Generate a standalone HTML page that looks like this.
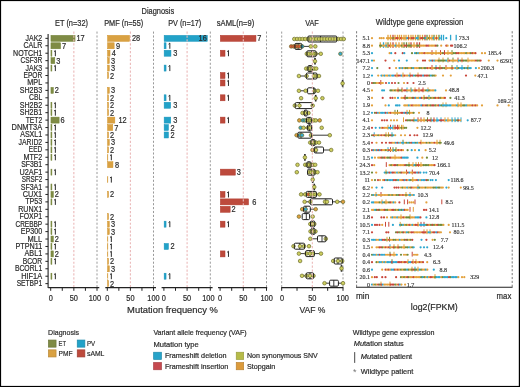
<!DOCTYPE html>
<html><head><meta charset="utf-8"><style>
html,body{margin:0;padding:0;background:#fff;}
svg{display:block;font-family:"Liberation Sans",sans-serif;will-change:transform;filter:blur(0.25px);}

</style></head><body>
<svg width="520" height="387" viewBox="0 0 520 387">
<rect x="0.00" y="0.00" width="520.00" height="387.00" fill="#000" />
<rect x="1.10" y="1.10" width="517.70" height="384.80" fill="#fff" />
<rect x="50.95" y="35.35" width="24.10" height="6.00" fill="#7f8b45" stroke="#718232" stroke-width="0.5"/>
<rect x="50.95" y="42.78" width="9.63" height="6.00" fill="#7f8b45" stroke="#718232" stroke-width="0.5"/>
<rect x="50.95" y="50.22" width="0.95" height="6.00" fill="#7f8b45" stroke="#718232" stroke-width="0.5"/>
<rect x="50.95" y="57.65" width="3.84" height="6.00" fill="#7f8b45" stroke="#718232" stroke-width="0.5"/>
<rect x="50.95" y="65.08" width="0.95" height="6.00" fill="#7f8b45" stroke="#718232" stroke-width="0.5"/>
<rect x="50.95" y="87.38" width="2.39" height="6.00" fill="#7f8b45" stroke="#718232" stroke-width="0.5"/>
<rect x="50.95" y="102.25" width="0.95" height="6.00" fill="#7f8b45" stroke="#718232" stroke-width="0.5"/>
<rect x="50.95" y="109.68" width="0.95" height="6.00" fill="#7f8b45" stroke="#718232" stroke-width="0.5"/>
<rect x="50.95" y="117.11" width="8.18" height="6.00" fill="#7f8b45" stroke="#718232" stroke-width="0.5"/>
<rect x="50.95" y="124.55" width="0.95" height="6.00" fill="#7f8b45" stroke="#718232" stroke-width="0.5"/>
<rect x="50.95" y="131.98" width="0.95" height="6.00" fill="#7f8b45" stroke="#718232" stroke-width="0.5"/>
<rect x="50.95" y="139.41" width="0.95" height="6.00" fill="#7f8b45" stroke="#718232" stroke-width="0.5"/>
<rect x="50.95" y="146.84" width="0.95" height="6.00" fill="#7f8b45" stroke="#718232" stroke-width="0.5"/>
<rect x="50.95" y="154.28" width="0.95" height="6.00" fill="#7f8b45" stroke="#718232" stroke-width="0.5"/>
<rect x="50.95" y="169.14" width="0.95" height="6.00" fill="#7f8b45" stroke="#718232" stroke-width="0.5"/>
<rect x="50.95" y="184.01" width="0.95" height="6.00" fill="#7f8b45" stroke="#718232" stroke-width="0.5"/>
<rect x="50.95" y="191.44" width="2.39" height="6.00" fill="#7f8b45" stroke="#718232" stroke-width="0.5"/>
<rect x="50.95" y="198.88" width="0.95" height="6.00" fill="#7f8b45" stroke="#718232" stroke-width="0.5"/>
<rect x="50.95" y="221.17" width="0.95" height="6.00" fill="#7f8b45" stroke="#718232" stroke-width="0.5"/>
<rect x="50.95" y="228.61" width="0.95" height="6.00" fill="#7f8b45" stroke="#718232" stroke-width="0.5"/>
<rect x="50.95" y="236.04" width="2.39" height="6.00" fill="#7f8b45" stroke="#718232" stroke-width="0.5"/>
<rect x="50.95" y="243.47" width="0.95" height="6.00" fill="#7f8b45" stroke="#718232" stroke-width="0.5"/>
<rect x="50.95" y="250.91" width="2.39" height="6.00" fill="#7f8b45" stroke="#718232" stroke-width="0.5"/>
<rect x="50.95" y="258.34" width="0.95" height="6.00" fill="#7f8b45" stroke="#718232" stroke-width="0.5"/>
<rect x="50.95" y="273.21" width="0.95" height="6.00" fill="#7f8b45" stroke="#718232" stroke-width="0.5"/>
<line x1="73.85" y1="31.55" x2="73.85" y2="287.60" stroke="#ebb9b9" stroke-width="1.1" stroke-dasharray="2.2 1.7" stroke-dashoffset="0"/>
<line x1="97.00" y1="31.55" x2="97.00" y2="287.60" stroke="#9a9a9a" stroke-width="1.0" stroke-dasharray="2.1 1.8" stroke-dashoffset="0"/>
<text x="76.40" y="41.35" font-size="8.6" fill="#2b2b2b" stroke="#2b2b2b" stroke-width="0.2" textLength="8.23" lengthAdjust="spacingAndGlyphs" >17</text>
<text x="61.93" y="48.78" font-size="8.6" fill="#2b2b2b" stroke="#2b2b2b" stroke-width="0.2" textLength="4.11" lengthAdjust="spacingAndGlyphs" >7</text>
<path d="M55.35,56.22 L55.35,50.52 L54.05,51.62" fill="none" stroke="#2b2b2b" stroke-width="1.0" stroke-linejoin="miter"/>
<text x="56.14" y="63.65" font-size="8.6" fill="#2b2b2b" stroke="#2b2b2b" stroke-width="0.2" textLength="4.11" lengthAdjust="spacingAndGlyphs" >3</text>
<path d="M55.35,71.08 L55.35,65.38 L54.05,66.48" fill="none" stroke="#2b2b2b" stroke-width="1.0" stroke-linejoin="miter"/>
<text x="54.69" y="93.38" font-size="8.6" fill="#2b2b2b" stroke="#2b2b2b" stroke-width="0.2" textLength="4.11" lengthAdjust="spacingAndGlyphs" >2</text>
<path d="M55.35,108.25 L55.35,102.55 L54.05,103.65" fill="none" stroke="#2b2b2b" stroke-width="1.0" stroke-linejoin="miter"/>
<path d="M55.35,115.68 L55.35,109.98 L54.05,111.08" fill="none" stroke="#2b2b2b" stroke-width="1.0" stroke-linejoin="miter"/>
<text x="60.48" y="123.11" font-size="8.6" fill="#2b2b2b" stroke="#2b2b2b" stroke-width="0.2" textLength="4.11" lengthAdjust="spacingAndGlyphs" >6</text>
<path d="M55.35,130.55 L55.35,124.85 L54.05,125.95" fill="none" stroke="#2b2b2b" stroke-width="1.0" stroke-linejoin="miter"/>
<path d="M55.35,137.98 L55.35,132.28 L54.05,133.38" fill="none" stroke="#2b2b2b" stroke-width="1.0" stroke-linejoin="miter"/>
<path d="M55.35,145.41 L55.35,139.71 L54.05,140.81" fill="none" stroke="#2b2b2b" stroke-width="1.0" stroke-linejoin="miter"/>
<path d="M55.35,152.84 L55.35,147.15 L54.05,148.25" fill="none" stroke="#2b2b2b" stroke-width="1.0" stroke-linejoin="miter"/>
<path d="M55.35,160.28 L55.35,154.58 L54.05,155.68" fill="none" stroke="#2b2b2b" stroke-width="1.0" stroke-linejoin="miter"/>
<path d="M55.35,175.14 L55.35,169.44 L54.05,170.54" fill="none" stroke="#2b2b2b" stroke-width="1.0" stroke-linejoin="miter"/>
<path d="M55.35,190.01 L55.35,184.31 L54.05,185.41" fill="none" stroke="#2b2b2b" stroke-width="1.0" stroke-linejoin="miter"/>
<text x="54.69" y="197.44" font-size="8.6" fill="#2b2b2b" stroke="#2b2b2b" stroke-width="0.2" textLength="4.11" lengthAdjust="spacingAndGlyphs" >2</text>
<path d="M55.35,204.88 L55.35,199.18 L54.05,200.28" fill="none" stroke="#2b2b2b" stroke-width="1.0" stroke-linejoin="miter"/>
<path d="M55.35,227.17 L55.35,221.47 L54.05,222.57" fill="none" stroke="#2b2b2b" stroke-width="1.0" stroke-linejoin="miter"/>
<path d="M55.35,234.61 L55.35,228.91 L54.05,230.01" fill="none" stroke="#2b2b2b" stroke-width="1.0" stroke-linejoin="miter"/>
<text x="54.69" y="242.04" font-size="8.6" fill="#2b2b2b" stroke="#2b2b2b" stroke-width="0.2" textLength="4.11" lengthAdjust="spacingAndGlyphs" >2</text>
<path d="M55.35,249.47 L55.35,243.77 L54.05,244.87" fill="none" stroke="#2b2b2b" stroke-width="1.0" stroke-linejoin="miter"/>
<text x="54.69" y="256.91" font-size="8.6" fill="#2b2b2b" stroke="#2b2b2b" stroke-width="0.2" textLength="4.11" lengthAdjust="spacingAndGlyphs" >2</text>
<path d="M55.35,264.34 L55.35,258.64 L54.05,259.74" fill="none" stroke="#2b2b2b" stroke-width="1.0" stroke-linejoin="miter"/>
<path d="M55.35,279.21 L55.35,273.51 L54.05,274.61" fill="none" stroke="#2b2b2b" stroke-width="1.0" stroke-linejoin="miter"/>
<line x1="48.20" y1="287.60" x2="99.30" y2="287.60" stroke="#222" stroke-width="1.1"/>
<line x1="50.70" y1="287.60" x2="50.70" y2="290.80" stroke="#222" stroke-width="1.0"/>
<line x1="62.28" y1="287.60" x2="62.28" y2="290.80" stroke="#222" stroke-width="1.0"/>
<line x1="73.85" y1="287.60" x2="73.85" y2="290.80" stroke="#222" stroke-width="1.0"/>
<line x1="85.42" y1="287.60" x2="85.42" y2="290.80" stroke="#222" stroke-width="1.0"/>
<line x1="97.00" y1="287.60" x2="97.00" y2="290.80" stroke="#222" stroke-width="1.0"/>
<text x="48.65" y="300.70" font-size="8.2" fill="#2b2b2b" stroke="#2b2b2b" stroke-width="0.2" textLength="4.10" lengthAdjust="spacingAndGlyphs" >0</text>
<text x="69.75" y="300.70" font-size="8.2" fill="#2b2b2b" stroke="#2b2b2b" stroke-width="0.2" textLength="8.21" lengthAdjust="spacingAndGlyphs" >50</text>
<text x="88.74" y="300.70" font-size="8.2" fill="#2b2b2b" stroke="#2b2b2b" stroke-width="0.2" textLength="12.31" lengthAdjust="spacingAndGlyphs" >100</text>
<rect x="107.55" y="35.35" width="22.10" height="6.00" fill="#d9a142" stroke="#d1942c" stroke-width="0.5"/>
<rect x="107.55" y="42.78" width="6.60" height="6.00" fill="#d9a142" stroke="#d1942c" stroke-width="0.5"/>
<rect x="107.55" y="50.22" width="2.46" height="6.00" fill="#d9a142" stroke="#d1942c" stroke-width="0.5"/>
<rect x="107.55" y="57.65" width="1.72" height="6.00" fill="#d9a142" stroke="#d1942c" stroke-width="0.5"/>
<rect x="107.55" y="65.08" width="1.72" height="6.00" fill="#d9a142" stroke="#d1942c" stroke-width="0.5"/>
<rect x="107.55" y="72.52" width="0.98" height="6.00" fill="#d9a142" stroke="#d1942c" stroke-width="0.5"/>
<rect x="107.55" y="87.38" width="1.72" height="6.00" fill="#d9a142" stroke="#d1942c" stroke-width="0.5"/>
<rect x="107.55" y="94.81" width="0.98" height="6.00" fill="#d9a142" stroke="#d1942c" stroke-width="0.5"/>
<rect x="107.55" y="102.25" width="0.98" height="6.00" fill="#d9a142" stroke="#d1942c" stroke-width="0.5"/>
<rect x="107.55" y="109.68" width="0.98" height="6.00" fill="#d9a142" stroke="#d1942c" stroke-width="0.5"/>
<rect x="107.55" y="117.11" width="7.30" height="6.00" fill="#d9a142" stroke="#d1942c" stroke-width="0.5"/>
<rect x="107.55" y="124.55" width="5.20" height="6.00" fill="#d9a142" stroke="#d1942c" stroke-width="0.5"/>
<rect x="107.55" y="131.98" width="0.98" height="6.00" fill="#d9a142" stroke="#d1942c" stroke-width="0.5"/>
<rect x="107.55" y="139.41" width="1.72" height="6.00" fill="#d9a142" stroke="#d1942c" stroke-width="0.5"/>
<rect x="107.55" y="146.84" width="0.98" height="6.00" fill="#d9a142" stroke="#d1942c" stroke-width="0.5"/>
<rect x="107.55" y="154.28" width="0.30" height="6.00" fill="#d9a142" stroke="#d1942c" stroke-width="0.5"/>
<rect x="107.55" y="161.71" width="5.40" height="6.00" fill="#d9a142" stroke="#d1942c" stroke-width="0.5"/>
<rect x="107.55" y="176.58" width="0.30" height="6.00" fill="#d9a142" stroke="#d1942c" stroke-width="0.5"/>
<rect x="107.55" y="191.44" width="0.98" height="6.00" fill="#d9a142" stroke="#d1942c" stroke-width="0.5"/>
<rect x="107.55" y="213.74" width="0.98" height="6.00" fill="#d9a142" stroke="#d1942c" stroke-width="0.5"/>
<rect x="107.55" y="221.17" width="1.72" height="6.00" fill="#d9a142" stroke="#d1942c" stroke-width="0.5"/>
<rect x="107.55" y="228.61" width="1.72" height="6.00" fill="#d9a142" stroke="#d1942c" stroke-width="0.5"/>
<rect x="107.55" y="236.04" width="0.30" height="6.00" fill="#d9a142" stroke="#d1942c" stroke-width="0.5"/>
<rect x="107.55" y="243.47" width="0.30" height="6.00" fill="#d9a142" stroke="#d1942c" stroke-width="0.5"/>
<rect x="107.55" y="250.91" width="0.30" height="6.00" fill="#d9a142" stroke="#d1942c" stroke-width="0.5"/>
<rect x="107.55" y="258.34" width="0.98" height="6.00" fill="#d9a142" stroke="#d1942c" stroke-width="0.5"/>
<rect x="107.55" y="265.77" width="1.72" height="6.00" fill="#d9a142" stroke="#d1942c" stroke-width="0.5"/>
<rect x="107.55" y="273.21" width="0.30" height="6.00" fill="#d9a142" stroke="#d1942c" stroke-width="0.5"/>
<rect x="107.55" y="280.64" width="0.98" height="6.00" fill="#d9a142" stroke="#d1942c" stroke-width="0.5"/>
<line x1="130.40" y1="31.55" x2="130.40" y2="287.60" stroke="#ebb9b9" stroke-width="1.1" stroke-dasharray="2.2 1.7" stroke-dashoffset="0"/>
<line x1="153.50" y1="31.55" x2="153.50" y2="287.60" stroke="#9a9a9a" stroke-width="1.0" stroke-dasharray="2.1 1.8" stroke-dashoffset="0"/>
<text x="131.92" y="41.35" font-size="8.6" fill="#2b2b2b" stroke="#2b2b2b" stroke-width="0.2" textLength="8.23" lengthAdjust="spacingAndGlyphs" >28</text>
<text x="115.96" y="48.78" font-size="8.6" fill="#2b2b2b" stroke="#2b2b2b" stroke-width="0.2" textLength="4.11" lengthAdjust="spacingAndGlyphs" >9</text>
<text x="111.76" y="56.22" font-size="8.6" fill="#2b2b2b" stroke="#2b2b2b" stroke-width="0.2" textLength="4.11" lengthAdjust="spacingAndGlyphs" >4</text>
<text x="110.92" y="63.65" font-size="8.6" fill="#2b2b2b" stroke="#2b2b2b" stroke-width="0.2" textLength="4.11" lengthAdjust="spacingAndGlyphs" >3</text>
<text x="110.92" y="71.08" font-size="8.6" fill="#2b2b2b" stroke="#2b2b2b" stroke-width="0.2" textLength="4.11" lengthAdjust="spacingAndGlyphs" >3</text>
<text x="110.08" y="78.52" font-size="8.6" fill="#2b2b2b" stroke="#2b2b2b" stroke-width="0.2" textLength="4.11" lengthAdjust="spacingAndGlyphs" >2</text>
<text x="110.92" y="93.38" font-size="8.6" fill="#2b2b2b" stroke="#2b2b2b" stroke-width="0.2" textLength="4.11" lengthAdjust="spacingAndGlyphs" >3</text>
<text x="110.08" y="100.81" font-size="8.6" fill="#2b2b2b" stroke="#2b2b2b" stroke-width="0.2" textLength="4.11" lengthAdjust="spacingAndGlyphs" >2</text>
<text x="110.08" y="108.25" font-size="8.6" fill="#2b2b2b" stroke="#2b2b2b" stroke-width="0.2" textLength="4.11" lengthAdjust="spacingAndGlyphs" >2</text>
<text x="110.08" y="115.68" font-size="8.6" fill="#2b2b2b" stroke="#2b2b2b" stroke-width="0.2" textLength="4.11" lengthAdjust="spacingAndGlyphs" >2</text>
<text x="118.48" y="123.11" font-size="8.6" fill="#2b2b2b" stroke="#2b2b2b" stroke-width="0.2" textLength="8.23" lengthAdjust="spacingAndGlyphs" >12</text>
<text x="114.28" y="130.55" font-size="8.6" fill="#2b2b2b" stroke="#2b2b2b" stroke-width="0.2" textLength="4.11" lengthAdjust="spacingAndGlyphs" >7</text>
<text x="110.08" y="137.98" font-size="8.6" fill="#2b2b2b" stroke="#2b2b2b" stroke-width="0.2" textLength="4.11" lengthAdjust="spacingAndGlyphs" >2</text>
<text x="110.92" y="145.41" font-size="8.6" fill="#2b2b2b" stroke="#2b2b2b" stroke-width="0.2" textLength="4.11" lengthAdjust="spacingAndGlyphs" >3</text>
<text x="110.08" y="152.84" font-size="8.6" fill="#2b2b2b" stroke="#2b2b2b" stroke-width="0.2" textLength="4.11" lengthAdjust="spacingAndGlyphs" >2</text>
<path d="M111.34,160.28 L111.34,154.58 L110.04,155.68" fill="none" stroke="#2b2b2b" stroke-width="1.0" stroke-linejoin="miter"/>
<text x="115.12" y="167.71" font-size="8.6" fill="#2b2b2b" stroke="#2b2b2b" stroke-width="0.2" textLength="4.11" lengthAdjust="spacingAndGlyphs" >8</text>
<path d="M111.34,182.58 L111.34,176.88 L110.04,177.98" fill="none" stroke="#2b2b2b" stroke-width="1.0" stroke-linejoin="miter"/>
<text x="110.08" y="197.44" font-size="8.6" fill="#2b2b2b" stroke="#2b2b2b" stroke-width="0.2" textLength="4.11" lengthAdjust="spacingAndGlyphs" >2</text>
<text x="110.08" y="219.74" font-size="8.6" fill="#2b2b2b" stroke="#2b2b2b" stroke-width="0.2" textLength="4.11" lengthAdjust="spacingAndGlyphs" >2</text>
<text x="110.92" y="227.17" font-size="8.6" fill="#2b2b2b" stroke="#2b2b2b" stroke-width="0.2" textLength="4.11" lengthAdjust="spacingAndGlyphs" >3</text>
<text x="110.92" y="234.61" font-size="8.6" fill="#2b2b2b" stroke="#2b2b2b" stroke-width="0.2" textLength="4.11" lengthAdjust="spacingAndGlyphs" >3</text>
<path d="M111.34,242.04 L111.34,236.34 L110.04,237.44" fill="none" stroke="#2b2b2b" stroke-width="1.0" stroke-linejoin="miter"/>
<path d="M111.34,249.47 L111.34,243.77 L110.04,244.87" fill="none" stroke="#2b2b2b" stroke-width="1.0" stroke-linejoin="miter"/>
<path d="M111.34,256.91 L111.34,251.21 L110.04,252.31" fill="none" stroke="#2b2b2b" stroke-width="1.0" stroke-linejoin="miter"/>
<text x="110.08" y="264.34" font-size="8.6" fill="#2b2b2b" stroke="#2b2b2b" stroke-width="0.2" textLength="4.11" lengthAdjust="spacingAndGlyphs" >2</text>
<text x="110.92" y="271.77" font-size="8.6" fill="#2b2b2b" stroke="#2b2b2b" stroke-width="0.2" textLength="4.11" lengthAdjust="spacingAndGlyphs" >3</text>
<path d="M111.34,279.21 L111.34,273.51 L110.04,274.61" fill="none" stroke="#2b2b2b" stroke-width="1.0" stroke-linejoin="miter"/>
<text x="110.08" y="286.64" font-size="8.6" fill="#2b2b2b" stroke="#2b2b2b" stroke-width="0.2" textLength="4.11" lengthAdjust="spacingAndGlyphs" >2</text>
<line x1="105.30" y1="287.60" x2="156.00" y2="287.60" stroke="#222" stroke-width="1.1"/>
<line x1="107.30" y1="287.60" x2="107.30" y2="290.80" stroke="#222" stroke-width="1.0"/>
<line x1="118.85" y1="287.60" x2="118.85" y2="290.80" stroke="#222" stroke-width="1.0"/>
<line x1="130.40" y1="287.60" x2="130.40" y2="290.80" stroke="#222" stroke-width="1.0"/>
<line x1="141.95" y1="287.60" x2="141.95" y2="290.80" stroke="#222" stroke-width="1.0"/>
<line x1="153.50" y1="287.60" x2="153.50" y2="290.80" stroke="#222" stroke-width="1.0"/>
<text x="105.25" y="300.70" font-size="8.2" fill="#2b2b2b" stroke="#2b2b2b" stroke-width="0.2" textLength="4.10" lengthAdjust="spacingAndGlyphs" >0</text>
<text x="126.30" y="300.70" font-size="8.2" fill="#2b2b2b" stroke="#2b2b2b" stroke-width="0.2" textLength="8.21" lengthAdjust="spacingAndGlyphs" >50</text>
<text x="147.34" y="300.70" font-size="8.2" fill="#2b2b2b" stroke="#2b2b2b" stroke-width="0.2" textLength="12.31" lengthAdjust="spacingAndGlyphs" >100</text>
<rect x="164.15" y="35.35" width="43.17" height="6.00" fill="#22a2c8" stroke="#1894bb" stroke-width="0.5"/>
<rect x="164.15" y="42.78" width="1.90" height="6.00" fill="#22a2c8" stroke="#1894bb" stroke-width="0.5"/>
<rect x="164.15" y="50.22" width="6.80" height="6.00" fill="#22a2c8" stroke="#1894bb" stroke-width="0.5"/>
<rect x="164.15" y="65.08" width="1.90" height="6.00" fill="#22a2c8" stroke="#1894bb" stroke-width="0.5"/>
<rect x="164.15" y="94.81" width="1.90" height="6.00" fill="#22a2c8" stroke="#1894bb" stroke-width="0.5"/>
<rect x="164.15" y="102.25" width="6.50" height="6.00" fill="#22a2c8" stroke="#1894bb" stroke-width="0.5"/>
<rect x="164.15" y="117.11" width="6.60" height="6.00" fill="#22a2c8" stroke="#1894bb" stroke-width="0.5"/>
<rect x="164.15" y="124.55" width="4.30" height="6.00" fill="#22a2c8" stroke="#1894bb" stroke-width="0.5"/>
<rect x="164.15" y="131.98" width="4.30" height="6.00" fill="#22a2c8" stroke="#1894bb" stroke-width="0.5"/>
<rect x="164.15" y="221.17" width="1.90" height="6.00" fill="#22a2c8" stroke="#1894bb" stroke-width="0.5"/>
<rect x="164.15" y="243.47" width="4.30" height="6.00" fill="#22a2c8" stroke="#1894bb" stroke-width="0.5"/>
<rect x="164.15" y="273.21" width="1.90" height="6.00" fill="#22a2c8" stroke="#1894bb" stroke-width="0.5"/>
<line x1="187.10" y1="31.55" x2="187.10" y2="287.60" stroke="#ebb9b9" stroke-width="1.1" stroke-dasharray="2.2 1.7" stroke-dashoffset="0"/>
<line x1="210.30" y1="31.55" x2="210.30" y2="287.60" stroke="#9a9a9a" stroke-width="1.0" stroke-dasharray="2.1 1.8" stroke-dashoffset="0"/>
<text x="198.54" y="41.35" font-size="8.6" fill="#2b2b2b" stroke="#2b2b2b" stroke-width="0.2" textLength="8.23" lengthAdjust="spacingAndGlyphs" >16</text>
<path d="M169.83,48.78 L169.83,43.08 L168.53,44.18" fill="none" stroke="#2b2b2b" stroke-width="1.0" stroke-linejoin="miter"/>
<text x="173.19" y="56.22" font-size="8.6" fill="#2b2b2b" stroke="#2b2b2b" stroke-width="0.2" textLength="4.11" lengthAdjust="spacingAndGlyphs" >3</text>
<path d="M169.83,71.08 L169.83,65.38 L168.53,66.48" fill="none" stroke="#2b2b2b" stroke-width="1.0" stroke-linejoin="miter"/>
<path d="M169.83,100.81 L169.83,95.11 L168.53,96.21" fill="none" stroke="#2b2b2b" stroke-width="1.0" stroke-linejoin="miter"/>
<text x="173.19" y="108.25" font-size="8.6" fill="#2b2b2b" stroke="#2b2b2b" stroke-width="0.2" textLength="4.11" lengthAdjust="spacingAndGlyphs" >3</text>
<text x="173.19" y="123.11" font-size="8.6" fill="#2b2b2b" stroke="#2b2b2b" stroke-width="0.2" textLength="4.11" lengthAdjust="spacingAndGlyphs" >3</text>
<text x="170.46" y="130.55" font-size="8.6" fill="#2b2b2b" stroke="#2b2b2b" stroke-width="0.2" textLength="4.11" lengthAdjust="spacingAndGlyphs" >2</text>
<text x="170.46" y="137.98" font-size="8.6" fill="#2b2b2b" stroke="#2b2b2b" stroke-width="0.2" textLength="4.11" lengthAdjust="spacingAndGlyphs" >2</text>
<path d="M169.83,227.17 L169.83,221.47 L168.53,222.57" fill="none" stroke="#2b2b2b" stroke-width="1.0" stroke-linejoin="miter"/>
<text x="170.46" y="249.47" font-size="8.6" fill="#2b2b2b" stroke="#2b2b2b" stroke-width="0.2" textLength="4.11" lengthAdjust="spacingAndGlyphs" >2</text>
<path d="M169.83,279.21 L169.83,273.51 L168.53,274.61" fill="none" stroke="#2b2b2b" stroke-width="1.0" stroke-linejoin="miter"/>
<line x1="161.60" y1="287.60" x2="212.60" y2="287.60" stroke="#222" stroke-width="1.1"/>
<line x1="163.90" y1="287.60" x2="163.90" y2="290.80" stroke="#222" stroke-width="1.0"/>
<line x1="175.50" y1="287.60" x2="175.50" y2="290.80" stroke="#222" stroke-width="1.0"/>
<line x1="187.10" y1="287.60" x2="187.10" y2="290.80" stroke="#222" stroke-width="1.0"/>
<line x1="198.70" y1="287.60" x2="198.70" y2="290.80" stroke="#222" stroke-width="1.0"/>
<line x1="210.30" y1="287.60" x2="210.30" y2="290.80" stroke="#222" stroke-width="1.0"/>
<text x="161.85" y="300.70" font-size="8.2" fill="#2b2b2b" stroke="#2b2b2b" stroke-width="0.2" textLength="4.10" lengthAdjust="spacingAndGlyphs" >0</text>
<text x="183.00" y="300.70" font-size="8.2" fill="#2b2b2b" stroke="#2b2b2b" stroke-width="0.2" textLength="8.21" lengthAdjust="spacingAndGlyphs" >50</text>
<text x="202.24" y="300.70" font-size="8.2" fill="#2b2b2b" stroke="#2b2b2b" stroke-width="0.2" textLength="12.31" lengthAdjust="spacingAndGlyphs" >100</text>
<rect x="220.35" y="35.35" width="35.59" height="6.00" fill="#bd4a3c" stroke="#b0392d" stroke-width="0.5"/>
<rect x="220.35" y="50.22" width="4.66" height="6.00" fill="#bd4a3c" stroke="#b0392d" stroke-width="0.5"/>
<rect x="220.35" y="72.52" width="4.66" height="6.00" fill="#bd4a3c" stroke="#b0392d" stroke-width="0.5"/>
<rect x="220.35" y="79.95" width="4.66" height="6.00" fill="#bd4a3c" stroke="#b0392d" stroke-width="0.5"/>
<rect x="220.35" y="94.81" width="4.66" height="6.00" fill="#bd4a3c" stroke="#b0392d" stroke-width="0.5"/>
<rect x="220.35" y="117.11" width="4.66" height="6.00" fill="#bd4a3c" stroke="#b0392d" stroke-width="0.5"/>
<rect x="220.35" y="169.14" width="14.97" height="6.00" fill="#bd4a3c" stroke="#b0392d" stroke-width="0.5"/>
<rect x="220.35" y="191.44" width="4.66" height="6.00" fill="#bd4a3c" stroke="#b0392d" stroke-width="0.5"/>
<rect x="220.35" y="198.88" width="28.20" height="6.00" fill="#bd4a3c" stroke="#b0392d" stroke-width="0.5"/>
<rect x="220.35" y="206.31" width="9.81" height="6.00" fill="#bd4a3c" stroke="#b0392d" stroke-width="0.5"/>
<rect x="220.35" y="221.17" width="4.66" height="6.00" fill="#bd4a3c" stroke="#b0392d" stroke-width="0.5"/>
<rect x="220.35" y="250.91" width="4.66" height="6.00" fill="#bd4a3c" stroke="#b0392d" stroke-width="0.5"/>
<line x1="243.30" y1="31.55" x2="243.30" y2="287.60" stroke="#ebb9b9" stroke-width="1.1" stroke-dasharray="2.2 1.7" stroke-dashoffset="0"/>
<line x1="266.50" y1="31.55" x2="266.50" y2="287.60" stroke="#9a9a9a" stroke-width="1.0" stroke-dasharray="2.1 1.8" stroke-dashoffset="0"/>
<text x="257.29" y="41.35" font-size="8.6" fill="#2b2b2b" stroke="#2b2b2b" stroke-width="0.2" textLength="4.11" lengthAdjust="spacingAndGlyphs" >7</text>
<path d="M228.46,56.22 L228.46,50.52 L227.16,51.62" fill="none" stroke="#2b2b2b" stroke-width="1.0" stroke-linejoin="miter"/>
<path d="M228.46,78.52 L228.46,72.81 L227.16,73.91" fill="none" stroke="#2b2b2b" stroke-width="1.0" stroke-linejoin="miter"/>
<path d="M228.46,85.95 L228.46,80.25 L227.16,81.35" fill="none" stroke="#2b2b2b" stroke-width="1.0" stroke-linejoin="miter"/>
<path d="M228.46,100.81 L228.46,95.11 L227.16,96.21" fill="none" stroke="#2b2b2b" stroke-width="1.0" stroke-linejoin="miter"/>
<path d="M228.46,123.11 L228.46,117.41 L227.16,118.51" fill="none" stroke="#2b2b2b" stroke-width="1.0" stroke-linejoin="miter"/>
<text x="236.67" y="175.14" font-size="8.6" fill="#2b2b2b" stroke="#2b2b2b" stroke-width="0.2" textLength="4.11" lengthAdjust="spacingAndGlyphs" >3</text>
<path d="M228.46,197.44 L228.46,191.74 L227.16,192.84" fill="none" stroke="#2b2b2b" stroke-width="1.0" stroke-linejoin="miter"/>
<text x="252.13" y="204.88" font-size="8.6" fill="#2b2b2b" stroke="#2b2b2b" stroke-width="0.2" textLength="4.11" lengthAdjust="spacingAndGlyphs" >6</text>
<text x="231.51" y="212.31" font-size="8.6" fill="#2b2b2b" stroke="#2b2b2b" stroke-width="0.2" textLength="4.11" lengthAdjust="spacingAndGlyphs" >2</text>
<path d="M228.46,227.17 L228.46,221.47 L227.16,222.57" fill="none" stroke="#2b2b2b" stroke-width="1.0" stroke-linejoin="miter"/>
<path d="M228.46,256.91 L228.46,251.21 L227.16,252.31" fill="none" stroke="#2b2b2b" stroke-width="1.0" stroke-linejoin="miter"/>
<line x1="218.00" y1="287.60" x2="267.20" y2="287.60" stroke="#222" stroke-width="1.1"/>
<line x1="220.10" y1="287.60" x2="220.10" y2="290.80" stroke="#222" stroke-width="1.0"/>
<line x1="231.70" y1="287.60" x2="231.70" y2="290.80" stroke="#222" stroke-width="1.0"/>
<line x1="243.30" y1="287.60" x2="243.30" y2="290.80" stroke="#222" stroke-width="1.0"/>
<line x1="254.90" y1="287.60" x2="254.90" y2="290.80" stroke="#222" stroke-width="1.0"/>
<line x1="266.50" y1="287.60" x2="266.50" y2="290.80" stroke="#222" stroke-width="1.0"/>
<text x="218.05" y="300.70" font-size="8.2" fill="#2b2b2b" stroke="#2b2b2b" stroke-width="0.2" textLength="4.10" lengthAdjust="spacingAndGlyphs" >0</text>
<text x="239.20" y="300.70" font-size="8.2" fill="#2b2b2b" stroke="#2b2b2b" stroke-width="0.2" textLength="8.21" lengthAdjust="spacingAndGlyphs" >50</text>
<text x="260.44" y="300.70" font-size="8.2" fill="#2b2b2b" stroke="#2b2b2b" stroke-width="0.2" textLength="12.31" lengthAdjust="spacingAndGlyphs" >100</text>
<line x1="48.10" y1="34.00" x2="48.10" y2="288.10" stroke="#222" stroke-width="1.1"/>
<line x1="45.40" y1="38.35" x2="48.10" y2="38.35" stroke="#222" stroke-width="1.0"/>
<text x="25.50" y="40.85" font-size="8.4" fill="#2b2b2b" stroke="#2b2b2b" stroke-width="0.2" textLength="16.70" lengthAdjust="spacingAndGlyphs" >JAK2</text>
<line x1="45.40" y1="45.78" x2="48.10" y2="45.78" stroke="#222" stroke-width="1.0"/>
<text x="23.50" y="48.28" font-size="8.4" fill="#2b2b2b" stroke="#2b2b2b" stroke-width="0.2" textLength="18.70" lengthAdjust="spacingAndGlyphs" >CALR</text>
<line x1="45.40" y1="53.22" x2="48.10" y2="53.22" stroke="#222" stroke-width="1.0"/>
<text x="13.10" y="55.72" font-size="8.4" fill="#2b2b2b" stroke="#2b2b2b" stroke-width="0.2" textLength="29.10" lengthAdjust="spacingAndGlyphs" >NOTCH1</text>
<line x1="45.40" y1="60.65" x2="48.10" y2="60.65" stroke="#222" stroke-width="1.0"/>
<text x="20.50" y="63.15" font-size="8.4" fill="#2b2b2b" stroke="#2b2b2b" stroke-width="0.2" textLength="21.70" lengthAdjust="spacingAndGlyphs" >CSF3R</text>
<line x1="45.40" y1="68.08" x2="48.10" y2="68.08" stroke="#222" stroke-width="1.0"/>
<text x="25.50" y="70.58" font-size="8.4" fill="#2b2b2b" stroke="#2b2b2b" stroke-width="0.2" textLength="16.70" lengthAdjust="spacingAndGlyphs" >JAK3</text>
<line x1="45.40" y1="75.52" x2="48.10" y2="75.52" stroke="#222" stroke-width="1.0"/>
<text x="23.50" y="78.02" font-size="8.4" fill="#2b2b2b" stroke="#2b2b2b" stroke-width="0.2" textLength="18.70" lengthAdjust="spacingAndGlyphs" >EPOR</text>
<line x1="45.40" y1="82.95" x2="48.10" y2="82.95" stroke="#222" stroke-width="1.0"/>
<text x="27.30" y="85.45" font-size="8.4" fill="#2b2b2b" stroke="#2b2b2b" stroke-width="0.2" textLength="14.90" lengthAdjust="spacingAndGlyphs" >MPL</text>
<line x1="45.40" y1="90.38" x2="48.10" y2="90.38" stroke="#222" stroke-width="1.0"/>
<text x="19.70" y="92.88" font-size="8.4" fill="#2b2b2b" stroke="#2b2b2b" stroke-width="0.2" textLength="22.50" lengthAdjust="spacingAndGlyphs" >SH2B3</text>
<line x1="45.40" y1="97.81" x2="48.10" y2="97.81" stroke="#222" stroke-width="1.0"/>
<text x="29.00" y="100.31" font-size="8.4" fill="#2b2b2b" stroke="#2b2b2b" stroke-width="0.2" textLength="13.20" lengthAdjust="spacingAndGlyphs" >CBL</text>
<line x1="45.40" y1="105.25" x2="48.10" y2="105.25" stroke="#222" stroke-width="1.0"/>
<text x="19.70" y="107.75" font-size="8.4" fill="#2b2b2b" stroke="#2b2b2b" stroke-width="0.2" textLength="22.50" lengthAdjust="spacingAndGlyphs" >SH2B2</text>
<line x1="45.40" y1="112.68" x2="48.10" y2="112.68" stroke="#222" stroke-width="1.0"/>
<text x="19.70" y="115.18" font-size="8.4" fill="#2b2b2b" stroke="#2b2b2b" stroke-width="0.2" textLength="22.50" lengthAdjust="spacingAndGlyphs" >SH2B1</text>
<line x1="45.40" y1="120.11" x2="48.10" y2="120.11" stroke="#222" stroke-width="1.0"/>
<text x="25.70" y="122.61" font-size="8.4" fill="#2b2b2b" stroke="#2b2b2b" stroke-width="0.2" textLength="16.50" lengthAdjust="spacingAndGlyphs" >TET2</text>
<line x1="45.40" y1="127.55" x2="48.10" y2="127.55" stroke="#222" stroke-width="1.0"/>
<text x="11.60" y="130.05" font-size="8.4" fill="#2b2b2b" stroke="#2b2b2b" stroke-width="0.2" textLength="30.60" lengthAdjust="spacingAndGlyphs" >DNMT3A</text>
<line x1="45.40" y1="134.98" x2="48.10" y2="134.98" stroke="#222" stroke-width="1.0"/>
<text x="20.20" y="137.48" font-size="8.4" fill="#2b2b2b" stroke="#2b2b2b" stroke-width="0.2" textLength="22.00" lengthAdjust="spacingAndGlyphs" >ASXL1</text>
<line x1="45.40" y1="142.41" x2="48.10" y2="142.41" stroke="#222" stroke-width="1.0"/>
<text x="18.50" y="144.91" font-size="8.4" fill="#2b2b2b" stroke="#2b2b2b" stroke-width="0.2" textLength="23.70" lengthAdjust="spacingAndGlyphs" >JARID2</text>
<line x1="45.40" y1="149.84" x2="48.10" y2="149.84" stroke="#222" stroke-width="1.0"/>
<text x="28.80" y="152.34" font-size="8.4" fill="#2b2b2b" stroke="#2b2b2b" stroke-width="0.2" textLength="13.40" lengthAdjust="spacingAndGlyphs" >EED</text>
<line x1="45.40" y1="157.28" x2="48.10" y2="157.28" stroke="#222" stroke-width="1.0"/>
<text x="23.50" y="159.78" font-size="8.4" fill="#2b2b2b" stroke="#2b2b2b" stroke-width="0.2" textLength="18.70" lengthAdjust="spacingAndGlyphs" >MTF2</text>
<line x1="45.40" y1="164.71" x2="48.10" y2="164.71" stroke="#222" stroke-width="1.0"/>
<text x="21.20" y="167.21" font-size="8.4" fill="#2b2b2b" stroke="#2b2b2b" stroke-width="0.2" textLength="21.00" lengthAdjust="spacingAndGlyphs" >SF3B1</text>
<line x1="45.40" y1="172.14" x2="48.10" y2="172.14" stroke="#222" stroke-width="1.0"/>
<text x="19.50" y="174.64" font-size="8.4" fill="#2b2b2b" stroke="#2b2b2b" stroke-width="0.2" textLength="22.70" lengthAdjust="spacingAndGlyphs" >U2AF1</text>
<line x1="45.40" y1="179.58" x2="48.10" y2="179.58" stroke="#222" stroke-width="1.0"/>
<text x="21.70" y="182.08" font-size="8.4" fill="#2b2b2b" stroke="#2b2b2b" stroke-width="0.2" textLength="20.50" lengthAdjust="spacingAndGlyphs" >SRSF2</text>
<line x1="45.40" y1="187.01" x2="48.10" y2="187.01" stroke="#222" stroke-width="1.0"/>
<text x="20.70" y="189.51" font-size="8.4" fill="#2b2b2b" stroke="#2b2b2b" stroke-width="0.2" textLength="21.50" lengthAdjust="spacingAndGlyphs" >SF3A1</text>
<line x1="45.40" y1="194.44" x2="48.10" y2="194.44" stroke="#222" stroke-width="1.0"/>
<text x="22.70" y="196.94" font-size="8.4" fill="#2b2b2b" stroke="#2b2b2b" stroke-width="0.2" textLength="19.50" lengthAdjust="spacingAndGlyphs" >CUX1</text>
<line x1="45.40" y1="201.88" x2="48.10" y2="201.88" stroke="#222" stroke-width="1.0"/>
<text x="25.20" y="204.38" font-size="8.4" fill="#2b2b2b" stroke="#2b2b2b" stroke-width="0.2" textLength="17.00" lengthAdjust="spacingAndGlyphs" >TP53</text>
<line x1="45.40" y1="209.31" x2="48.10" y2="209.31" stroke="#222" stroke-width="1.0"/>
<text x="18.20" y="211.81" font-size="8.4" fill="#2b2b2b" stroke="#2b2b2b" stroke-width="0.2" textLength="24.00" lengthAdjust="spacingAndGlyphs" >RUNX1</text>
<line x1="45.40" y1="216.74" x2="48.10" y2="216.74" stroke="#222" stroke-width="1.0"/>
<text x="19.50" y="219.24" font-size="8.4" fill="#2b2b2b" stroke="#2b2b2b" stroke-width="0.2" textLength="22.70" lengthAdjust="spacingAndGlyphs" >FOXP1</text>
<line x1="45.40" y1="224.17" x2="48.10" y2="224.17" stroke="#222" stroke-width="1.0"/>
<text x="15.50" y="226.67" font-size="8.4" fill="#2b2b2b" stroke="#2b2b2b" stroke-width="0.2" textLength="26.70" lengthAdjust="spacingAndGlyphs" >CREBBP</text>
<line x1="45.40" y1="231.61" x2="48.10" y2="231.61" stroke="#222" stroke-width="1.0"/>
<text x="20.70" y="234.11" font-size="8.4" fill="#2b2b2b" stroke="#2b2b2b" stroke-width="0.2" textLength="21.50" lengthAdjust="spacingAndGlyphs" >EP300</text>
<line x1="45.40" y1="239.04" x2="48.10" y2="239.04" stroke="#222" stroke-width="1.0"/>
<text x="27.60" y="241.54" font-size="8.4" fill="#2b2b2b" stroke="#2b2b2b" stroke-width="0.2" textLength="14.60" lengthAdjust="spacingAndGlyphs" >MLL</text>
<line x1="45.40" y1="246.47" x2="48.10" y2="246.47" stroke="#222" stroke-width="1.0"/>
<text x="15.50" y="248.97" font-size="8.4" fill="#2b2b2b" stroke="#2b2b2b" stroke-width="0.2" textLength="26.70" lengthAdjust="spacingAndGlyphs" >PTPN11</text>
<line x1="45.40" y1="253.91" x2="48.10" y2="253.91" stroke="#222" stroke-width="1.0"/>
<text x="24.50" y="256.41" font-size="8.4" fill="#2b2b2b" stroke="#2b2b2b" stroke-width="0.2" textLength="17.70" lengthAdjust="spacingAndGlyphs" >ABL1</text>
<line x1="45.40" y1="261.34" x2="48.10" y2="261.34" stroke="#222" stroke-width="1.0"/>
<text x="22.70" y="263.84" font-size="8.4" fill="#2b2b2b" stroke="#2b2b2b" stroke-width="0.2" textLength="19.50" lengthAdjust="spacingAndGlyphs" >BCOR</text>
<line x1="45.40" y1="268.77" x2="48.10" y2="268.77" stroke="#222" stroke-width="1.0"/>
<text x="14.90" y="271.27" font-size="8.4" fill="#2b2b2b" stroke="#2b2b2b" stroke-width="0.2" textLength="27.30" lengthAdjust="spacingAndGlyphs" >BCORL1</text>
<line x1="45.40" y1="276.21" x2="48.10" y2="276.21" stroke="#222" stroke-width="1.0"/>
<text x="21.20" y="278.71" font-size="8.4" fill="#2b2b2b" stroke="#2b2b2b" stroke-width="0.2" textLength="21.00" lengthAdjust="spacingAndGlyphs" >HIF1A</text>
<line x1="45.40" y1="283.64" x2="48.10" y2="283.64" stroke="#222" stroke-width="1.0"/>
<text x="16.70" y="286.14" font-size="8.4" fill="#2b2b2b" stroke="#2b2b2b" stroke-width="0.2" textLength="25.50" lengthAdjust="spacingAndGlyphs" >SETBP1</text>
<text x="141.60" y="13.60" font-size="8.6" fill="#2b2b2b" stroke="#2b2b2b" stroke-width="0.2" textLength="32.60" lengthAdjust="spacingAndGlyphs" >Diagnosis</text>
<text x="55.00" y="25.80" font-size="8.6" fill="#2b2b2b" stroke="#2b2b2b" stroke-width="0.2" textLength="33.00" lengthAdjust="spacingAndGlyphs" >ET (n=32)</text>
<text x="104.20" y="25.80" font-size="8.6" fill="#2b2b2b" stroke="#2b2b2b" stroke-width="0.2" textLength="39.00" lengthAdjust="spacingAndGlyphs" >PMF (n=55)</text>
<text x="168.20" y="25.80" font-size="8.6" fill="#2b2b2b" stroke="#2b2b2b" stroke-width="0.2" textLength="33.00" lengthAdjust="spacingAndGlyphs" >PV (n=17)</text>
<text x="216.80" y="25.80" font-size="8.6" fill="#2b2b2b" stroke="#2b2b2b" stroke-width="0.2" textLength="37.40" lengthAdjust="spacingAndGlyphs" >sAML(n=9)</text>
<text x="305.20" y="25.80" font-size="8.6" fill="#2b2b2b" stroke="#2b2b2b" stroke-width="0.2" textLength="13.60" lengthAdjust="spacingAndGlyphs" >VAF</text>
<text x="375.70" y="25.30" font-size="8.6" fill="#2b2b2b" stroke="#2b2b2b" stroke-width="0.2" textLength="87.50" lengthAdjust="spacingAndGlyphs" >Wildtype gene expression</text>
<text x="127.10" y="312.70" font-size="9.8" fill="#2b2b2b" stroke="#2b2b2b" stroke-width="0.2" textLength="90.80" lengthAdjust="spacingAndGlyphs" >Mutation frequency %</text>
<line x1="281.70" y1="31.55" x2="281.70" y2="287.60" stroke="#9a9a9a" stroke-width="1.0" stroke-dasharray="2.1 1.8" stroke-dashoffset="0"/>
<line x1="343.00" y1="31.55" x2="343.00" y2="287.60" stroke="#9a9a9a" stroke-width="1.0" stroke-dasharray="2.1 1.8" stroke-dashoffset="0"/>
<line x1="281.20" y1="287.60" x2="343.40" y2="287.60" stroke="#222" stroke-width="1.1"/>
<line x1="281.70" y1="287.60" x2="281.70" y2="290.80" stroke="#222" stroke-width="1.0"/>
<line x1="297.02" y1="287.60" x2="297.02" y2="290.80" stroke="#222" stroke-width="1.0"/>
<line x1="312.35" y1="287.60" x2="312.35" y2="290.80" stroke="#222" stroke-width="1.0"/>
<line x1="327.68" y1="287.60" x2="327.68" y2="290.80" stroke="#222" stroke-width="1.0"/>
<line x1="343.00" y1="287.60" x2="343.00" y2="290.80" stroke="#222" stroke-width="1.0"/>
<text x="280.05" y="300.70" font-size="8.2" fill="#2b2b2b" stroke="#2b2b2b" stroke-width="0.2" textLength="4.10" lengthAdjust="spacingAndGlyphs" >0</text>
<text x="308.20" y="300.70" font-size="8.2" fill="#2b2b2b" stroke="#2b2b2b" stroke-width="0.2" textLength="8.21" lengthAdjust="spacingAndGlyphs" >50</text>
<text x="336.54" y="300.70" font-size="8.2" fill="#2b2b2b" stroke="#2b2b2b" stroke-width="0.2" textLength="12.31" lengthAdjust="spacingAndGlyphs" >100</text>
<text x="299.40" y="312.90" font-size="9.8" fill="#2b2b2b" stroke="#2b2b2b" stroke-width="0.2" textLength="26.00" lengthAdjust="spacingAndGlyphs" >VAF %</text>
<line x1="294.30" y1="39.00" x2="343.80" y2="39.00" stroke="#222" stroke-width="0.9"/>
<rect x="307.90" y="36.00" width="28.90" height="6.00" rx="1.1" fill="#f0f0f0"/>
<line x1="320.50" y1="36.00" x2="320.50" y2="42.00" stroke="#222" stroke-width="0.9"/>
<circle cx="294.30" cy="39.00" r="1.8" fill="#cdcf60" stroke="#6c6c2a" stroke-width="0.7"/>
<circle cx="297.05" cy="39.00" r="1.8" fill="#cdcf60" stroke="#6c6c2a" stroke-width="0.7"/>
<circle cx="299.80" cy="39.00" r="1.8" fill="#cdcf60" stroke="#6c6c2a" stroke-width="0.7"/>
<circle cx="302.55" cy="39.00" r="1.8" fill="#cdcf60" stroke="#6c6c2a" stroke-width="0.7"/>
<circle cx="305.30" cy="39.00" r="1.8" fill="#cdcf60" stroke="#6c6c2a" stroke-width="0.7"/>
<circle cx="308.05" cy="39.00" r="1.8" fill="#cdcf60" stroke="#6c6c2a" stroke-width="0.7"/>
<circle cx="310.80" cy="39.00" r="1.8" fill="#cdcf60" stroke="#6c6c2a" stroke-width="0.7"/>
<circle cx="313.55" cy="39.00" r="1.8" fill="#cdcf60" stroke="#6c6c2a" stroke-width="0.7"/>
<circle cx="316.30" cy="39.00" r="1.8" fill="#cdcf60" stroke="#6c6c2a" stroke-width="0.7"/>
<circle cx="319.05" cy="39.00" r="1.8" fill="#cdcf60" stroke="#6c6c2a" stroke-width="0.7"/>
<circle cx="321.80" cy="39.00" r="1.8" fill="#cdcf60" stroke="#6c6c2a" stroke-width="0.7"/>
<circle cx="324.55" cy="39.00" r="1.8" fill="#cdcf60" stroke="#6c6c2a" stroke-width="0.7"/>
<circle cx="327.30" cy="39.00" r="1.8" fill="#cdcf60" stroke="#6c6c2a" stroke-width="0.7"/>
<circle cx="330.05" cy="39.00" r="1.8" fill="#cdcf60" stroke="#6c6c2a" stroke-width="0.7"/>
<circle cx="332.80" cy="39.00" r="1.8" fill="#cdcf60" stroke="#6c6c2a" stroke-width="0.7"/>
<circle cx="335.55" cy="39.00" r="1.8" fill="#cdcf60" stroke="#6c6c2a" stroke-width="0.7"/>
<circle cx="338.30" cy="39.00" r="1.8" fill="#cdcf60" stroke="#6c6c2a" stroke-width="0.7"/>
<circle cx="341.05" cy="39.00" r="1.8" fill="#cdcf60" stroke="#6c6c2a" stroke-width="0.7"/>
<circle cx="343.80" cy="39.00" r="1.8" fill="#cdcf60" stroke="#6c6c2a" stroke-width="0.7"/>
<rect x="307.90" y="36.00" width="28.90" height="6.00" rx="1.1" fill="none" stroke="#1e1e1e" stroke-width="1.0"/>
<line x1="291.20" y1="46.40" x2="309.40" y2="46.40" stroke="#222" stroke-width="0.9"/>
<rect x="294.90" y="43.40" width="6.90" height="6.00" rx="1.1" fill="#ffffff"/>
<line x1="298.20" y1="43.40" x2="298.20" y2="49.40" stroke="#222" stroke-width="0.9"/>
<circle cx="291.20" cy="46.40" r="1.8" fill="#dd5535" stroke="#6c6c2a" stroke-width="0.7"/>
<circle cx="293.60" cy="46.40" r="1.8" fill="#dd5535" stroke="#6c6c2a" stroke-width="0.7"/>
<circle cx="295.60" cy="46.40" r="1.8" fill="#dd5535" stroke="#6c6c2a" stroke-width="0.7"/>
<circle cx="297.40" cy="46.40" r="1.8" fill="#dd5535" stroke="#6c6c2a" stroke-width="0.7"/>
<circle cx="299.60" cy="46.40" r="1.8" fill="#dd5535" stroke="#6c6c2a" stroke-width="0.7"/>
<circle cx="302.20" cy="46.40" r="1.8" fill="#35a8cc" stroke="#6c6c2a" stroke-width="0.7"/>
<circle cx="310.80" cy="46.40" r="1.8" fill="#cdcf60" stroke="#6c6c2a" stroke-width="0.7"/>
<circle cx="315.30" cy="46.40" r="1.8" fill="#cdcf60" stroke="#6c6c2a" stroke-width="0.7"/>
<rect x="294.90" y="43.40" width="6.90" height="6.00" rx="1.1" fill="none" stroke="#1e1e1e" stroke-width="1.0"/>
<line x1="306.80" y1="53.80" x2="320.80" y2="53.80" stroke="#222" stroke-width="0.9"/>
<rect x="306.90" y="50.80" width="9.20" height="6.00" rx="1.1" fill="#ffffff"/>
<line x1="311.50" y1="50.80" x2="311.50" y2="56.80" stroke="#222" stroke-width="0.9"/>
<circle cx="306.80" cy="53.80" r="1.8" fill="#cdcf60" stroke="#6c6c2a" stroke-width="0.7"/>
<circle cx="309.00" cy="53.80" r="1.8" fill="#cdcf60" stroke="#6c6c2a" stroke-width="0.7"/>
<circle cx="311.60" cy="53.80" r="1.8" fill="#cdcf60" stroke="#6c6c2a" stroke-width="0.7"/>
<circle cx="313.60" cy="53.80" r="1.8" fill="#cdcf60" stroke="#6c6c2a" stroke-width="0.7"/>
<circle cx="315.80" cy="53.80" r="1.8" fill="#cdcf60" stroke="#6c6c2a" stroke-width="0.7"/>
<circle cx="320.80" cy="53.80" r="1.8" fill="#cdcf60" stroke="#6c6c2a" stroke-width="0.7"/>
<circle cx="340.40" cy="53.80" r="1.8" fill="#35a8cc" stroke="#6c6c2a" stroke-width="0.7"/>
<rect x="306.90" y="50.80" width="9.20" height="6.00" rx="1.1" fill="none" stroke="#1e1e1e" stroke-width="1.0"/>
<line x1="315.00" y1="57.90" x2="315.00" y2="64.50" stroke="#222" stroke-width="1.6"/>
<circle cx="315.00" cy="61.20" r="1.8" fill="#cdcf60" stroke="#6c6c2a" stroke-width="0.7"/>
<line x1="306.20" y1="68.60" x2="316.20" y2="68.60" stroke="#222" stroke-width="0.9"/>
<rect x="307.90" y="65.60" width="4.40" height="6.00" rx="1.1" fill="#ffffff"/>
<line x1="310.10" y1="65.60" x2="310.10" y2="71.60" stroke="#222" stroke-width="0.9"/>
<circle cx="306.20" cy="68.60" r="1.8" fill="#cdcf60" stroke="#6c6c2a" stroke-width="0.7"/>
<circle cx="308.40" cy="68.60" r="1.8" fill="#cdcf60" stroke="#6c6c2a" stroke-width="0.7"/>
<circle cx="310.20" cy="68.60" r="1.8" fill="#cdcf60" stroke="#6c6c2a" stroke-width="0.7"/>
<circle cx="312.20" cy="68.60" r="1.8" fill="#cdcf60" stroke="#6c6c2a" stroke-width="0.7"/>
<circle cx="314.20" cy="68.60" r="1.8" fill="#cdcf60" stroke="#6c6c2a" stroke-width="0.7"/>
<circle cx="316.20" cy="68.60" r="1.8" fill="#cdcf60" stroke="#6c6c2a" stroke-width="0.7"/>
<rect x="307.90" y="65.60" width="4.40" height="6.00" rx="1.1" fill="none" stroke="#1e1e1e" stroke-width="1.0"/>
<line x1="298.90" y1="76.00" x2="319.00" y2="76.00" stroke="#222" stroke-width="0.9"/>
<rect x="306.30" y="73.00" width="10.70" height="6.00" rx="1.1" fill="#ffffff"/>
<line x1="313.50" y1="73.00" x2="313.50" y2="79.00" stroke="#222" stroke-width="0.9"/>
<circle cx="298.90" cy="76.00" r="1.8" fill="#cdcf60" stroke="#6c6c2a" stroke-width="0.7"/>
<circle cx="306.60" cy="76.00" r="1.8" fill="#cdcf60" stroke="#6c6c2a" stroke-width="0.7"/>
<circle cx="314.00" cy="76.00" r="1.8" fill="#cdcf60" stroke="#6c6c2a" stroke-width="0.7"/>
<circle cx="316.60" cy="76.00" r="1.8" fill="#cdcf60" stroke="#6c6c2a" stroke-width="0.7"/>
<circle cx="319.00" cy="76.00" r="1.8" fill="#cdcf60" stroke="#6c6c2a" stroke-width="0.7"/>
<rect x="306.30" y="73.00" width="10.70" height="6.00" rx="1.1" fill="none" stroke="#1e1e1e" stroke-width="1.0"/>
<line x1="342.60" y1="80.10" x2="342.60" y2="86.70" stroke="#222" stroke-width="1.6"/>
<circle cx="342.60" cy="83.40" r="1.8" fill="#cdcf60" stroke="#6c6c2a" stroke-width="0.7"/>
<line x1="298.90" y1="90.80" x2="318.00" y2="90.80" stroke="#222" stroke-width="0.9"/>
<rect x="307.60" y="87.80" width="7.40" height="6.00" rx="1.1" fill="#ffffff"/>
<line x1="313.50" y1="87.80" x2="313.50" y2="93.80" stroke="#222" stroke-width="0.9"/>
<circle cx="298.90" cy="90.80" r="1.8" fill="#cdcf60" stroke="#6c6c2a" stroke-width="0.7"/>
<circle cx="305.60" cy="90.80" r="1.8" fill="#cdcf60" stroke="#6c6c2a" stroke-width="0.7"/>
<circle cx="314.80" cy="90.80" r="1.8" fill="#cdcf60" stroke="#6c6c2a" stroke-width="0.7"/>
<circle cx="318.00" cy="90.80" r="1.8" fill="#cdcf60" stroke="#6c6c2a" stroke-width="0.7"/>
<rect x="307.60" y="87.80" width="7.40" height="6.00" rx="1.1" fill="none" stroke="#1e1e1e" stroke-width="1.0"/>
<line x1="315.70" y1="94.90" x2="315.70" y2="101.50" stroke="#222" stroke-width="1.6"/>
<circle cx="301.10" cy="98.20" r="1.8" fill="#cdcf60" stroke="#6c6c2a" stroke-width="0.7"/>
<circle cx="315.70" cy="98.20" r="1.8" fill="#cdcf60" stroke="#6c6c2a" stroke-width="0.7"/>
<circle cx="322.40" cy="98.20" r="1.8" fill="#cdcf60" stroke="#6c6c2a" stroke-width="0.7"/>
<rect x="295.20" y="102.60" width="17.10" height="6.00" rx="1.1" fill="#ffffff"/>
<line x1="299.50" y1="102.60" x2="299.50" y2="108.60" stroke="#222" stroke-width="0.9"/>
<circle cx="294.80" cy="105.60" r="1.8" fill="#cdcf60" stroke="#6c6c2a" stroke-width="0.7"/>
<circle cx="299.50" cy="105.60" r="1.8" fill="#cdcf60" stroke="#6c6c2a" stroke-width="0.7"/>
<circle cx="312.70" cy="105.60" r="1.8" fill="#cdcf60" stroke="#6c6c2a" stroke-width="0.7"/>
<rect x="295.20" y="102.60" width="17.10" height="6.00" rx="1.1" fill="none" stroke="#1e1e1e" stroke-width="1.0"/>
<line x1="302.50" y1="113.00" x2="308.50" y2="113.00" stroke="#222" stroke-width="0.9"/>
<rect x="304.20" y="110.00" width="3.10" height="6.00" rx="1.1" fill="#ffffff"/>
<line x1="305.00" y1="110.00" x2="305.00" y2="116.00" stroke="#222" stroke-width="0.9"/>
<circle cx="302.50" cy="113.00" r="1.8" fill="#cdcf60" stroke="#6c6c2a" stroke-width="0.7"/>
<circle cx="305.00" cy="113.00" r="1.8" fill="#cdcf60" stroke="#6c6c2a" stroke-width="0.7"/>
<circle cx="308.50" cy="113.00" r="1.8" fill="#cdcf60" stroke="#6c6c2a" stroke-width="0.7"/>
<rect x="304.20" y="110.00" width="3.10" height="6.00" rx="1.1" fill="none" stroke="#1e1e1e" stroke-width="1.0"/>
<line x1="299.30" y1="120.40" x2="319.70" y2="120.40" stroke="#222" stroke-width="0.9"/>
<rect x="306.50" y="117.40" width="5.10" height="6.00" rx="1.1" fill="#ffffff"/>
<line x1="309.00" y1="117.40" x2="309.00" y2="123.40" stroke="#222" stroke-width="0.9"/>
<circle cx="299.30" cy="120.40" r="1.8" fill="#e0a040" stroke="#6c6c2a" stroke-width="0.7"/>
<circle cx="302.90" cy="120.40" r="1.8" fill="#35a8cc" stroke="#6c6c2a" stroke-width="0.7"/>
<circle cx="304.90" cy="120.40" r="1.8" fill="#35a8cc" stroke="#6c6c2a" stroke-width="0.7"/>
<circle cx="306.80" cy="120.40" r="1.8" fill="#cdcf60" stroke="#6c6c2a" stroke-width="0.7"/>
<circle cx="308.60" cy="120.40" r="1.8" fill="#cdcf60" stroke="#6c6c2a" stroke-width="0.7"/>
<circle cx="310.20" cy="120.40" r="1.8" fill="#cdcf60" stroke="#6c6c2a" stroke-width="0.7"/>
<circle cx="312.00" cy="120.40" r="1.8" fill="#cdcf60" stroke="#6c6c2a" stroke-width="0.7"/>
<circle cx="313.80" cy="120.40" r="1.8" fill="#cdcf60" stroke="#6c6c2a" stroke-width="0.7"/>
<circle cx="315.80" cy="120.40" r="1.8" fill="#cdcf60" stroke="#6c6c2a" stroke-width="0.7"/>
<circle cx="319.70" cy="120.40" r="1.8" fill="#e0a040" stroke="#6c6c2a" stroke-width="0.7"/>
<rect x="306.50" y="117.40" width="5.10" height="6.00" rx="1.1" fill="none" stroke="#1e1e1e" stroke-width="1.0"/>
<line x1="300.60" y1="127.80" x2="311.60" y2="127.80" stroke="#222" stroke-width="0.9"/>
<rect x="307.60" y="124.80" width="4.00" height="6.00" rx="1.1" fill="#ffffff"/>
<line x1="309.50" y1="124.80" x2="309.50" y2="130.80" stroke="#222" stroke-width="0.9"/>
<circle cx="300.60" cy="127.80" r="1.8" fill="#35a8cc" stroke="#6c6c2a" stroke-width="0.7"/>
<circle cx="303.60" cy="127.80" r="1.8" fill="#cdcf60" stroke="#6c6c2a" stroke-width="0.7"/>
<circle cx="308.00" cy="127.80" r="1.8" fill="#cdcf60" stroke="#6c6c2a" stroke-width="0.7"/>
<circle cx="310.30" cy="127.80" r="1.8" fill="#cdcf60" stroke="#6c6c2a" stroke-width="0.7"/>
<circle cx="321.70" cy="127.80" r="1.8" fill="#cdcf60" stroke="#6c6c2a" stroke-width="0.7"/>
<rect x="307.60" y="124.80" width="4.00" height="6.00" rx="1.1" fill="none" stroke="#1e1e1e" stroke-width="1.0"/>
<line x1="296.60" y1="135.20" x2="329.80" y2="135.20" stroke="#222" stroke-width="0.9"/>
<rect x="297.90" y="132.20" width="13.50" height="6.00" rx="1.1" fill="#ffffff"/>
<line x1="301.00" y1="132.20" x2="301.00" y2="138.20" stroke="#222" stroke-width="0.9"/>
<circle cx="296.60" cy="135.20" r="1.8" fill="#e0a040" stroke="#6c6c2a" stroke-width="0.7"/>
<circle cx="299.90" cy="135.20" r="1.8" fill="#35a8cc" stroke="#6c6c2a" stroke-width="0.7"/>
<circle cx="302.00" cy="135.20" r="1.8" fill="#35a8cc" stroke="#6c6c2a" stroke-width="0.7"/>
<circle cx="311.00" cy="135.20" r="1.8" fill="#cdcf60" stroke="#6c6c2a" stroke-width="0.7"/>
<circle cx="329.80" cy="135.20" r="1.8" fill="#cdcf60" stroke="#6c6c2a" stroke-width="0.7"/>
<rect x="297.90" y="132.20" width="13.50" height="6.00" rx="1.1" fill="none" stroke="#1e1e1e" stroke-width="1.0"/>
<line x1="310.20" y1="142.60" x2="319.00" y2="142.60" stroke="#222" stroke-width="0.9"/>
<rect x="311.00" y="139.60" width="4.00" height="6.00" rx="1.1" fill="#ffffff"/>
<line x1="313.00" y1="139.60" x2="313.00" y2="145.60" stroke="#222" stroke-width="0.9"/>
<circle cx="310.20" cy="142.60" r="1.8" fill="#cdcf60" stroke="#6c6c2a" stroke-width="0.7"/>
<circle cx="312.20" cy="142.60" r="1.8" fill="#cdcf60" stroke="#6c6c2a" stroke-width="0.7"/>
<circle cx="314.20" cy="142.60" r="1.8" fill="#cdcf60" stroke="#6c6c2a" stroke-width="0.7"/>
<circle cx="316.00" cy="142.60" r="1.8" fill="#cdcf60" stroke="#6c6c2a" stroke-width="0.7"/>
<circle cx="319.00" cy="142.60" r="1.8" fill="#cdcf60" stroke="#6c6c2a" stroke-width="0.7"/>
<rect x="311.00" y="139.60" width="4.00" height="6.00" rx="1.1" fill="none" stroke="#1e1e1e" stroke-width="1.0"/>
<line x1="312.50" y1="150.00" x2="331.20" y2="150.00" stroke="#222" stroke-width="0.9"/>
<rect x="314.30" y="147.00" width="9.20" height="6.00" rx="1.1" fill="#ffffff"/>
<line x1="316.00" y1="147.00" x2="316.00" y2="153.00" stroke="#222" stroke-width="0.9"/>
<circle cx="312.50" cy="150.00" r="1.8" fill="#e0a040" stroke="#6c6c2a" stroke-width="0.7"/>
<circle cx="316.00" cy="150.00" r="1.8" fill="#cdcf60" stroke="#6c6c2a" stroke-width="0.7"/>
<circle cx="331.20" cy="150.00" r="1.8" fill="#cdcf60" stroke="#6c6c2a" stroke-width="0.7"/>
<rect x="314.30" y="147.00" width="9.20" height="6.00" rx="1.1" fill="none" stroke="#1e1e1e" stroke-width="1.0"/>
<line x1="304.90" y1="154.10" x2="304.90" y2="160.70" stroke="#222" stroke-width="1.6"/>
<circle cx="304.90" cy="157.40" r="1.8" fill="#cdcf60" stroke="#6c6c2a" stroke-width="0.7"/>
<line x1="305.20" y1="164.80" x2="315.20" y2="164.80" stroke="#222" stroke-width="0.9"/>
<rect x="306.90" y="161.80" width="4.10" height="6.00" rx="1.1" fill="#ffffff"/>
<line x1="309.00" y1="161.80" x2="309.00" y2="167.80" stroke="#222" stroke-width="0.9"/>
<circle cx="297.50" cy="164.80" r="1.8" fill="#cdcf60" stroke="#6c6c2a" stroke-width="0.7"/>
<circle cx="305.20" cy="164.80" r="1.8" fill="#cdcf60" stroke="#6c6c2a" stroke-width="0.7"/>
<circle cx="307.20" cy="164.80" r="1.8" fill="#cdcf60" stroke="#6c6c2a" stroke-width="0.7"/>
<circle cx="309.20" cy="164.80" r="1.8" fill="#cdcf60" stroke="#6c6c2a" stroke-width="0.7"/>
<circle cx="311.20" cy="164.80" r="1.8" fill="#cdcf60" stroke="#6c6c2a" stroke-width="0.7"/>
<circle cx="313.20" cy="164.80" r="1.8" fill="#cdcf60" stroke="#6c6c2a" stroke-width="0.7"/>
<circle cx="315.20" cy="164.80" r="1.8" fill="#cdcf60" stroke="#6c6c2a" stroke-width="0.7"/>
<rect x="306.90" y="161.80" width="4.10" height="6.00" rx="1.1" fill="none" stroke="#1e1e1e" stroke-width="1.0"/>
<line x1="309.20" y1="172.20" x2="317.50" y2="172.20" stroke="#222" stroke-width="0.9"/>
<rect x="307.60" y="169.20" width="7.40" height="6.00" rx="1.1" fill="#ffffff"/>
<line x1="311.50" y1="169.20" x2="311.50" y2="175.20" stroke="#222" stroke-width="0.9"/>
<circle cx="296.80" cy="172.20" r="1.8" fill="#cdcf60" stroke="#6c6c2a" stroke-width="0.7"/>
<circle cx="309.20" cy="172.20" r="1.8" fill="#cdcf60" stroke="#6c6c2a" stroke-width="0.7"/>
<circle cx="311.20" cy="172.20" r="1.8" fill="#cdcf60" stroke="#6c6c2a" stroke-width="0.7"/>
<circle cx="313.20" cy="172.20" r="1.8" fill="#cdcf60" stroke="#6c6c2a" stroke-width="0.7"/>
<circle cx="315.20" cy="172.20" r="1.8" fill="#cdcf60" stroke="#6c6c2a" stroke-width="0.7"/>
<circle cx="317.50" cy="172.20" r="1.8" fill="#cdcf60" stroke="#6c6c2a" stroke-width="0.7"/>
<rect x="307.60" y="169.20" width="7.40" height="6.00" rx="1.1" fill="none" stroke="#1e1e1e" stroke-width="1.0"/>
<line x1="312.70" y1="176.30" x2="312.70" y2="182.90" stroke="#222" stroke-width="1.6"/>
<circle cx="312.70" cy="179.60" r="1.8" fill="#cdcf60" stroke="#6c6c2a" stroke-width="0.7"/>
<line x1="314.30" y1="183.70" x2="314.30" y2="190.30" stroke="#222" stroke-width="1.6"/>
<circle cx="314.30" cy="187.00" r="1.8" fill="#cdcf60" stroke="#6c6c2a" stroke-width="0.7"/>
<line x1="301.10" y1="194.40" x2="319.50" y2="194.40" stroke="#222" stroke-width="0.9"/>
<rect x="306.30" y="191.40" width="10.10" height="6.00" rx="1.1" fill="#ffffff"/>
<line x1="311.00" y1="191.40" x2="311.00" y2="197.40" stroke="#222" stroke-width="0.9"/>
<circle cx="301.10" cy="194.40" r="1.8" fill="#cdcf60" stroke="#6c6c2a" stroke-width="0.7"/>
<circle cx="305.20" cy="194.40" r="1.8" fill="#cdcf60" stroke="#6c6c2a" stroke-width="0.7"/>
<circle cx="308.70" cy="194.40" r="1.8" fill="#dd5535" stroke="#6c6c2a" stroke-width="0.7"/>
<circle cx="311.00" cy="194.40" r="1.8" fill="#cdcf60" stroke="#6c6c2a" stroke-width="0.7"/>
<circle cx="313.00" cy="194.40" r="1.8" fill="#cdcf60" stroke="#6c6c2a" stroke-width="0.7"/>
<circle cx="315.50" cy="194.40" r="1.8" fill="#cdcf60" stroke="#6c6c2a" stroke-width="0.7"/>
<circle cx="319.50" cy="194.40" r="1.8" fill="#cdcf60" stroke="#6c6c2a" stroke-width="0.7"/>
<rect x="306.30" y="191.40" width="10.10" height="6.00" rx="1.1" fill="none" stroke="#1e1e1e" stroke-width="1.0"/>
<line x1="304.60" y1="201.80" x2="343.00" y2="201.80" stroke="#222" stroke-width="0.9"/>
<rect x="310.30" y="198.80" width="22.20" height="6.00" rx="1.1" fill="#ffffff"/>
<line x1="325.80" y1="198.80" x2="325.80" y2="204.80" stroke="#222" stroke-width="0.9"/>
<circle cx="304.60" cy="201.80" r="1.8" fill="#cdcf60" stroke="#6c6c2a" stroke-width="0.7"/>
<circle cx="310.30" cy="201.80" r="1.8" fill="#cdcf60" stroke="#6c6c2a" stroke-width="0.7"/>
<circle cx="325.00" cy="201.80" r="1.8" fill="#cdcf60" stroke="#6c6c2a" stroke-width="0.7"/>
<circle cx="327.00" cy="201.80" r="1.8" fill="#cdcf60" stroke="#6c6c2a" stroke-width="0.7"/>
<circle cx="337.20" cy="201.80" r="1.8" fill="#cdcf60" stroke="#6c6c2a" stroke-width="0.7"/>
<circle cx="343.00" cy="201.80" r="1.8" fill="#e0a040" stroke="#6c6c2a" stroke-width="0.7"/>
<rect x="310.30" y="198.80" width="22.20" height="6.00" rx="1.1" fill="none" stroke="#1e1e1e" stroke-width="1.0"/>
<line x1="302.20" y1="209.20" x2="315.70" y2="209.20" stroke="#222" stroke-width="0.9"/>
<rect x="303.60" y="206.20" width="6.70" height="6.00" rx="1.1" fill="#ffffff"/>
<line x1="306.00" y1="206.20" x2="306.00" y2="212.20" stroke="#222" stroke-width="0.9"/>
<circle cx="302.20" cy="209.20" r="1.8" fill="#e0a040" stroke="#6c6c2a" stroke-width="0.7"/>
<circle cx="305.60" cy="209.20" r="1.8" fill="#35a8cc" stroke="#6c6c2a" stroke-width="0.7"/>
<circle cx="315.70" cy="209.20" r="1.8" fill="#e0a040" stroke="#6c6c2a" stroke-width="0.7"/>
<rect x="303.60" y="206.20" width="6.70" height="6.00" rx="1.1" fill="none" stroke="#1e1e1e" stroke-width="1.0"/>
<rect x="302.20" y="213.60" width="7.40" height="6.00" rx="1.1" fill="#ffffff"/>
<line x1="306.30" y1="213.60" x2="306.30" y2="219.60" stroke="#222" stroke-width="0.9"/>
<circle cx="298.90" cy="216.60" r="1.8" fill="#e0a040" stroke="#6c6c2a" stroke-width="0.7"/>
<circle cx="312.70" cy="216.60" r="1.8" fill="#cdcf60" stroke="#6c6c2a" stroke-width="0.7"/>
<rect x="302.20" y="213.60" width="7.40" height="6.00" rx="1.1" fill="none" stroke="#1e1e1e" stroke-width="1.0"/>
<rect x="310.50" y="221.00" width="4.30" height="6.00" rx="1.1" fill="#ffffff"/>
<line x1="312.30" y1="221.00" x2="312.30" y2="227.00" stroke="#222" stroke-width="0.9"/>
<circle cx="310.30" cy="224.00" r="1.8" fill="#cdcf60" stroke="#6c6c2a" stroke-width="0.7"/>
<circle cx="312.30" cy="224.00" r="1.8" fill="#cdcf60" stroke="#6c6c2a" stroke-width="0.7"/>
<circle cx="314.30" cy="224.00" r="1.8" fill="#cdcf60" stroke="#6c6c2a" stroke-width="0.7"/>
<rect x="310.50" y="221.00" width="4.30" height="6.00" rx="1.1" fill="none" stroke="#1e1e1e" stroke-width="1.0"/>
<rect x="311.00" y="228.40" width="4.00" height="6.00" rx="1.1" fill="#ffffff"/>
<line x1="313.00" y1="228.40" x2="313.00" y2="234.40" stroke="#222" stroke-width="0.9"/>
<circle cx="310.50" cy="231.40" r="1.8" fill="#cdcf60" stroke="#6c6c2a" stroke-width="0.7"/>
<circle cx="313.00" cy="231.40" r="1.8" fill="#cdcf60" stroke="#6c6c2a" stroke-width="0.7"/>
<circle cx="315.50" cy="231.40" r="1.8" fill="#cdcf60" stroke="#6c6c2a" stroke-width="0.7"/>
<rect x="311.00" y="228.40" width="4.00" height="6.00" rx="1.1" fill="none" stroke="#1e1e1e" stroke-width="1.0"/>
<line x1="310.30" y1="238.80" x2="326.00" y2="238.80" stroke="#222" stroke-width="0.9"/>
<rect x="317.50" y="235.80" width="8.50" height="6.00" rx="1.1" fill="#ffffff"/>
<line x1="322.00" y1="235.80" x2="322.00" y2="241.80" stroke="#222" stroke-width="0.9"/>
<circle cx="310.30" cy="238.80" r="1.8" fill="#cdcf60" stroke="#6c6c2a" stroke-width="0.7"/>
<circle cx="325.80" cy="238.80" r="1.8" fill="#cdcf60" stroke="#6c6c2a" stroke-width="0.7"/>
<rect x="317.50" y="235.80" width="8.50" height="6.00" rx="1.1" fill="none" stroke="#1e1e1e" stroke-width="1.0"/>
<rect x="294.30" y="243.20" width="10.30" height="6.00" rx="1.1" fill="#ffffff"/>
<line x1="299.70" y1="243.20" x2="299.70" y2="249.20" stroke="#222" stroke-width="0.9"/>
<circle cx="293.50" cy="246.20" r="1.8" fill="#cdcf60" stroke="#6c6c2a" stroke-width="0.7"/>
<circle cx="300.00" cy="246.20" r="1.8" fill="#cdcf60" stroke="#6c6c2a" stroke-width="0.7"/>
<circle cx="304.00" cy="246.20" r="1.8" fill="#cdcf60" stroke="#6c6c2a" stroke-width="0.7"/>
<circle cx="309.00" cy="246.20" r="1.8" fill="#cdcf60" stroke="#6c6c2a" stroke-width="0.7"/>
<rect x="294.30" y="243.20" width="10.30" height="6.00" rx="1.1" fill="none" stroke="#1e1e1e" stroke-width="1.0"/>
<line x1="298.90" y1="253.60" x2="321.00" y2="253.60" stroke="#222" stroke-width="0.9"/>
<rect x="305.60" y="250.60" width="8.80" height="6.00" rx="1.1" fill="#ffffff"/>
<line x1="310.00" y1="250.60" x2="310.00" y2="256.60" stroke="#222" stroke-width="0.9"/>
<circle cx="298.90" cy="253.60" r="1.8" fill="#cdcf60" stroke="#6c6c2a" stroke-width="0.7"/>
<circle cx="306.50" cy="253.60" r="1.8" fill="#cdcf60" stroke="#6c6c2a" stroke-width="0.7"/>
<circle cx="310.00" cy="253.60" r="1.8" fill="#cdcf60" stroke="#6c6c2a" stroke-width="0.7"/>
<circle cx="313.00" cy="253.60" r="1.8" fill="#cdcf60" stroke="#6c6c2a" stroke-width="0.7"/>
<circle cx="321.00" cy="253.60" r="1.8" fill="#cdcf60" stroke="#6c6c2a" stroke-width="0.7"/>
<rect x="305.60" y="250.60" width="8.80" height="6.00" rx="1.1" fill="none" stroke="#1e1e1e" stroke-width="1.0"/>
<line x1="333.20" y1="261.00" x2="342.30" y2="261.00" stroke="#222" stroke-width="0.9"/>
<rect x="334.20" y="258.00" width="8.10" height="6.00" rx="1.1" fill="#ffffff"/>
<line x1="338.00" y1="258.00" x2="338.00" y2="264.00" stroke="#222" stroke-width="0.9"/>
<circle cx="300.10" cy="261.00" r="1.8" fill="#cdcf60" stroke="#6c6c2a" stroke-width="0.7"/>
<circle cx="333.20" cy="261.00" r="1.8" fill="#cdcf60" stroke="#6c6c2a" stroke-width="0.7"/>
<circle cx="338.00" cy="261.00" r="1.8" fill="#cdcf60" stroke="#6c6c2a" stroke-width="0.7"/>
<circle cx="342.20" cy="261.00" r="1.8" fill="#cdcf60" stroke="#6c6c2a" stroke-width="0.7"/>
<rect x="334.20" y="258.00" width="8.10" height="6.00" rx="1.1" fill="none" stroke="#1e1e1e" stroke-width="1.0"/>
<line x1="341.50" y1="265.10" x2="341.50" y2="271.70" stroke="#222" stroke-width="1.6"/>
<circle cx="341.50" cy="268.40" r="1.8" fill="#cdcf60" stroke="#6c6c2a" stroke-width="0.7"/>
<line x1="302.00" y1="275.80" x2="313.60" y2="275.80" stroke="#222" stroke-width="0.9"/>
<rect x="306.20" y="272.80" width="7.40" height="6.00" rx="1.1" fill="#ffffff"/>
<line x1="310.00" y1="272.80" x2="310.00" y2="278.80" stroke="#222" stroke-width="0.9"/>
<circle cx="302.00" cy="275.80" r="1.8" fill="#cdcf60" stroke="#6c6c2a" stroke-width="0.7"/>
<circle cx="306.50" cy="275.80" r="1.8" fill="#cdcf60" stroke="#6c6c2a" stroke-width="0.7"/>
<circle cx="310.00" cy="275.80" r="1.8" fill="#cdcf60" stroke="#6c6c2a" stroke-width="0.7"/>
<circle cx="313.50" cy="275.80" r="1.8" fill="#cdcf60" stroke="#6c6c2a" stroke-width="0.7"/>
<rect x="306.20" y="272.80" width="7.40" height="6.00" rx="1.1" fill="none" stroke="#1e1e1e" stroke-width="1.0"/>
<line x1="324.50" y1="283.20" x2="343.00" y2="283.20" stroke="#222" stroke-width="0.9"/>
<rect x="329.60" y="280.20" width="8.80" height="6.00" rx="1.1" fill="#ffffff"/>
<line x1="333.80" y1="280.20" x2="333.80" y2="286.20" stroke="#222" stroke-width="0.9"/>
<circle cx="324.50" cy="283.20" r="1.8" fill="#cdcf60" stroke="#6c6c2a" stroke-width="0.7"/>
<circle cx="343.00" cy="283.20" r="1.8" fill="#cdcf60" stroke="#6c6c2a" stroke-width="0.7"/>
<rect x="329.60" y="280.20" width="8.80" height="6.00" rx="1.1" fill="none" stroke="#1e1e1e" stroke-width="1.0"/>
<line x1="312.35" y1="31.55" x2="312.35" y2="287.60" stroke="#ebb9b9" stroke-width="1.1" stroke-dasharray="2.2 1.7" stroke-dashoffset="0"/>
<line x1="356.60" y1="31.20" x2="356.60" y2="287.00" stroke="#7a7a7a" stroke-width="1.0" stroke-dasharray="2.2 1.7" stroke-dashoffset="0"/>
<line x1="512.20" y1="31.20" x2="512.20" y2="287.00" stroke="#7a7a7a" stroke-width="1.0" stroke-dasharray="2.2 1.7" stroke-dashoffset="0"/>
<line x1="356.00" y1="287.20" x2="512.60" y2="287.20" stroke="#222" stroke-width="1.1"/>
<text x="356.00" y="298.60" font-size="9.0" fill="#2b2b2b" stroke="#2b2b2b" stroke-width="0.2" textLength="13.30" lengthAdjust="spacingAndGlyphs" >min</text>
<text x="496.60" y="298.60" font-size="9.0" fill="#2b2b2b" stroke="#2b2b2b" stroke-width="0.2" textLength="14.70" lengthAdjust="spacingAndGlyphs" >max</text>
<text x="410.80" y="310.20" font-size="9.4" fill="#2b2b2b" stroke="#2b2b2b" stroke-width="0.2" textLength="46.90" lengthAdjust="spacingAndGlyphs" >log2(FPKM)</text>
<text x="362.49" y="40.20" font-size="6.0" fill="#333" stroke="#333" stroke-width="0.15" textLength="7.51" lengthAdjust="spacingAndGlyphs" font-family="Liberation Serif">5.1</text>
<rect x="387.35" y="34.80" width="1.3" height="5.6" fill="#e3a13c"/>
<rect x="389.85" y="34.80" width="1.3" height="5.6" fill="#e3a13c"/>
<rect x="392.35" y="34.80" width="1.3" height="5.6" fill="#c8453a"/>
<rect x="394.35" y="34.80" width="1.3" height="5.6" fill="#e3a13c"/>
<rect x="396.85" y="34.80" width="1.3" height="5.6" fill="#e3a13c"/>
<rect x="398.85" y="34.80" width="1.3" height="5.6" fill="#e3a13c"/>
<rect x="400.85" y="34.80" width="1.3" height="5.6" fill="#e3a13c"/>
<rect x="403.35" y="34.80" width="1.3" height="5.6" fill="#e3a13c"/>
<rect x="405.35" y="34.80" width="1.3" height="5.6" fill="#e3a13c"/>
<rect x="407.85" y="34.80" width="1.3" height="5.6" fill="#e3a13c"/>
<rect x="410.35" y="34.80" width="1.3" height="5.6" fill="#e3a13c"/>
<rect x="412.35" y="34.80" width="1.3" height="5.6" fill="#e3a13c"/>
<rect x="414.85" y="34.80" width="1.3" height="5.6" fill="#e3a13c"/>
<rect x="417.35" y="34.80" width="1.3" height="5.6" fill="#6f8a3a"/>
<rect x="419.35" y="34.80" width="1.3" height="5.6" fill="#e3a13c"/>
<rect x="421.85" y="34.80" width="1.3" height="5.6" fill="#e3a13c"/>
<rect x="424.35" y="34.80" width="1.3" height="5.6" fill="#c8453a"/>
<rect x="426.35" y="34.80" width="1.3" height="5.6" fill="#6f8a3a"/>
<rect x="428.85" y="34.80" width="1.3" height="5.6" fill="#e3a13c"/>
<rect x="431.35" y="34.80" width="1.3" height="5.6" fill="#e3a13c"/>
<rect x="433.35" y="34.80" width="1.3" height="5.6" fill="#6f8a3a"/>
<rect x="435.85" y="34.80" width="1.3" height="5.6" fill="#e3a13c"/>
<rect x="438.35" y="34.80" width="1.3" height="5.6" fill="#6f8a3a"/>
<rect x="440.75" y="34.80" width="1.3" height="5.6" fill="#2ea7cf"/>
<rect x="442.85" y="34.80" width="1.3" height="5.6" fill="#2ea7cf"/>
<rect x="449.95" y="34.80" width="1.3" height="5.6" fill="#2ea7cf"/>
<rect x="455.55" y="34.80" width="1.3" height="5.6" fill="#2ea7cf"/>
<circle cx="387.00" cy="38.20" r="1.1" fill="#e3a13c"/>
<circle cx="388.55" cy="38.20" r="1.1" fill="#e3a13c"/>
<circle cx="390.10" cy="38.20" r="1.1" fill="#e3a13c"/>
<circle cx="391.65" cy="38.20" r="1.1" fill="#e3a13c"/>
<circle cx="393.20" cy="38.20" r="1.1" fill="#6f8a3a"/>
<circle cx="394.75" cy="38.20" r="1.1" fill="#e3a13c"/>
<circle cx="396.30" cy="38.20" r="1.1" fill="#c8453a"/>
<circle cx="397.85" cy="38.20" r="1.1" fill="#c8453a"/>
<circle cx="399.40" cy="38.20" r="1.1" fill="#e3a13c"/>
<circle cx="400.95" cy="38.20" r="1.1" fill="#c8453a"/>
<circle cx="402.50" cy="38.20" r="1.1" fill="#e3a13c"/>
<circle cx="404.05" cy="38.20" r="1.1" fill="#e3a13c"/>
<circle cx="405.60" cy="38.20" r="1.1" fill="#e3a13c"/>
<circle cx="407.15" cy="38.20" r="1.1" fill="#2ea7cf"/>
<circle cx="408.70" cy="38.20" r="1.1" fill="#c8453a"/>
<circle cx="410.25" cy="38.20" r="1.1" fill="#e3a13c"/>
<circle cx="411.80" cy="38.20" r="1.1" fill="#c8453a"/>
<circle cx="413.35" cy="38.20" r="1.1" fill="#c8453a"/>
<circle cx="414.90" cy="38.20" r="1.1" fill="#e3a13c"/>
<circle cx="416.45" cy="38.20" r="1.1" fill="#2ea7cf"/>
<circle cx="418.00" cy="38.20" r="1.1" fill="#2ea7cf"/>
<circle cx="419.55" cy="38.20" r="1.1" fill="#e3a13c"/>
<circle cx="421.10" cy="38.20" r="1.1" fill="#c8453a"/>
<circle cx="422.65" cy="38.20" r="1.1" fill="#c8453a"/>
<circle cx="424.20" cy="38.20" r="1.1" fill="#6f8a3a"/>
<circle cx="425.75" cy="38.20" r="1.1" fill="#2ea7cf"/>
<circle cx="427.30" cy="38.20" r="1.1" fill="#e3a13c"/>
<circle cx="428.85" cy="38.20" r="1.1" fill="#6f8a3a"/>
<circle cx="430.40" cy="38.20" r="1.1" fill="#e3a13c"/>
<circle cx="431.95" cy="38.20" r="1.1" fill="#e3a13c"/>
<circle cx="433.50" cy="38.20" r="1.1" fill="#2ea7cf"/>
<circle cx="435.05" cy="38.20" r="1.1" fill="#e3a13c"/>
<circle cx="436.60" cy="38.20" r="1.1" fill="#c8453a"/>
<circle cx="438.15" cy="38.20" r="1.1" fill="#e3a13c"/>
<circle cx="439.70" cy="38.20" r="1.1" fill="#2ea7cf"/>
<circle cx="372.00" cy="38.20" r="1.1" fill="#e3a13c"/>
<circle cx="379.80" cy="38.20" r="1.1" fill="#e3a13c"/>
<circle cx="381.60" cy="38.20" r="1.1" fill="#e3a13c"/>
<circle cx="383.60" cy="38.20" r="1.1" fill="#e3a13c"/>
<circle cx="446.30" cy="38.20" r="1.1" fill="#2ea7cf"/>
<text x="458.70" y="40.20" font-size="6.0" fill="#333" stroke="#333" stroke-width="0.15" textLength="10.51" lengthAdjust="spacingAndGlyphs" font-family="Liberation Serif">73.3</text>
<text x="362.49" y="47.67" font-size="6.0" fill="#333" stroke="#333" stroke-width="0.15" textLength="7.51" lengthAdjust="spacingAndGlyphs" font-family="Liberation Serif">8.8</text>
<rect x="379.65" y="42.27" width="1.3" height="5.6" fill="#e3a13c"/>
<rect x="382.85" y="42.27" width="1.3" height="5.6" fill="#2ea7cf"/>
<rect x="385.35" y="42.27" width="1.3" height="5.6" fill="#e3a13c"/>
<rect x="387.35" y="42.27" width="1.3" height="5.6" fill="#6f8a3a"/>
<rect x="389.85" y="42.27" width="1.3" height="5.6" fill="#e3a13c"/>
<rect x="392.35" y="42.27" width="1.3" height="5.6" fill="#c8453a"/>
<rect x="395.35" y="42.27" width="1.3" height="5.6" fill="#e3a13c"/>
<rect x="398.35" y="42.27" width="1.3" height="5.6" fill="#e3a13c"/>
<rect x="401.35" y="42.27" width="1.3" height="5.6" fill="#e3a13c"/>
<rect x="403.35" y="42.27" width="1.3" height="5.6" fill="#6f8a3a"/>
<rect x="405.85" y="42.27" width="1.3" height="5.6" fill="#6f8a3a"/>
<rect x="408.35" y="42.27" width="1.3" height="5.6" fill="#e3a13c"/>
<rect x="410.35" y="42.27" width="1.3" height="5.6" fill="#c8453a"/>
<rect x="413.35" y="42.27" width="1.3" height="5.6" fill="#e3a13c"/>
<rect x="416.35" y="42.27" width="1.3" height="5.6" fill="#c8453a"/>
<rect x="418.85" y="42.27" width="1.3" height="5.6" fill="#c8453a"/>
<circle cx="380.10" cy="45.67" r="1.1" fill="#6f8a3a"/>
<circle cx="381.65" cy="45.67" r="1.1" fill="#6f8a3a"/>
<circle cx="383.20" cy="45.67" r="1.1" fill="#e3a13c"/>
<circle cx="384.75" cy="45.67" r="1.1" fill="#e3a13c"/>
<circle cx="386.30" cy="45.67" r="1.1" fill="#2ea7cf"/>
<circle cx="387.85" cy="45.67" r="1.1" fill="#e3a13c"/>
<circle cx="389.40" cy="45.67" r="1.1" fill="#c8453a"/>
<circle cx="390.95" cy="45.67" r="1.1" fill="#e3a13c"/>
<circle cx="392.50" cy="45.67" r="1.1" fill="#e3a13c"/>
<circle cx="394.05" cy="45.67" r="1.1" fill="#e3a13c"/>
<circle cx="395.60" cy="45.67" r="1.1" fill="#2ea7cf"/>
<circle cx="397.15" cy="45.67" r="1.1" fill="#e3a13c"/>
<circle cx="398.70" cy="45.67" r="1.1" fill="#e3a13c"/>
<circle cx="400.25" cy="45.67" r="1.1" fill="#e3a13c"/>
<circle cx="401.80" cy="45.67" r="1.1" fill="#6f8a3a"/>
<circle cx="403.35" cy="45.67" r="1.1" fill="#e3a13c"/>
<circle cx="404.90" cy="45.67" r="1.1" fill="#c8453a"/>
<circle cx="406.45" cy="45.67" r="1.1" fill="#c8453a"/>
<circle cx="408.00" cy="45.67" r="1.1" fill="#6f8a3a"/>
<circle cx="409.55" cy="45.67" r="1.1" fill="#6f8a3a"/>
<circle cx="411.10" cy="45.67" r="1.1" fill="#6f8a3a"/>
<circle cx="412.65" cy="45.67" r="1.1" fill="#e3a13c"/>
<circle cx="414.20" cy="45.67" r="1.1" fill="#e3a13c"/>
<circle cx="415.75" cy="45.67" r="1.1" fill="#e3a13c"/>
<circle cx="417.30" cy="45.67" r="1.1" fill="#6f8a3a"/>
<circle cx="418.85" cy="45.67" r="1.1" fill="#6f8a3a"/>
<circle cx="420.40" cy="45.67" r="1.1" fill="#e3a13c"/>
<circle cx="421.95" cy="45.67" r="1.1" fill="#e3a13c"/>
<circle cx="423.50" cy="45.67" r="1.1" fill="#e3a13c"/>
<circle cx="425.05" cy="45.67" r="1.1" fill="#e3a13c"/>
<circle cx="426.60" cy="45.67" r="1.1" fill="#c8453a"/>
<circle cx="428.15" cy="45.67" r="1.1" fill="#c8453a"/>
<circle cx="429.70" cy="45.67" r="1.1" fill="#e3a13c"/>
<circle cx="431.25" cy="45.67" r="1.1" fill="#e3a13c"/>
<circle cx="432.80" cy="45.67" r="1.1" fill="#e3a13c"/>
<circle cx="434.35" cy="45.67" r="1.1" fill="#e3a13c"/>
<circle cx="435.90" cy="45.67" r="1.1" fill="#c8453a"/>
<circle cx="437.45" cy="45.67" r="1.1" fill="#6f8a3a"/>
<circle cx="372.00" cy="45.67" r="1.1" fill="#e3a13c"/>
<circle cx="441.20" cy="45.67" r="1.1" fill="#e3a13c"/>
<circle cx="446.30" cy="45.67" r="1.1" fill="#c8453a"/>
<circle cx="447.60" cy="45.67" r="1.1" fill="#e3a13c"/>
<circle cx="451.00" cy="45.67" r="1.1" fill="#c8453a"/>
<circle cx="452.20" cy="45.67" r="1.1" fill="#c8453a"/>
<text x="453.60" y="47.67" font-size="6.0" fill="#333" stroke="#333" stroke-width="0.15" textLength="13.51" lengthAdjust="spacingAndGlyphs" font-family="Liberation Serif">106.2</text>
<text x="362.49" y="55.13" font-size="6.0" fill="#333" stroke="#333" stroke-width="0.15" textLength="7.51" lengthAdjust="spacingAndGlyphs" font-family="Liberation Serif">5.3</text>
<rect x="431.50" y="50.13" width="1.0" height="4.8" fill="#c8453a"/>
<rect x="435.50" y="50.13" width="1.0" height="4.8" fill="#e3a13c"/>
<rect x="440.00" y="50.13" width="1.0" height="4.8" fill="#c8453a"/>
<rect x="444.00" y="50.13" width="1.0" height="4.8" fill="#c8453a"/>
<rect x="447.50" y="50.13" width="1.0" height="4.8" fill="#e3a13c"/>
<rect x="451.50" y="50.13" width="1.0" height="4.8" fill="#6f8a3a"/>
<circle cx="415.00" cy="53.13" r="1.1" fill="#2ea7cf"/>
<circle cx="416.55" cy="53.13" r="1.1" fill="#6f8a3a"/>
<circle cx="418.10" cy="53.13" r="1.1" fill="#2ea7cf"/>
<circle cx="419.65" cy="53.13" r="1.1" fill="#e3a13c"/>
<circle cx="421.20" cy="53.13" r="1.1" fill="#e3a13c"/>
<circle cx="422.75" cy="53.13" r="1.1" fill="#e3a13c"/>
<circle cx="424.30" cy="53.13" r="1.1" fill="#c8453a"/>
<circle cx="425.85" cy="53.13" r="1.1" fill="#e3a13c"/>
<circle cx="427.40" cy="53.13" r="1.1" fill="#e3a13c"/>
<circle cx="428.95" cy="53.13" r="1.1" fill="#e3a13c"/>
<circle cx="430.50" cy="53.13" r="1.1" fill="#e3a13c"/>
<circle cx="432.05" cy="53.13" r="1.1" fill="#e3a13c"/>
<circle cx="433.60" cy="53.13" r="1.1" fill="#e3a13c"/>
<circle cx="435.15" cy="53.13" r="1.1" fill="#e3a13c"/>
<circle cx="436.70" cy="53.13" r="1.1" fill="#e3a13c"/>
<circle cx="438.25" cy="53.13" r="1.1" fill="#e3a13c"/>
<circle cx="439.80" cy="53.13" r="1.1" fill="#e3a13c"/>
<circle cx="441.35" cy="53.13" r="1.1" fill="#e3a13c"/>
<circle cx="442.90" cy="53.13" r="1.1" fill="#6f8a3a"/>
<circle cx="444.45" cy="53.13" r="1.1" fill="#c8453a"/>
<circle cx="446.00" cy="53.13" r="1.1" fill="#e3a13c"/>
<circle cx="447.55" cy="53.13" r="1.1" fill="#e3a13c"/>
<circle cx="449.10" cy="53.13" r="1.1" fill="#e3a13c"/>
<circle cx="450.65" cy="53.13" r="1.1" fill="#e3a13c"/>
<circle cx="452.20" cy="53.13" r="1.1" fill="#e3a13c"/>
<circle cx="453.75" cy="53.13" r="1.1" fill="#6f8a3a"/>
<circle cx="455.30" cy="53.13" r="1.1" fill="#6f8a3a"/>
<circle cx="456.85" cy="53.13" r="1.1" fill="#c8453a"/>
<circle cx="458.40" cy="53.13" r="1.1" fill="#c8453a"/>
<circle cx="459.95" cy="53.13" r="1.1" fill="#e3a13c"/>
<circle cx="461.50" cy="53.13" r="1.1" fill="#e3a13c"/>
<circle cx="463.05" cy="53.13" r="1.1" fill="#e3a13c"/>
<circle cx="464.60" cy="53.13" r="1.1" fill="#e3a13c"/>
<circle cx="466.15" cy="53.13" r="1.1" fill="#6f8a3a"/>
<circle cx="467.70" cy="53.13" r="1.1" fill="#e3a13c"/>
<circle cx="469.25" cy="53.13" r="1.1" fill="#e3a13c"/>
<circle cx="470.80" cy="53.13" r="1.1" fill="#6f8a3a"/>
<circle cx="472.35" cy="53.13" r="1.1" fill="#c8453a"/>
<circle cx="473.90" cy="53.13" r="1.1" fill="#e3a13c"/>
<circle cx="475.45" cy="53.13" r="1.1" fill="#c8453a"/>
<circle cx="372.00" cy="53.13" r="1.1" fill="#2ea7cf"/>
<circle cx="389.60" cy="53.13" r="1.1" fill="#e3a13c"/>
<circle cx="391.20" cy="53.13" r="1.1" fill="#2ea7cf"/>
<circle cx="395.30" cy="53.13" r="1.1" fill="#c8453a"/>
<circle cx="402.70" cy="53.13" r="1.1" fill="#c8453a"/>
<circle cx="404.30" cy="53.13" r="1.1" fill="#2ea7cf"/>
<circle cx="412.00" cy="53.13" r="1.1" fill="#6f8a3a"/>
<circle cx="482.00" cy="53.13" r="1.1" fill="#e3a13c"/>
<circle cx="485.00" cy="53.13" r="1.1" fill="#e3a13c"/>
<text x="488.00" y="55.13" font-size="6.0" fill="#333" stroke="#333" stroke-width="0.15" textLength="13.51" lengthAdjust="spacingAndGlyphs" font-family="Liberation Serif">185.4</text>
<text x="356.49" y="62.60" font-size="6.0" fill="#333" stroke="#333" stroke-width="0.15" textLength="13.51" lengthAdjust="spacingAndGlyphs" font-family="Liberation Serif">147.1</text>
<rect x="438.50" y="57.60" width="1.0" height="4.8" fill="#e3a13c"/>
<rect x="442.50" y="57.60" width="1.0" height="4.8" fill="#e3a13c"/>
<rect x="447.50" y="57.60" width="1.0" height="4.8" fill="#6f8a3a"/>
<rect x="452.50" y="57.60" width="1.0" height="4.8" fill="#6f8a3a"/>
<rect x="457.50" y="57.60" width="1.0" height="4.8" fill="#c8453a"/>
<rect x="461.50" y="57.60" width="1.0" height="4.8" fill="#e3a13c"/>
<rect x="467.50" y="57.60" width="1.0" height="4.8" fill="#e3a13c"/>
<circle cx="429.50" cy="60.60" r="1.1" fill="#e3a13c"/>
<circle cx="431.05" cy="60.60" r="1.1" fill="#2ea7cf"/>
<circle cx="432.60" cy="60.60" r="1.1" fill="#c8453a"/>
<circle cx="434.15" cy="60.60" r="1.1" fill="#2ea7cf"/>
<circle cx="435.70" cy="60.60" r="1.1" fill="#e3a13c"/>
<circle cx="437.25" cy="60.60" r="1.1" fill="#e3a13c"/>
<circle cx="438.80" cy="60.60" r="1.1" fill="#6f8a3a"/>
<circle cx="440.35" cy="60.60" r="1.1" fill="#6f8a3a"/>
<circle cx="441.90" cy="60.60" r="1.1" fill="#6f8a3a"/>
<circle cx="443.45" cy="60.60" r="1.1" fill="#6f8a3a"/>
<circle cx="445.00" cy="60.60" r="1.1" fill="#6f8a3a"/>
<circle cx="446.55" cy="60.60" r="1.1" fill="#2ea7cf"/>
<circle cx="448.10" cy="60.60" r="1.1" fill="#e3a13c"/>
<circle cx="449.65" cy="60.60" r="1.1" fill="#c8453a"/>
<circle cx="451.20" cy="60.60" r="1.1" fill="#e3a13c"/>
<circle cx="452.75" cy="60.60" r="1.1" fill="#e3a13c"/>
<circle cx="454.30" cy="60.60" r="1.1" fill="#e3a13c"/>
<circle cx="455.85" cy="60.60" r="1.1" fill="#e3a13c"/>
<circle cx="457.40" cy="60.60" r="1.1" fill="#e3a13c"/>
<circle cx="458.95" cy="60.60" r="1.1" fill="#2ea7cf"/>
<circle cx="460.50" cy="60.60" r="1.1" fill="#6f8a3a"/>
<circle cx="462.05" cy="60.60" r="1.1" fill="#c8453a"/>
<circle cx="463.60" cy="60.60" r="1.1" fill="#6f8a3a"/>
<circle cx="465.15" cy="60.60" r="1.1" fill="#6f8a3a"/>
<circle cx="466.70" cy="60.60" r="1.1" fill="#6f8a3a"/>
<circle cx="468.25" cy="60.60" r="1.1" fill="#e3a13c"/>
<circle cx="469.80" cy="60.60" r="1.1" fill="#e3a13c"/>
<circle cx="471.35" cy="60.60" r="1.1" fill="#e3a13c"/>
<circle cx="472.90" cy="60.60" r="1.1" fill="#e3a13c"/>
<circle cx="474.45" cy="60.60" r="1.1" fill="#e3a13c"/>
<circle cx="476.00" cy="60.60" r="1.1" fill="#c8453a"/>
<circle cx="477.55" cy="60.60" r="1.1" fill="#6f8a3a"/>
<circle cx="479.10" cy="60.60" r="1.1" fill="#6f8a3a"/>
<circle cx="480.65" cy="60.60" r="1.1" fill="#c8453a"/>
<circle cx="372.00" cy="60.60" r="1.1" fill="#2ea7cf"/>
<circle cx="374.00" cy="60.60" r="1.1" fill="#e3a13c"/>
<circle cx="385.50" cy="60.60" r="1.1" fill="#c8453a"/>
<circle cx="394.20" cy="60.60" r="1.1" fill="#e3a13c"/>
<circle cx="399.00" cy="60.60" r="1.1" fill="#2ea7cf"/>
<circle cx="406.80" cy="60.60" r="1.1" fill="#2ea7cf"/>
<circle cx="417.40" cy="60.60" r="1.1" fill="#e3a13c"/>
<circle cx="423.00" cy="60.60" r="1.1" fill="#c8453a"/>
<circle cx="425.00" cy="60.60" r="1.1" fill="#c8453a"/>
<circle cx="488.80" cy="60.60" r="1.1" fill="#e3a13c"/>
<circle cx="497.50" cy="60.60" r="1.1" fill="#e3a13c"/>
<text x="500.00" y="62.60" font-size="6.0" fill="#333" stroke="#333" stroke-width="0.15" textLength="12.01" lengthAdjust="spacingAndGlyphs" font-family="Liberation Serif">6291</text>
<text x="362.49" y="70.07" font-size="6.0" fill="#333" stroke="#333" stroke-width="0.15" textLength="7.51" lengthAdjust="spacingAndGlyphs" font-family="Liberation Serif">7.2</text>
<rect x="431.50" y="65.07" width="1.0" height="4.8" fill="#c8453a"/>
<rect x="435.50" y="65.07" width="1.0" height="4.8" fill="#2ea7cf"/>
<rect x="439.50" y="65.07" width="1.0" height="4.8" fill="#e3a13c"/>
<rect x="445.50" y="65.07" width="1.0" height="4.8" fill="#c8453a"/>
<rect x="451.50" y="65.07" width="1.0" height="4.8" fill="#6f8a3a"/>
<rect x="456.50" y="65.07" width="1.0" height="4.8" fill="#2ea7cf"/>
<rect x="461.50" y="65.07" width="1.0" height="4.8" fill="#2ea7cf"/>
<rect x="467.50" y="65.07" width="1.0" height="4.8" fill="#e3a13c"/>
<circle cx="401.00" cy="68.07" r="1.1" fill="#e3a13c"/>
<circle cx="402.55" cy="68.07" r="1.1" fill="#2ea7cf"/>
<circle cx="404.10" cy="68.07" r="1.1" fill="#e3a13c"/>
<circle cx="405.65" cy="68.07" r="1.1" fill="#6f8a3a"/>
<circle cx="407.20" cy="68.07" r="1.1" fill="#6f8a3a"/>
<circle cx="408.75" cy="68.07" r="1.1" fill="#e3a13c"/>
<circle cx="410.30" cy="68.07" r="1.1" fill="#e3a13c"/>
<circle cx="411.85" cy="68.07" r="1.1" fill="#6f8a3a"/>
<circle cx="413.40" cy="68.07" r="1.1" fill="#2ea7cf"/>
<circle cx="414.95" cy="68.07" r="1.1" fill="#e3a13c"/>
<circle cx="416.50" cy="68.07" r="1.1" fill="#e3a13c"/>
<circle cx="418.05" cy="68.07" r="1.1" fill="#e3a13c"/>
<circle cx="419.60" cy="68.07" r="1.1" fill="#6f8a3a"/>
<circle cx="421.15" cy="68.07" r="1.1" fill="#6f8a3a"/>
<circle cx="422.70" cy="68.07" r="1.1" fill="#e3a13c"/>
<circle cx="424.25" cy="68.07" r="1.1" fill="#6f8a3a"/>
<circle cx="425.80" cy="68.07" r="1.1" fill="#6f8a3a"/>
<circle cx="427.35" cy="68.07" r="1.1" fill="#c8453a"/>
<circle cx="428.90" cy="68.07" r="1.1" fill="#e3a13c"/>
<circle cx="430.45" cy="68.07" r="1.1" fill="#c8453a"/>
<circle cx="432.00" cy="68.07" r="1.1" fill="#e3a13c"/>
<circle cx="433.55" cy="68.07" r="1.1" fill="#e3a13c"/>
<circle cx="435.10" cy="68.07" r="1.1" fill="#6f8a3a"/>
<circle cx="436.65" cy="68.07" r="1.1" fill="#c8453a"/>
<circle cx="438.20" cy="68.07" r="1.1" fill="#c8453a"/>
<circle cx="439.75" cy="68.07" r="1.1" fill="#6f8a3a"/>
<circle cx="441.30" cy="68.07" r="1.1" fill="#c8453a"/>
<circle cx="442.85" cy="68.07" r="1.1" fill="#6f8a3a"/>
<circle cx="444.40" cy="68.07" r="1.1" fill="#6f8a3a"/>
<circle cx="445.95" cy="68.07" r="1.1" fill="#e3a13c"/>
<circle cx="447.50" cy="68.07" r="1.1" fill="#e3a13c"/>
<circle cx="449.05" cy="68.07" r="1.1" fill="#e3a13c"/>
<circle cx="450.60" cy="68.07" r="1.1" fill="#e3a13c"/>
<circle cx="452.15" cy="68.07" r="1.1" fill="#c8453a"/>
<circle cx="453.70" cy="68.07" r="1.1" fill="#e3a13c"/>
<circle cx="455.25" cy="68.07" r="1.1" fill="#2ea7cf"/>
<circle cx="456.80" cy="68.07" r="1.1" fill="#e3a13c"/>
<circle cx="458.35" cy="68.07" r="1.1" fill="#6f8a3a"/>
<circle cx="459.90" cy="68.07" r="1.1" fill="#2ea7cf"/>
<circle cx="461.45" cy="68.07" r="1.1" fill="#2ea7cf"/>
<circle cx="463.00" cy="68.07" r="1.1" fill="#2ea7cf"/>
<circle cx="464.55" cy="68.07" r="1.1" fill="#6f8a3a"/>
<circle cx="466.10" cy="68.07" r="1.1" fill="#2ea7cf"/>
<circle cx="467.65" cy="68.07" r="1.1" fill="#6f8a3a"/>
<circle cx="469.20" cy="68.07" r="1.1" fill="#2ea7cf"/>
<circle cx="470.75" cy="68.07" r="1.1" fill="#2ea7cf"/>
<circle cx="372.00" cy="68.07" r="1.1" fill="#2ea7cf"/>
<circle cx="377.30" cy="68.07" r="1.1" fill="#6f8a3a"/>
<circle cx="389.60" cy="68.07" r="1.1" fill="#c8453a"/>
<circle cx="396.10" cy="68.07" r="1.1" fill="#e3a13c"/>
<circle cx="399.50" cy="68.07" r="1.1" fill="#2ea7cf"/>
<circle cx="475.90" cy="68.07" r="1.1" fill="#2ea7cf"/>
<circle cx="479.00" cy="68.07" r="1.1" fill="#e3a13c"/>
<text x="480.70" y="70.07" font-size="6.0" fill="#333" stroke="#333" stroke-width="0.15" textLength="13.51" lengthAdjust="spacingAndGlyphs" font-family="Liberation Serif">200.3</text>
<text x="362.49" y="77.53" font-size="6.0" fill="#333" stroke="#333" stroke-width="0.15" textLength="7.51" lengthAdjust="spacingAndGlyphs" font-family="Liberation Serif">1.2</text>
<rect x="396.50" y="72.53" width="1.0" height="4.8" fill="#e3a13c"/>
<rect x="402.50" y="72.53" width="1.0" height="4.8" fill="#e3a13c"/>
<rect x="409.50" y="72.53" width="1.0" height="4.8" fill="#e3a13c"/>
<rect x="417.50" y="72.53" width="1.0" height="4.8" fill="#e3a13c"/>
<circle cx="381.40" cy="75.53" r="1.1" fill="#2ea7cf"/>
<circle cx="382.95" cy="75.53" r="1.1" fill="#e3a13c"/>
<circle cx="384.50" cy="75.53" r="1.1" fill="#2ea7cf"/>
<circle cx="386.05" cy="75.53" r="1.1" fill="#e3a13c"/>
<circle cx="387.60" cy="75.53" r="1.1" fill="#e3a13c"/>
<circle cx="389.15" cy="75.53" r="1.1" fill="#2ea7cf"/>
<circle cx="390.70" cy="75.53" r="1.1" fill="#e3a13c"/>
<circle cx="392.25" cy="75.53" r="1.1" fill="#2ea7cf"/>
<circle cx="393.80" cy="75.53" r="1.1" fill="#2ea7cf"/>
<circle cx="395.35" cy="75.53" r="1.1" fill="#c8453a"/>
<circle cx="396.90" cy="75.53" r="1.1" fill="#e3a13c"/>
<circle cx="398.45" cy="75.53" r="1.1" fill="#c8453a"/>
<circle cx="400.00" cy="75.53" r="1.1" fill="#c8453a"/>
<circle cx="401.55" cy="75.53" r="1.1" fill="#2ea7cf"/>
<circle cx="403.10" cy="75.53" r="1.1" fill="#e3a13c"/>
<circle cx="404.65" cy="75.53" r="1.1" fill="#c8453a"/>
<circle cx="406.20" cy="75.53" r="1.1" fill="#e3a13c"/>
<circle cx="407.75" cy="75.53" r="1.1" fill="#e3a13c"/>
<circle cx="409.30" cy="75.53" r="1.1" fill="#2ea7cf"/>
<circle cx="410.85" cy="75.53" r="1.1" fill="#c8453a"/>
<circle cx="412.40" cy="75.53" r="1.1" fill="#c8453a"/>
<circle cx="413.95" cy="75.53" r="1.1" fill="#2ea7cf"/>
<circle cx="415.50" cy="75.53" r="1.1" fill="#6f8a3a"/>
<circle cx="417.05" cy="75.53" r="1.1" fill="#c8453a"/>
<circle cx="418.60" cy="75.53" r="1.1" fill="#c8453a"/>
<circle cx="420.15" cy="75.53" r="1.1" fill="#c8453a"/>
<circle cx="421.70" cy="75.53" r="1.1" fill="#c8453a"/>
<circle cx="423.25" cy="75.53" r="1.1" fill="#2ea7cf"/>
<circle cx="424.80" cy="75.53" r="1.1" fill="#c8453a"/>
<circle cx="426.35" cy="75.53" r="1.1" fill="#c8453a"/>
<circle cx="427.90" cy="75.53" r="1.1" fill="#c8453a"/>
<circle cx="429.45" cy="75.53" r="1.1" fill="#6f8a3a"/>
<circle cx="431.00" cy="75.53" r="1.1" fill="#2ea7cf"/>
<circle cx="432.55" cy="75.53" r="1.1" fill="#6f8a3a"/>
<circle cx="434.10" cy="75.53" r="1.1" fill="#6f8a3a"/>
<circle cx="435.65" cy="75.53" r="1.1" fill="#e3a13c"/>
<circle cx="372.00" cy="75.53" r="1.1" fill="#2ea7cf"/>
<circle cx="378.20" cy="75.53" r="1.1" fill="#e3a13c"/>
<circle cx="443.00" cy="75.53" r="1.1" fill="#e3a13c"/>
<circle cx="450.80" cy="75.53" r="1.1" fill="#e3a13c"/>
<circle cx="466.00" cy="75.53" r="1.1" fill="#c8453a"/>
<circle cx="475.30" cy="75.53" r="1.1" fill="#e3a13c"/>
<text x="477.60" y="77.53" font-size="6.0" fill="#333" stroke="#333" stroke-width="0.15" textLength="10.51" lengthAdjust="spacingAndGlyphs" font-family="Liberation Serif">47.1</text>
<text x="367.00" y="85.00" font-size="6.0" fill="#333" stroke="#333" stroke-width="0.15" textLength="3.00" lengthAdjust="spacingAndGlyphs" font-family="Liberation Serif">0</text>
<rect x="380.30" y="80.00" width="1.0" height="4.8" fill="#c8453a"/>
<circle cx="372.00" cy="83.00" r="1.1" fill="#c8453a"/>
<circle cx="373.55" cy="83.00" r="1.1" fill="#6f8a3a"/>
<circle cx="375.10" cy="83.00" r="1.1" fill="#6f8a3a"/>
<circle cx="376.65" cy="83.00" r="1.1" fill="#e3a13c"/>
<circle cx="378.20" cy="83.00" r="1.1" fill="#e3a13c"/>
<circle cx="379.75" cy="83.00" r="1.1" fill="#c8453a"/>
<circle cx="381.30" cy="83.00" r="1.1" fill="#e3a13c"/>
<circle cx="382.85" cy="83.00" r="1.1" fill="#e3a13c"/>
<circle cx="386.00" cy="83.00" r="1.1" fill="#c8453a"/>
<circle cx="389.00" cy="83.00" r="1.1" fill="#2ea7cf"/>
<circle cx="392.00" cy="83.00" r="1.1" fill="#c8453a"/>
<circle cx="395.00" cy="83.00" r="1.1" fill="#c8453a"/>
<circle cx="398.50" cy="83.00" r="1.1" fill="#6f8a3a"/>
<circle cx="404.00" cy="83.00" r="1.1" fill="#e3a13c"/>
<circle cx="407.50" cy="83.00" r="1.1" fill="#c8453a"/>
<circle cx="413.50" cy="83.00" r="1.1" fill="#c8453a"/>
<text x="418.20" y="85.00" font-size="6.0" fill="#333" stroke="#333" stroke-width="0.15" textLength="7.51" lengthAdjust="spacingAndGlyphs" font-family="Liberation Serif">2.5</text>
<text x="362.49" y="92.47" font-size="6.0" fill="#333" stroke="#333" stroke-width="0.15" textLength="7.51" lengthAdjust="spacingAndGlyphs" font-family="Liberation Serif">4.5</text>
<rect x="397.50" y="87.47" width="1.0" height="4.8" fill="#e3a13c"/>
<rect x="401.50" y="87.47" width="1.0" height="4.8" fill="#c8453a"/>
<rect x="406.50" y="87.47" width="1.0" height="4.8" fill="#2ea7cf"/>
<rect x="410.50" y="87.47" width="1.0" height="4.8" fill="#6f8a3a"/>
<rect x="414.50" y="87.47" width="1.0" height="4.8" fill="#e3a13c"/>
<rect x="418.50" y="87.47" width="1.0" height="4.8" fill="#c8453a"/>
<rect x="422.50" y="87.47" width="1.0" height="4.8" fill="#c8453a"/>
<rect x="427.50" y="87.47" width="1.0" height="4.8" fill="#e3a13c"/>
<circle cx="390.40" cy="90.47" r="1.1" fill="#6f8a3a"/>
<circle cx="391.95" cy="90.47" r="1.1" fill="#6f8a3a"/>
<circle cx="393.50" cy="90.47" r="1.1" fill="#e3a13c"/>
<circle cx="395.05" cy="90.47" r="1.1" fill="#6f8a3a"/>
<circle cx="396.60" cy="90.47" r="1.1" fill="#e3a13c"/>
<circle cx="398.15" cy="90.47" r="1.1" fill="#c8453a"/>
<circle cx="399.70" cy="90.47" r="1.1" fill="#6f8a3a"/>
<circle cx="401.25" cy="90.47" r="1.1" fill="#6f8a3a"/>
<circle cx="402.80" cy="90.47" r="1.1" fill="#e3a13c"/>
<circle cx="404.35" cy="90.47" r="1.1" fill="#c8453a"/>
<circle cx="405.90" cy="90.47" r="1.1" fill="#c8453a"/>
<circle cx="407.45" cy="90.47" r="1.1" fill="#e3a13c"/>
<circle cx="409.00" cy="90.47" r="1.1" fill="#e3a13c"/>
<circle cx="410.55" cy="90.47" r="1.1" fill="#e3a13c"/>
<circle cx="412.10" cy="90.47" r="1.1" fill="#2ea7cf"/>
<circle cx="413.65" cy="90.47" r="1.1" fill="#e3a13c"/>
<circle cx="415.20" cy="90.47" r="1.1" fill="#c8453a"/>
<circle cx="416.75" cy="90.47" r="1.1" fill="#c8453a"/>
<circle cx="418.30" cy="90.47" r="1.1" fill="#e3a13c"/>
<circle cx="419.85" cy="90.47" r="1.1" fill="#e3a13c"/>
<circle cx="421.40" cy="90.47" r="1.1" fill="#c8453a"/>
<circle cx="422.95" cy="90.47" r="1.1" fill="#c8453a"/>
<circle cx="424.50" cy="90.47" r="1.1" fill="#e3a13c"/>
<circle cx="426.05" cy="90.47" r="1.1" fill="#6f8a3a"/>
<circle cx="427.60" cy="90.47" r="1.1" fill="#2ea7cf"/>
<circle cx="429.15" cy="90.47" r="1.1" fill="#6f8a3a"/>
<circle cx="430.70" cy="90.47" r="1.1" fill="#e3a13c"/>
<circle cx="432.25" cy="90.47" r="1.1" fill="#e3a13c"/>
<circle cx="433.80" cy="90.47" r="1.1" fill="#e3a13c"/>
<circle cx="435.35" cy="90.47" r="1.1" fill="#2ea7cf"/>
<circle cx="372.00" cy="90.47" r="1.1" fill="#e3a13c"/>
<circle cx="382.20" cy="90.47" r="1.1" fill="#2ea7cf"/>
<circle cx="384.00" cy="90.47" r="1.1" fill="#2ea7cf"/>
<circle cx="446.00" cy="90.47" r="1.1" fill="#e3a13c"/>
<text x="448.70" y="92.47" font-size="6.0" fill="#333" stroke="#333" stroke-width="0.15" textLength="10.51" lengthAdjust="spacingAndGlyphs" font-family="Liberation Serif">48.8</text>
<text x="367.00" y="99.94" font-size="6.0" fill="#333" stroke="#333" stroke-width="0.15" textLength="3.00" lengthAdjust="spacingAndGlyphs" font-family="Liberation Serif">3</text>
<rect x="404.60" y="94.94" width="1.0" height="4.8" fill="#c8453a"/>
<rect x="423.50" y="94.94" width="1.0" height="4.8" fill="#e3a13c"/>
<rect x="428.50" y="94.94" width="1.0" height="4.8" fill="#2ea7cf"/>
<circle cx="401.50" cy="97.94" r="1.1" fill="#e3a13c"/>
<circle cx="403.05" cy="97.94" r="1.1" fill="#e3a13c"/>
<circle cx="404.60" cy="97.94" r="1.1" fill="#c8453a"/>
<circle cx="406.15" cy="97.94" r="1.1" fill="#6f8a3a"/>
<circle cx="407.70" cy="97.94" r="1.1" fill="#6f8a3a"/>
<circle cx="409.25" cy="97.94" r="1.1" fill="#e3a13c"/>
<circle cx="410.80" cy="97.94" r="1.1" fill="#e3a13c"/>
<circle cx="412.35" cy="97.94" r="1.1" fill="#6f8a3a"/>
<circle cx="413.90" cy="97.94" r="1.1" fill="#c8453a"/>
<circle cx="415.45" cy="97.94" r="1.1" fill="#2ea7cf"/>
<circle cx="417.00" cy="97.94" r="1.1" fill="#e3a13c"/>
<circle cx="418.55" cy="97.94" r="1.1" fill="#e3a13c"/>
<circle cx="420.10" cy="97.94" r="1.1" fill="#2ea7cf"/>
<circle cx="421.65" cy="97.94" r="1.1" fill="#c8453a"/>
<circle cx="423.20" cy="97.94" r="1.1" fill="#e3a13c"/>
<circle cx="424.75" cy="97.94" r="1.1" fill="#6f8a3a"/>
<circle cx="426.30" cy="97.94" r="1.1" fill="#c8453a"/>
<circle cx="427.85" cy="97.94" r="1.1" fill="#6f8a3a"/>
<circle cx="429.40" cy="97.94" r="1.1" fill="#e3a13c"/>
<circle cx="430.95" cy="97.94" r="1.1" fill="#6f8a3a"/>
<circle cx="432.50" cy="97.94" r="1.1" fill="#e3a13c"/>
<circle cx="434.05" cy="97.94" r="1.1" fill="#6f8a3a"/>
<circle cx="435.60" cy="97.94" r="1.1" fill="#c8453a"/>
<circle cx="437.15" cy="97.94" r="1.1" fill="#e3a13c"/>
<circle cx="438.70" cy="97.94" r="1.1" fill="#c8453a"/>
<circle cx="440.25" cy="97.94" r="1.1" fill="#6f8a3a"/>
<circle cx="441.80" cy="97.94" r="1.1" fill="#e3a13c"/>
<circle cx="443.35" cy="97.94" r="1.1" fill="#e3a13c"/>
<circle cx="444.90" cy="97.94" r="1.1" fill="#c8453a"/>
<circle cx="372.00" cy="97.94" r="1.1" fill="#e3a13c"/>
<circle cx="382.70" cy="97.94" r="1.1" fill="#c8453a"/>
<circle cx="390.40" cy="97.94" r="1.1" fill="#c8453a"/>
<circle cx="392.50" cy="97.94" r="1.1" fill="#c8453a"/>
<circle cx="395.00" cy="97.94" r="1.1" fill="#e3a13c"/>
<circle cx="398.00" cy="97.94" r="1.1" fill="#2ea7cf"/>
<circle cx="450.40" cy="97.94" r="1.1" fill="#6f8a3a"/>
<text x="454.20" y="99.94" font-size="6.0" fill="#333" stroke="#333" stroke-width="0.15" textLength="10.51" lengthAdjust="spacingAndGlyphs" font-family="Liberation Serif">41.3</text>
<text x="362.49" y="107.40" font-size="6.0" fill="#333" stroke="#333" stroke-width="0.15" textLength="7.51" lengthAdjust="spacingAndGlyphs" font-family="Liberation Serif">1.9</text>
<rect x="442.50" y="102.40" width="1.0" height="4.8" fill="#e3a13c"/>
<rect x="445.50" y="102.40" width="1.0" height="4.8" fill="#e3a13c"/>
<rect x="457.50" y="102.40" width="1.0" height="4.8" fill="#e3a13c"/>
<rect x="460.50" y="102.40" width="1.0" height="4.8" fill="#e3a13c"/>
<circle cx="404.30" cy="105.40" r="1.1" fill="#e3a13c"/>
<circle cx="405.85" cy="105.40" r="1.1" fill="#e3a13c"/>
<circle cx="407.40" cy="105.40" r="1.1" fill="#e3a13c"/>
<circle cx="408.95" cy="105.40" r="1.1" fill="#2ea7cf"/>
<circle cx="410.50" cy="105.40" r="1.1" fill="#e3a13c"/>
<circle cx="412.05" cy="105.40" r="1.1" fill="#c8453a"/>
<circle cx="413.60" cy="105.40" r="1.1" fill="#e3a13c"/>
<circle cx="415.15" cy="105.40" r="1.1" fill="#e3a13c"/>
<circle cx="416.70" cy="105.40" r="1.1" fill="#e3a13c"/>
<circle cx="418.25" cy="105.40" r="1.1" fill="#e3a13c"/>
<circle cx="419.80" cy="105.40" r="1.1" fill="#e3a13c"/>
<circle cx="421.35" cy="105.40" r="1.1" fill="#2ea7cf"/>
<circle cx="422.90" cy="105.40" r="1.1" fill="#c8453a"/>
<circle cx="424.45" cy="105.40" r="1.1" fill="#e3a13c"/>
<circle cx="426.00" cy="105.40" r="1.1" fill="#c8453a"/>
<circle cx="427.55" cy="105.40" r="1.1" fill="#6f8a3a"/>
<circle cx="429.10" cy="105.40" r="1.1" fill="#e3a13c"/>
<circle cx="430.65" cy="105.40" r="1.1" fill="#6f8a3a"/>
<circle cx="432.20" cy="105.40" r="1.1" fill="#c8453a"/>
<circle cx="433.75" cy="105.40" r="1.1" fill="#c8453a"/>
<circle cx="435.30" cy="105.40" r="1.1" fill="#6f8a3a"/>
<circle cx="436.85" cy="105.40" r="1.1" fill="#e3a13c"/>
<circle cx="438.40" cy="105.40" r="1.1" fill="#c8453a"/>
<circle cx="439.95" cy="105.40" r="1.1" fill="#2ea7cf"/>
<circle cx="441.50" cy="105.40" r="1.1" fill="#6f8a3a"/>
<circle cx="443.05" cy="105.40" r="1.1" fill="#2ea7cf"/>
<circle cx="444.60" cy="105.40" r="1.1" fill="#2ea7cf"/>
<circle cx="446.15" cy="105.40" r="1.1" fill="#2ea7cf"/>
<circle cx="447.70" cy="105.40" r="1.1" fill="#2ea7cf"/>
<circle cx="449.25" cy="105.40" r="1.1" fill="#2ea7cf"/>
<circle cx="450.80" cy="105.40" r="1.1" fill="#2ea7cf"/>
<circle cx="452.35" cy="105.40" r="1.1" fill="#e3a13c"/>
<circle cx="453.90" cy="105.40" r="1.1" fill="#e3a13c"/>
<circle cx="455.45" cy="105.40" r="1.1" fill="#e3a13c"/>
<circle cx="457.00" cy="105.40" r="1.1" fill="#2ea7cf"/>
<circle cx="458.55" cy="105.40" r="1.1" fill="#e3a13c"/>
<circle cx="460.10" cy="105.40" r="1.1" fill="#e3a13c"/>
<circle cx="461.65" cy="105.40" r="1.1" fill="#e3a13c"/>
<circle cx="463.20" cy="105.40" r="1.1" fill="#6f8a3a"/>
<circle cx="464.75" cy="105.40" r="1.1" fill="#6f8a3a"/>
<circle cx="466.30" cy="105.40" r="1.1" fill="#2ea7cf"/>
<circle cx="467.85" cy="105.40" r="1.1" fill="#e3a13c"/>
<circle cx="469.40" cy="105.40" r="1.1" fill="#e3a13c"/>
<circle cx="470.95" cy="105.40" r="1.1" fill="#e3a13c"/>
<circle cx="472.50" cy="105.40" r="1.1" fill="#c8453a"/>
<circle cx="474.05" cy="105.40" r="1.1" fill="#e3a13c"/>
<circle cx="475.60" cy="105.40" r="1.1" fill="#c8453a"/>
<circle cx="477.15" cy="105.40" r="1.1" fill="#e3a13c"/>
<circle cx="372.00" cy="105.40" r="1.1" fill="#e3a13c"/>
<circle cx="385.50" cy="105.40" r="1.1" fill="#e3a13c"/>
<circle cx="388.80" cy="105.40" r="1.1" fill="#2ea7cf"/>
<circle cx="396.00" cy="105.40" r="1.1" fill="#2ea7cf"/>
<circle cx="397.60" cy="105.40" r="1.1" fill="#2ea7cf"/>
<circle cx="399.40" cy="105.40" r="1.1" fill="#2ea7cf"/>
<circle cx="482.00" cy="105.40" r="1.1" fill="#e3a13c"/>
<circle cx="497.50" cy="105.40" r="1.1" fill="#e3a13c"/>
<circle cx="508.70" cy="105.40" r="1.1" fill="#e3a13c"/>
<text x="497.60" y="103.20" font-size="6.0" fill="#333" stroke="#333" stroke-width="0.15" textLength="13.51" lengthAdjust="spacingAndGlyphs" font-family="Liberation Serif">169.2</text>
<text x="362.49" y="114.87" font-size="6.0" fill="#333" stroke="#333" stroke-width="0.15" textLength="7.51" lengthAdjust="spacingAndGlyphs" font-family="Liberation Serif">1.2</text>
<rect x="394.50" y="109.87" width="1.0" height="4.8" fill="#6f8a3a"/>
<rect x="397.00" y="109.87" width="1.0" height="4.8" fill="#6f8a3a"/>
<rect x="406.50" y="109.87" width="1.0" height="4.8" fill="#e3a13c"/>
<rect x="409.00" y="109.87" width="1.0" height="4.8" fill="#e3a13c"/>
<circle cx="374.90" cy="112.87" r="1.1" fill="#6f8a3a"/>
<circle cx="376.45" cy="112.87" r="1.1" fill="#c8453a"/>
<circle cx="378.00" cy="112.87" r="1.1" fill="#2ea7cf"/>
<circle cx="379.55" cy="112.87" r="1.1" fill="#e3a13c"/>
<circle cx="381.10" cy="112.87" r="1.1" fill="#2ea7cf"/>
<circle cx="382.65" cy="112.87" r="1.1" fill="#2ea7cf"/>
<circle cx="384.20" cy="112.87" r="1.1" fill="#2ea7cf"/>
<circle cx="385.75" cy="112.87" r="1.1" fill="#c8453a"/>
<circle cx="387.30" cy="112.87" r="1.1" fill="#2ea7cf"/>
<circle cx="388.85" cy="112.87" r="1.1" fill="#e3a13c"/>
<circle cx="390.40" cy="112.87" r="1.1" fill="#c8453a"/>
<circle cx="391.95" cy="112.87" r="1.1" fill="#e3a13c"/>
<circle cx="393.50" cy="112.87" r="1.1" fill="#e3a13c"/>
<circle cx="395.05" cy="112.87" r="1.1" fill="#e3a13c"/>
<circle cx="396.60" cy="112.87" r="1.1" fill="#e3a13c"/>
<circle cx="398.15" cy="112.87" r="1.1" fill="#e3a13c"/>
<circle cx="399.70" cy="112.87" r="1.1" fill="#e3a13c"/>
<circle cx="401.25" cy="112.87" r="1.1" fill="#c8453a"/>
<circle cx="402.80" cy="112.87" r="1.1" fill="#c8453a"/>
<circle cx="404.35" cy="112.87" r="1.1" fill="#2ea7cf"/>
<circle cx="405.90" cy="112.87" r="1.1" fill="#c8453a"/>
<circle cx="407.45" cy="112.87" r="1.1" fill="#2ea7cf"/>
<circle cx="409.00" cy="112.87" r="1.1" fill="#6f8a3a"/>
<circle cx="410.55" cy="112.87" r="1.1" fill="#e3a13c"/>
<circle cx="412.10" cy="112.87" r="1.1" fill="#e3a13c"/>
<circle cx="413.65" cy="112.87" r="1.1" fill="#6f8a3a"/>
<circle cx="372.00" cy="112.87" r="1.1" fill="#2ea7cf"/>
<circle cx="419.00" cy="112.87" r="1.1" fill="#e3a13c"/>
<text x="426.40" y="114.87" font-size="6.0" fill="#333" stroke="#333" stroke-width="0.15" textLength="3.00" lengthAdjust="spacingAndGlyphs" font-family="Liberation Serif">8</text>
<text x="362.49" y="122.34" font-size="6.0" fill="#333" stroke="#333" stroke-width="0.15" textLength="7.51" lengthAdjust="spacingAndGlyphs" font-family="Liberation Serif">4.1</text>
<rect x="403.00" y="117.34" width="1.0" height="4.8" fill="#e3a13c"/>
<rect x="413.50" y="117.34" width="1.0" height="4.8" fill="#e3a13c"/>
<rect x="417.50" y="117.34" width="1.0" height="4.8" fill="#c8453a"/>
<rect x="420.50" y="117.34" width="1.0" height="4.8" fill="#c8453a"/>
<rect x="423.50" y="117.34" width="1.0" height="4.8" fill="#e3a13c"/>
<rect x="427.00" y="117.34" width="1.0" height="4.8" fill="#6f8a3a"/>
<rect x="430.50" y="117.34" width="1.0" height="4.8" fill="#6f8a3a"/>
<rect x="433.50" y="117.34" width="1.0" height="4.8" fill="#c8453a"/>
<rect x="436.50" y="117.34" width="1.0" height="4.8" fill="#2ea7cf"/>
<rect x="440.50" y="117.34" width="1.0" height="4.8" fill="#2ea7cf"/>
<rect x="444.50" y="117.34" width="1.0" height="4.8" fill="#e3a13c"/>
<rect x="447.50" y="117.34" width="1.0" height="4.8" fill="#e3a13c"/>
<rect x="451.50" y="117.34" width="1.0" height="4.8" fill="#2ea7cf"/>
<rect x="454.50" y="117.34" width="1.0" height="4.8" fill="#2ea7cf"/>
<rect x="457.50" y="117.34" width="1.0" height="4.8" fill="#2ea7cf"/>
<rect x="460.50" y="117.34" width="1.0" height="4.8" fill="#2ea7cf"/>
<circle cx="406.00" cy="120.34" r="1.1" fill="#c8453a"/>
<circle cx="407.55" cy="120.34" r="1.1" fill="#6f8a3a"/>
<circle cx="409.10" cy="120.34" r="1.1" fill="#6f8a3a"/>
<circle cx="410.65" cy="120.34" r="1.1" fill="#6f8a3a"/>
<circle cx="412.20" cy="120.34" r="1.1" fill="#c8453a"/>
<circle cx="413.75" cy="120.34" r="1.1" fill="#6f8a3a"/>
<circle cx="415.30" cy="120.34" r="1.1" fill="#2ea7cf"/>
<circle cx="416.85" cy="120.34" r="1.1" fill="#2ea7cf"/>
<circle cx="418.40" cy="120.34" r="1.1" fill="#e3a13c"/>
<circle cx="419.95" cy="120.34" r="1.1" fill="#e3a13c"/>
<circle cx="421.50" cy="120.34" r="1.1" fill="#e3a13c"/>
<circle cx="423.05" cy="120.34" r="1.1" fill="#e3a13c"/>
<circle cx="424.60" cy="120.34" r="1.1" fill="#e3a13c"/>
<circle cx="426.15" cy="120.34" r="1.1" fill="#6f8a3a"/>
<circle cx="427.70" cy="120.34" r="1.1" fill="#c8453a"/>
<circle cx="429.25" cy="120.34" r="1.1" fill="#c8453a"/>
<circle cx="430.80" cy="120.34" r="1.1" fill="#c8453a"/>
<circle cx="432.35" cy="120.34" r="1.1" fill="#2ea7cf"/>
<circle cx="433.90" cy="120.34" r="1.1" fill="#c8453a"/>
<circle cx="435.45" cy="120.34" r="1.1" fill="#e3a13c"/>
<circle cx="437.00" cy="120.34" r="1.1" fill="#2ea7cf"/>
<circle cx="438.55" cy="120.34" r="1.1" fill="#2ea7cf"/>
<circle cx="440.10" cy="120.34" r="1.1" fill="#c8453a"/>
<circle cx="441.65" cy="120.34" r="1.1" fill="#c8453a"/>
<circle cx="443.20" cy="120.34" r="1.1" fill="#c8453a"/>
<circle cx="444.75" cy="120.34" r="1.1" fill="#e3a13c"/>
<circle cx="446.30" cy="120.34" r="1.1" fill="#2ea7cf"/>
<circle cx="447.85" cy="120.34" r="1.1" fill="#e3a13c"/>
<circle cx="449.40" cy="120.34" r="1.1" fill="#e3a13c"/>
<circle cx="450.95" cy="120.34" r="1.1" fill="#e3a13c"/>
<circle cx="452.50" cy="120.34" r="1.1" fill="#2ea7cf"/>
<circle cx="454.05" cy="120.34" r="1.1" fill="#e3a13c"/>
<circle cx="455.60" cy="120.34" r="1.1" fill="#2ea7cf"/>
<circle cx="457.15" cy="120.34" r="1.1" fill="#6f8a3a"/>
<circle cx="458.70" cy="120.34" r="1.1" fill="#c8453a"/>
<circle cx="460.25" cy="120.34" r="1.1" fill="#e3a13c"/>
<circle cx="372.00" cy="120.34" r="1.1" fill="#e3a13c"/>
<circle cx="382.00" cy="120.34" r="1.1" fill="#c8453a"/>
<circle cx="384.50" cy="120.34" r="1.1" fill="#c8453a"/>
<circle cx="387.00" cy="120.34" r="1.1" fill="#c8453a"/>
<circle cx="391.00" cy="120.34" r="1.1" fill="#e3a13c"/>
<circle cx="394.00" cy="120.34" r="1.1" fill="#e3a13c"/>
<circle cx="397.00" cy="120.34" r="1.1" fill="#e3a13c"/>
<circle cx="467.70" cy="120.34" r="1.1" fill="#2ea7cf"/>
<text x="470.70" y="122.34" font-size="6.0" fill="#333" stroke="#333" stroke-width="0.15" textLength="10.51" lengthAdjust="spacingAndGlyphs" font-family="Liberation Serif">87.7</text>
<text x="362.49" y="129.80" font-size="6.0" fill="#333" stroke="#333" stroke-width="0.15" textLength="7.51" lengthAdjust="spacingAndGlyphs" font-family="Liberation Serif">2.4</text>
<rect x="387.50" y="124.80" width="1.0" height="4.8" fill="#e3a13c"/>
<rect x="390.00" y="124.80" width="1.0" height="4.8" fill="#c8453a"/>
<rect x="392.50" y="124.80" width="1.0" height="4.8" fill="#2ea7cf"/>
<rect x="394.50" y="124.80" width="1.0" height="4.8" fill="#c8453a"/>
<rect x="397.00" y="124.80" width="1.0" height="4.8" fill="#c8453a"/>
<rect x="398.50" y="124.80" width="1.0" height="4.8" fill="#e3a13c"/>
<rect x="401.00" y="124.80" width="1.0" height="4.8" fill="#e3a13c"/>
<rect x="402.50" y="124.80" width="1.0" height="4.8" fill="#e3a13c"/>
<circle cx="379.80" cy="127.80" r="1.1" fill="#2ea7cf"/>
<circle cx="381.35" cy="127.80" r="1.1" fill="#e3a13c"/>
<circle cx="382.90" cy="127.80" r="1.1" fill="#c8453a"/>
<circle cx="384.45" cy="127.80" r="1.1" fill="#e3a13c"/>
<circle cx="386.00" cy="127.80" r="1.1" fill="#e3a13c"/>
<circle cx="387.55" cy="127.80" r="1.1" fill="#e3a13c"/>
<circle cx="389.10" cy="127.80" r="1.1" fill="#2ea7cf"/>
<circle cx="390.65" cy="127.80" r="1.1" fill="#2ea7cf"/>
<circle cx="392.20" cy="127.80" r="1.1" fill="#2ea7cf"/>
<circle cx="393.75" cy="127.80" r="1.1" fill="#e3a13c"/>
<circle cx="395.30" cy="127.80" r="1.1" fill="#c8453a"/>
<circle cx="396.85" cy="127.80" r="1.1" fill="#c8453a"/>
<circle cx="398.40" cy="127.80" r="1.1" fill="#c8453a"/>
<circle cx="399.95" cy="127.80" r="1.1" fill="#e3a13c"/>
<circle cx="401.50" cy="127.80" r="1.1" fill="#6f8a3a"/>
<circle cx="403.05" cy="127.80" r="1.1" fill="#e3a13c"/>
<circle cx="404.60" cy="127.80" r="1.1" fill="#6f8a3a"/>
<circle cx="406.15" cy="127.80" r="1.1" fill="#6f8a3a"/>
<circle cx="372.00" cy="127.80" r="1.1" fill="#c8453a"/>
<circle cx="375.70" cy="127.80" r="1.1" fill="#2ea7cf"/>
<circle cx="417.40" cy="127.80" r="1.1" fill="#e3a13c"/>
<text x="420.60" y="129.80" font-size="6.0" fill="#333" stroke="#333" stroke-width="0.15" textLength="10.51" lengthAdjust="spacingAndGlyphs" font-family="Liberation Serif">12.2</text>
<text x="362.49" y="137.27" font-size="6.0" fill="#333" stroke="#333" stroke-width="0.15" textLength="7.51" lengthAdjust="spacingAndGlyphs" font-family="Liberation Serif">2.3</text>
<rect x="373.70" y="132.27" width="1.0" height="4.8" fill="#2ea7cf"/>
<rect x="385.50" y="132.27" width="1.0" height="4.8" fill="#e3a13c"/>
<rect x="388.00" y="132.27" width="1.0" height="4.8" fill="#e3a13c"/>
<rect x="391.50" y="132.27" width="1.0" height="4.8" fill="#2ea7cf"/>
<circle cx="372.00" cy="135.27" r="1.1" fill="#6f8a3a"/>
<circle cx="373.55" cy="135.27" r="1.1" fill="#c8453a"/>
<circle cx="375.10" cy="135.27" r="1.1" fill="#e3a13c"/>
<circle cx="376.65" cy="135.27" r="1.1" fill="#e3a13c"/>
<circle cx="378.20" cy="135.27" r="1.1" fill="#6f8a3a"/>
<circle cx="379.75" cy="135.27" r="1.1" fill="#e3a13c"/>
<circle cx="381.30" cy="135.27" r="1.1" fill="#c8453a"/>
<circle cx="382.85" cy="135.27" r="1.1" fill="#e3a13c"/>
<circle cx="384.40" cy="135.27" r="1.1" fill="#c8453a"/>
<circle cx="385.95" cy="135.27" r="1.1" fill="#6f8a3a"/>
<circle cx="387.50" cy="135.27" r="1.1" fill="#e3a13c"/>
<circle cx="389.05" cy="135.27" r="1.1" fill="#6f8a3a"/>
<circle cx="390.60" cy="135.27" r="1.1" fill="#c8453a"/>
<circle cx="392.15" cy="135.27" r="1.1" fill="#6f8a3a"/>
<circle cx="393.70" cy="135.27" r="1.1" fill="#2ea7cf"/>
<circle cx="395.25" cy="135.27" r="1.1" fill="#e3a13c"/>
<circle cx="401.00" cy="135.27" r="1.1" fill="#e3a13c"/>
<circle cx="405.00" cy="135.27" r="1.1" fill="#e3a13c"/>
<circle cx="410.00" cy="135.27" r="1.1" fill="#c8453a"/>
<circle cx="414.50" cy="135.27" r="1.1" fill="#c8453a"/>
<circle cx="417.20" cy="135.27" r="1.1" fill="#c8453a"/>
<text x="422.60" y="137.27" font-size="6.0" fill="#333" stroke="#333" stroke-width="0.15" textLength="10.51" lengthAdjust="spacingAndGlyphs" font-family="Liberation Serif">12.9</text>
<text x="362.49" y="144.74" font-size="6.0" fill="#333" stroke="#333" stroke-width="0.15" textLength="7.51" lengthAdjust="spacingAndGlyphs" font-family="Liberation Serif">5.4</text>
<rect x="402.50" y="139.74" width="1.0" height="4.8" fill="#6f8a3a"/>
<rect x="420.50" y="139.74" width="1.0" height="4.8" fill="#e3a13c"/>
<rect x="436.50" y="139.74" width="1.0" height="4.8" fill="#e3a13c"/>
<rect x="439.50" y="139.74" width="1.0" height="4.8" fill="#e3a13c"/>
<circle cx="389.60" cy="142.74" r="1.1" fill="#c8453a"/>
<circle cx="391.15" cy="142.74" r="1.1" fill="#c8453a"/>
<circle cx="392.70" cy="142.74" r="1.1" fill="#e3a13c"/>
<circle cx="394.25" cy="142.74" r="1.1" fill="#e3a13c"/>
<circle cx="395.80" cy="142.74" r="1.1" fill="#2ea7cf"/>
<circle cx="397.35" cy="142.74" r="1.1" fill="#c8453a"/>
<circle cx="398.90" cy="142.74" r="1.1" fill="#2ea7cf"/>
<circle cx="400.45" cy="142.74" r="1.1" fill="#e3a13c"/>
<circle cx="402.00" cy="142.74" r="1.1" fill="#2ea7cf"/>
<circle cx="403.55" cy="142.74" r="1.1" fill="#2ea7cf"/>
<circle cx="405.10" cy="142.74" r="1.1" fill="#e3a13c"/>
<circle cx="406.65" cy="142.74" r="1.1" fill="#6f8a3a"/>
<circle cx="408.20" cy="142.74" r="1.1" fill="#2ea7cf"/>
<circle cx="409.75" cy="142.74" r="1.1" fill="#6f8a3a"/>
<circle cx="411.30" cy="142.74" r="1.1" fill="#c8453a"/>
<circle cx="412.85" cy="142.74" r="1.1" fill="#2ea7cf"/>
<circle cx="414.40" cy="142.74" r="1.1" fill="#2ea7cf"/>
<circle cx="415.95" cy="142.74" r="1.1" fill="#6f8a3a"/>
<circle cx="417.50" cy="142.74" r="1.1" fill="#2ea7cf"/>
<circle cx="419.05" cy="142.74" r="1.1" fill="#e3a13c"/>
<circle cx="420.60" cy="142.74" r="1.1" fill="#c8453a"/>
<circle cx="422.15" cy="142.74" r="1.1" fill="#e3a13c"/>
<circle cx="423.70" cy="142.74" r="1.1" fill="#e3a13c"/>
<circle cx="425.25" cy="142.74" r="1.1" fill="#e3a13c"/>
<circle cx="426.80" cy="142.74" r="1.1" fill="#6f8a3a"/>
<circle cx="428.35" cy="142.74" r="1.1" fill="#e3a13c"/>
<circle cx="429.90" cy="142.74" r="1.1" fill="#6f8a3a"/>
<circle cx="431.45" cy="142.74" r="1.1" fill="#e3a13c"/>
<circle cx="433.00" cy="142.74" r="1.1" fill="#e3a13c"/>
<circle cx="434.55" cy="142.74" r="1.1" fill="#c8453a"/>
<circle cx="436.10" cy="142.74" r="1.1" fill="#e3a13c"/>
<circle cx="437.65" cy="142.74" r="1.1" fill="#e3a13c"/>
<circle cx="439.20" cy="142.74" r="1.1" fill="#6f8a3a"/>
<circle cx="440.75" cy="142.74" r="1.1" fill="#6f8a3a"/>
<circle cx="372.00" cy="142.74" r="1.1" fill="#c8453a"/>
<circle cx="376.50" cy="142.74" r="1.1" fill="#e3a13c"/>
<circle cx="382.00" cy="142.74" r="1.1" fill="#c8453a"/>
<circle cx="386.00" cy="142.74" r="1.1" fill="#c8453a"/>
<text x="443.80" y="144.74" font-size="6.0" fill="#333" stroke="#333" stroke-width="0.15" textLength="10.51" lengthAdjust="spacingAndGlyphs" font-family="Liberation Serif">49.6</text>
<text x="362.49" y="152.20" font-size="6.0" fill="#333" stroke="#333" stroke-width="0.15" textLength="7.51" lengthAdjust="spacingAndGlyphs" font-family="Liberation Serif">0.3</text>
<rect x="387.50" y="147.20" width="1.0" height="4.8" fill="#2ea7cf"/>
<rect x="390.00" y="147.20" width="1.0" height="4.8" fill="#c8453a"/>
<rect x="392.50" y="147.20" width="1.0" height="4.8" fill="#6f8a3a"/>
<rect x="395.50" y="147.20" width="1.0" height="4.8" fill="#6f8a3a"/>
<circle cx="372.00" cy="150.20" r="1.1" fill="#c8453a"/>
<circle cx="373.55" cy="150.20" r="1.1" fill="#2ea7cf"/>
<circle cx="375.10" cy="150.20" r="1.1" fill="#e3a13c"/>
<circle cx="376.65" cy="150.20" r="1.1" fill="#2ea7cf"/>
<circle cx="378.20" cy="150.20" r="1.1" fill="#c8453a"/>
<circle cx="379.75" cy="150.20" r="1.1" fill="#2ea7cf"/>
<circle cx="381.30" cy="150.20" r="1.1" fill="#c8453a"/>
<circle cx="382.85" cy="150.20" r="1.1" fill="#e3a13c"/>
<circle cx="384.40" cy="150.20" r="1.1" fill="#e3a13c"/>
<circle cx="385.95" cy="150.20" r="1.1" fill="#6f8a3a"/>
<circle cx="387.50" cy="150.20" r="1.1" fill="#e3a13c"/>
<circle cx="389.05" cy="150.20" r="1.1" fill="#c8453a"/>
<circle cx="390.60" cy="150.20" r="1.1" fill="#e3a13c"/>
<circle cx="392.15" cy="150.20" r="1.1" fill="#e3a13c"/>
<circle cx="393.70" cy="150.20" r="1.1" fill="#2ea7cf"/>
<circle cx="395.25" cy="150.20" r="1.1" fill="#6f8a3a"/>
<circle cx="396.80" cy="150.20" r="1.1" fill="#e3a13c"/>
<circle cx="398.35" cy="150.20" r="1.1" fill="#c8453a"/>
<circle cx="399.90" cy="150.20" r="1.1" fill="#e3a13c"/>
<circle cx="401.45" cy="150.20" r="1.1" fill="#c8453a"/>
<circle cx="403.00" cy="150.20" r="1.1" fill="#e3a13c"/>
<circle cx="407.60" cy="150.20" r="1.1" fill="#6f8a3a"/>
<circle cx="411.70" cy="150.20" r="1.1" fill="#2ea7cf"/>
<circle cx="415.00" cy="150.20" r="1.1" fill="#e3a13c"/>
<circle cx="419.00" cy="150.20" r="1.1" fill="#2ea7cf"/>
<circle cx="425.60" cy="150.20" r="1.1" fill="#e3a13c"/>
<text x="428.80" y="152.20" font-size="6.0" fill="#333" stroke="#333" stroke-width="0.15" textLength="7.51" lengthAdjust="spacingAndGlyphs" font-family="Liberation Serif">5.2</text>
<text x="362.49" y="159.67" font-size="6.0" fill="#333" stroke="#333" stroke-width="0.15" textLength="7.51" lengthAdjust="spacingAndGlyphs" font-family="Liberation Serif">1.5</text>
<rect x="394.50" y="154.67" width="1.0" height="4.8" fill="#e3a13c"/>
<circle cx="378.20" cy="157.67" r="1.1" fill="#e3a13c"/>
<circle cx="379.75" cy="157.67" r="1.1" fill="#e3a13c"/>
<circle cx="381.30" cy="157.67" r="1.1" fill="#c8453a"/>
<circle cx="382.85" cy="157.67" r="1.1" fill="#6f8a3a"/>
<circle cx="384.40" cy="157.67" r="1.1" fill="#c8453a"/>
<circle cx="385.95" cy="157.67" r="1.1" fill="#e3a13c"/>
<circle cx="387.50" cy="157.67" r="1.1" fill="#6f8a3a"/>
<circle cx="389.05" cy="157.67" r="1.1" fill="#6f8a3a"/>
<circle cx="390.60" cy="157.67" r="1.1" fill="#c8453a"/>
<circle cx="392.15" cy="157.67" r="1.1" fill="#e3a13c"/>
<circle cx="393.70" cy="157.67" r="1.1" fill="#e3a13c"/>
<circle cx="395.25" cy="157.67" r="1.1" fill="#e3a13c"/>
<circle cx="396.80" cy="157.67" r="1.1" fill="#e3a13c"/>
<circle cx="398.35" cy="157.67" r="1.1" fill="#e3a13c"/>
<circle cx="399.90" cy="157.67" r="1.1" fill="#e3a13c"/>
<circle cx="401.45" cy="157.67" r="1.1" fill="#c8453a"/>
<circle cx="403.00" cy="157.67" r="1.1" fill="#2ea7cf"/>
<circle cx="404.55" cy="157.67" r="1.1" fill="#2ea7cf"/>
<circle cx="406.10" cy="157.67" r="1.1" fill="#2ea7cf"/>
<circle cx="407.65" cy="157.67" r="1.1" fill="#2ea7cf"/>
<circle cx="372.00" cy="157.67" r="1.1" fill="#2ea7cf"/>
<circle cx="374.90" cy="157.67" r="1.1" fill="#e3a13c"/>
<circle cx="417.40" cy="157.67" r="1.1" fill="#2ea7cf"/>
<circle cx="422.30" cy="157.67" r="1.1" fill="#e3a13c"/>
<circle cx="426.90" cy="157.67" r="1.1" fill="#6f8a3a"/>
<text x="432.00" y="159.67" font-size="6.0" fill="#333" stroke="#333" stroke-width="0.15" textLength="6.01" lengthAdjust="spacingAndGlyphs" font-family="Liberation Serif">12</text>
<text x="359.49" y="167.14" font-size="6.0" fill="#333" stroke="#333" stroke-width="0.15" textLength="10.51" lengthAdjust="spacingAndGlyphs" font-family="Liberation Serif">24.3</text>
<rect x="385.80" y="162.14" width="1.0" height="4.8" fill="#c8453a"/>
<rect x="408.50" y="162.14" width="1.0" height="4.8" fill="#e3a13c"/>
<rect x="412.50" y="162.14" width="1.0" height="4.8" fill="#e3a13c"/>
<rect x="415.50" y="162.14" width="1.0" height="4.8" fill="#e3a13c"/>
<rect x="418.00" y="162.14" width="1.0" height="4.8" fill="#e3a13c"/>
<rect x="420.50" y="162.14" width="1.0" height="4.8" fill="#e3a13c"/>
<circle cx="389.60" cy="165.14" r="1.1" fill="#e3a13c"/>
<circle cx="391.15" cy="165.14" r="1.1" fill="#6f8a3a"/>
<circle cx="392.70" cy="165.14" r="1.1" fill="#e3a13c"/>
<circle cx="394.25" cy="165.14" r="1.1" fill="#c8453a"/>
<circle cx="395.80" cy="165.14" r="1.1" fill="#c8453a"/>
<circle cx="397.35" cy="165.14" r="1.1" fill="#6f8a3a"/>
<circle cx="398.90" cy="165.14" r="1.1" fill="#e3a13c"/>
<circle cx="400.45" cy="165.14" r="1.1" fill="#e3a13c"/>
<circle cx="402.00" cy="165.14" r="1.1" fill="#e3a13c"/>
<circle cx="403.55" cy="165.14" r="1.1" fill="#e3a13c"/>
<circle cx="405.10" cy="165.14" r="1.1" fill="#c8453a"/>
<circle cx="406.65" cy="165.14" r="1.1" fill="#6f8a3a"/>
<circle cx="408.20" cy="165.14" r="1.1" fill="#6f8a3a"/>
<circle cx="409.75" cy="165.14" r="1.1" fill="#6f8a3a"/>
<circle cx="411.30" cy="165.14" r="1.1" fill="#e3a13c"/>
<circle cx="412.85" cy="165.14" r="1.1" fill="#e3a13c"/>
<circle cx="414.40" cy="165.14" r="1.1" fill="#2ea7cf"/>
<circle cx="415.95" cy="165.14" r="1.1" fill="#6f8a3a"/>
<circle cx="417.50" cy="165.14" r="1.1" fill="#c8453a"/>
<circle cx="419.05" cy="165.14" r="1.1" fill="#c8453a"/>
<circle cx="420.60" cy="165.14" r="1.1" fill="#e3a13c"/>
<circle cx="422.15" cy="165.14" r="1.1" fill="#e3a13c"/>
<circle cx="423.70" cy="165.14" r="1.1" fill="#6f8a3a"/>
<circle cx="425.25" cy="165.14" r="1.1" fill="#6f8a3a"/>
<circle cx="426.80" cy="165.14" r="1.1" fill="#6f8a3a"/>
<circle cx="428.35" cy="165.14" r="1.1" fill="#6f8a3a"/>
<circle cx="429.90" cy="165.14" r="1.1" fill="#e3a13c"/>
<circle cx="431.45" cy="165.14" r="1.1" fill="#e3a13c"/>
<circle cx="433.00" cy="165.14" r="1.1" fill="#e3a13c"/>
<circle cx="434.55" cy="165.14" r="1.1" fill="#c8453a"/>
<circle cx="372.00" cy="165.14" r="1.1" fill="#c8453a"/>
<circle cx="374.20" cy="165.14" r="1.1" fill="#e3a13c"/>
<text x="437.00" y="167.14" font-size="6.0" fill="#333" stroke="#333" stroke-width="0.15" textLength="13.51" lengthAdjust="spacingAndGlyphs" font-family="Liberation Serif">166.1</text>
<text x="359.49" y="174.61" font-size="6.0" fill="#333" stroke="#333" stroke-width="0.15" textLength="10.51" lengthAdjust="spacingAndGlyphs" font-family="Liberation Serif">13.2</text>
<rect x="385.50" y="169.61" width="1.0" height="4.8" fill="#e3a13c"/>
<rect x="406.00" y="169.61" width="1.0" height="4.8" fill="#c8453a"/>
<rect x="411.80" y="169.61" width="1.0" height="4.8" fill="#c8453a"/>
<circle cx="384.70" cy="172.61" r="1.1" fill="#2ea7cf"/>
<circle cx="386.25" cy="172.61" r="1.1" fill="#6f8a3a"/>
<circle cx="387.80" cy="172.61" r="1.1" fill="#2ea7cf"/>
<circle cx="389.35" cy="172.61" r="1.1" fill="#c8453a"/>
<circle cx="390.90" cy="172.61" r="1.1" fill="#2ea7cf"/>
<circle cx="392.45" cy="172.61" r="1.1" fill="#c8453a"/>
<circle cx="394.00" cy="172.61" r="1.1" fill="#c8453a"/>
<circle cx="395.55" cy="172.61" r="1.1" fill="#e3a13c"/>
<circle cx="397.10" cy="172.61" r="1.1" fill="#2ea7cf"/>
<circle cx="398.65" cy="172.61" r="1.1" fill="#e3a13c"/>
<circle cx="400.20" cy="172.61" r="1.1" fill="#6f8a3a"/>
<circle cx="401.75" cy="172.61" r="1.1" fill="#c8453a"/>
<circle cx="403.30" cy="172.61" r="1.1" fill="#e3a13c"/>
<circle cx="404.85" cy="172.61" r="1.1" fill="#e3a13c"/>
<circle cx="406.40" cy="172.61" r="1.1" fill="#e3a13c"/>
<circle cx="407.95" cy="172.61" r="1.1" fill="#c8453a"/>
<circle cx="409.50" cy="172.61" r="1.1" fill="#2ea7cf"/>
<circle cx="411.05" cy="172.61" r="1.1" fill="#e3a13c"/>
<circle cx="412.60" cy="172.61" r="1.1" fill="#e3a13c"/>
<circle cx="414.15" cy="172.61" r="1.1" fill="#c8453a"/>
<circle cx="415.70" cy="172.61" r="1.1" fill="#c8453a"/>
<circle cx="417.25" cy="172.61" r="1.1" fill="#2ea7cf"/>
<circle cx="418.80" cy="172.61" r="1.1" fill="#c8453a"/>
<circle cx="420.35" cy="172.61" r="1.1" fill="#2ea7cf"/>
<circle cx="372.00" cy="172.61" r="1.1" fill="#6f8a3a"/>
<circle cx="376.20" cy="172.61" r="1.1" fill="#e3a13c"/>
<circle cx="423.80" cy="172.61" r="1.1" fill="#2ea7cf"/>
<circle cx="426.30" cy="172.61" r="1.1" fill="#2ea7cf"/>
<text x="429.10" y="174.61" font-size="6.0" fill="#333" stroke="#333" stroke-width="0.15" textLength="10.51" lengthAdjust="spacingAndGlyphs" font-family="Liberation Serif">70.4</text>
<text x="364.39" y="182.07" font-size="6.0" fill="#333" stroke="#333" stroke-width="0.15" textLength="5.61" lengthAdjust="spacingAndGlyphs" font-family="Liberation Serif">11</text>
<rect x="412.30" y="177.07" width="1.0" height="4.8" fill="#e3a13c"/>
<circle cx="383.00" cy="180.07" r="1.1" fill="#e3a13c"/>
<circle cx="384.55" cy="180.07" r="1.1" fill="#c8453a"/>
<circle cx="386.10" cy="180.07" r="1.1" fill="#2ea7cf"/>
<circle cx="387.65" cy="180.07" r="1.1" fill="#6f8a3a"/>
<circle cx="389.20" cy="180.07" r="1.1" fill="#2ea7cf"/>
<circle cx="390.75" cy="180.07" r="1.1" fill="#2ea7cf"/>
<circle cx="392.30" cy="180.07" r="1.1" fill="#2ea7cf"/>
<circle cx="393.85" cy="180.07" r="1.1" fill="#c8453a"/>
<circle cx="395.40" cy="180.07" r="1.1" fill="#c8453a"/>
<circle cx="396.95" cy="180.07" r="1.1" fill="#6f8a3a"/>
<circle cx="398.50" cy="180.07" r="1.1" fill="#2ea7cf"/>
<circle cx="400.05" cy="180.07" r="1.1" fill="#e3a13c"/>
<circle cx="401.60" cy="180.07" r="1.1" fill="#e3a13c"/>
<circle cx="403.15" cy="180.07" r="1.1" fill="#c8453a"/>
<circle cx="404.70" cy="180.07" r="1.1" fill="#2ea7cf"/>
<circle cx="406.25" cy="180.07" r="1.1" fill="#c8453a"/>
<circle cx="407.80" cy="180.07" r="1.1" fill="#e3a13c"/>
<circle cx="409.35" cy="180.07" r="1.1" fill="#2ea7cf"/>
<circle cx="410.90" cy="180.07" r="1.1" fill="#6f8a3a"/>
<circle cx="412.45" cy="180.07" r="1.1" fill="#e3a13c"/>
<circle cx="414.00" cy="180.07" r="1.1" fill="#e3a13c"/>
<circle cx="415.55" cy="180.07" r="1.1" fill="#e3a13c"/>
<circle cx="417.10" cy="180.07" r="1.1" fill="#c8453a"/>
<circle cx="418.65" cy="180.07" r="1.1" fill="#2ea7cf"/>
<circle cx="420.20" cy="180.07" r="1.1" fill="#e3a13c"/>
<circle cx="421.75" cy="180.07" r="1.1" fill="#2ea7cf"/>
<circle cx="423.30" cy="180.07" r="1.1" fill="#2ea7cf"/>
<circle cx="424.85" cy="180.07" r="1.1" fill="#2ea7cf"/>
<circle cx="426.40" cy="180.07" r="1.1" fill="#c8453a"/>
<circle cx="427.95" cy="180.07" r="1.1" fill="#6f8a3a"/>
<circle cx="372.00" cy="180.07" r="1.1" fill="#e3a13c"/>
<circle cx="375.00" cy="180.07" r="1.1" fill="#6f8a3a"/>
<circle cx="378.00" cy="180.07" r="1.1" fill="#c8453a"/>
<circle cx="380.00" cy="180.07" r="1.1" fill="#e3a13c"/>
<circle cx="430.60" cy="180.07" r="1.1" fill="#2ea7cf"/>
<circle cx="432.50" cy="180.07" r="1.1" fill="#2ea7cf"/>
<circle cx="435.90" cy="180.07" r="1.1" fill="#2ea7cf"/>
<circle cx="448.70" cy="180.07" r="1.1" fill="#2ea7cf"/>
<text x="450.40" y="182.07" font-size="6.0" fill="#333" stroke="#333" stroke-width="0.15" textLength="13.11" lengthAdjust="spacingAndGlyphs" font-family="Liberation Serif">118.6</text>
<text x="362.49" y="189.54" font-size="6.0" fill="#333" stroke="#333" stroke-width="0.15" textLength="7.51" lengthAdjust="spacingAndGlyphs" font-family="Liberation Serif">6.2</text>
<rect x="417.50" y="184.54" width="1.0" height="4.8" fill="#e3a13c"/>
<circle cx="401.00" cy="187.54" r="1.1" fill="#e3a13c"/>
<circle cx="402.55" cy="187.54" r="1.1" fill="#6f8a3a"/>
<circle cx="404.10" cy="187.54" r="1.1" fill="#e3a13c"/>
<circle cx="405.65" cy="187.54" r="1.1" fill="#e3a13c"/>
<circle cx="407.20" cy="187.54" r="1.1" fill="#2ea7cf"/>
<circle cx="408.75" cy="187.54" r="1.1" fill="#e3a13c"/>
<circle cx="410.30" cy="187.54" r="1.1" fill="#6f8a3a"/>
<circle cx="411.85" cy="187.54" r="1.1" fill="#c8453a"/>
<circle cx="413.40" cy="187.54" r="1.1" fill="#e3a13c"/>
<circle cx="414.95" cy="187.54" r="1.1" fill="#e3a13c"/>
<circle cx="416.50" cy="187.54" r="1.1" fill="#e3a13c"/>
<circle cx="418.05" cy="187.54" r="1.1" fill="#2ea7cf"/>
<circle cx="419.60" cy="187.54" r="1.1" fill="#6f8a3a"/>
<circle cx="421.15" cy="187.54" r="1.1" fill="#e3a13c"/>
<circle cx="422.70" cy="187.54" r="1.1" fill="#e3a13c"/>
<circle cx="424.25" cy="187.54" r="1.1" fill="#e3a13c"/>
<circle cx="425.80" cy="187.54" r="1.1" fill="#6f8a3a"/>
<circle cx="427.35" cy="187.54" r="1.1" fill="#e3a13c"/>
<circle cx="428.90" cy="187.54" r="1.1" fill="#e3a13c"/>
<circle cx="430.45" cy="187.54" r="1.1" fill="#e3a13c"/>
<circle cx="432.00" cy="187.54" r="1.1" fill="#e3a13c"/>
<circle cx="433.55" cy="187.54" r="1.1" fill="#6f8a3a"/>
<circle cx="435.10" cy="187.54" r="1.1" fill="#6f8a3a"/>
<circle cx="436.65" cy="187.54" r="1.1" fill="#2ea7cf"/>
<circle cx="438.20" cy="187.54" r="1.1" fill="#6f8a3a"/>
<circle cx="439.75" cy="187.54" r="1.1" fill="#6f8a3a"/>
<circle cx="441.30" cy="187.54" r="1.1" fill="#e3a13c"/>
<circle cx="442.85" cy="187.54" r="1.1" fill="#e3a13c"/>
<circle cx="372.00" cy="187.54" r="1.1" fill="#e3a13c"/>
<circle cx="376.50" cy="187.54" r="1.1" fill="#2ea7cf"/>
<circle cx="382.20" cy="187.54" r="1.1" fill="#2ea7cf"/>
<circle cx="394.50" cy="187.54" r="1.1" fill="#c8453a"/>
<circle cx="396.50" cy="187.54" r="1.1" fill="#c8453a"/>
<circle cx="398.50" cy="187.54" r="1.1" fill="#c8453a"/>
<circle cx="446.40" cy="187.54" r="1.1" fill="#2ea7cf"/>
<circle cx="448.70" cy="187.54" r="1.1" fill="#e3a13c"/>
<circle cx="460.80" cy="187.54" r="1.1" fill="#e3a13c"/>
<text x="463.20" y="189.54" font-size="6.0" fill="#333" stroke="#333" stroke-width="0.15" textLength="10.51" lengthAdjust="spacingAndGlyphs" font-family="Liberation Serif">99.5</text>
<text x="362.49" y="197.01" font-size="6.0" fill="#333" stroke="#333" stroke-width="0.15" textLength="7.51" lengthAdjust="spacingAndGlyphs" font-family="Liberation Serif">2.2</text>
<rect x="375.50" y="192.01" width="1.0" height="4.8" fill="#e3a13c"/>
<rect x="380.50" y="192.01" width="1.0" height="4.8" fill="#c8453a"/>
<rect x="405.50" y="192.01" width="1.0" height="4.8" fill="#e3a13c"/>
<rect x="409.50" y="192.01" width="1.0" height="4.8" fill="#e3a13c"/>
<circle cx="372.00" cy="195.01" r="1.1" fill="#6f8a3a"/>
<circle cx="373.55" cy="195.01" r="1.1" fill="#2ea7cf"/>
<circle cx="375.10" cy="195.01" r="1.1" fill="#e3a13c"/>
<circle cx="376.65" cy="195.01" r="1.1" fill="#2ea7cf"/>
<circle cx="378.20" cy="195.01" r="1.1" fill="#e3a13c"/>
<circle cx="379.75" cy="195.01" r="1.1" fill="#e3a13c"/>
<circle cx="381.30" cy="195.01" r="1.1" fill="#e3a13c"/>
<circle cx="382.85" cy="195.01" r="1.1" fill="#e3a13c"/>
<circle cx="384.40" cy="195.01" r="1.1" fill="#e3a13c"/>
<circle cx="385.95" cy="195.01" r="1.1" fill="#e3a13c"/>
<circle cx="387.50" cy="195.01" r="1.1" fill="#e3a13c"/>
<circle cx="389.05" cy="195.01" r="1.1" fill="#6f8a3a"/>
<circle cx="390.60" cy="195.01" r="1.1" fill="#e3a13c"/>
<circle cx="392.15" cy="195.01" r="1.1" fill="#6f8a3a"/>
<circle cx="393.70" cy="195.01" r="1.1" fill="#e3a13c"/>
<circle cx="395.25" cy="195.01" r="1.1" fill="#e3a13c"/>
<circle cx="396.80" cy="195.01" r="1.1" fill="#6f8a3a"/>
<circle cx="398.35" cy="195.01" r="1.1" fill="#6f8a3a"/>
<circle cx="399.90" cy="195.01" r="1.1" fill="#c8453a"/>
<circle cx="401.45" cy="195.01" r="1.1" fill="#e3a13c"/>
<circle cx="403.00" cy="195.01" r="1.1" fill="#c8453a"/>
<circle cx="404.55" cy="195.01" r="1.1" fill="#e3a13c"/>
<circle cx="406.10" cy="195.01" r="1.1" fill="#6f8a3a"/>
<circle cx="407.65" cy="195.01" r="1.1" fill="#e3a13c"/>
<circle cx="409.20" cy="195.01" r="1.1" fill="#2ea7cf"/>
<circle cx="410.75" cy="195.01" r="1.1" fill="#2ea7cf"/>
<circle cx="412.30" cy="195.01" r="1.1" fill="#e3a13c"/>
<circle cx="413.85" cy="195.01" r="1.1" fill="#2ea7cf"/>
<text x="417.40" y="197.01" font-size="6.0" fill="#333" stroke="#333" stroke-width="0.15" textLength="10.51" lengthAdjust="spacingAndGlyphs" font-family="Liberation Serif">10.3</text>
<text x="362.49" y="204.47" font-size="6.0" fill="#333" stroke="#333" stroke-width="0.15" textLength="7.51" lengthAdjust="spacingAndGlyphs" font-family="Liberation Serif">0.2</text>
<rect x="381.50" y="199.47" width="1.0" height="4.8" fill="#e3a13c"/>
<rect x="385.50" y="199.47" width="1.0" height="4.8" fill="#e3a13c"/>
<rect x="403.80" y="199.47" width="1.0" height="4.8" fill="#c8453a"/>
<rect x="407.10" y="199.47" width="1.0" height="4.8" fill="#c8453a"/>
<rect x="414.50" y="199.47" width="1.0" height="4.8" fill="#c8453a"/>
<rect x="441.30" y="199.47" width="1.0" height="4.8" fill="#c8453a"/>
<circle cx="372.00" cy="202.47" r="1.1" fill="#2ea7cf"/>
<circle cx="373.55" cy="202.47" r="1.1" fill="#2ea7cf"/>
<circle cx="375.10" cy="202.47" r="1.1" fill="#e3a13c"/>
<circle cx="376.65" cy="202.47" r="1.1" fill="#e3a13c"/>
<circle cx="378.20" cy="202.47" r="1.1" fill="#e3a13c"/>
<circle cx="379.75" cy="202.47" r="1.1" fill="#6f8a3a"/>
<circle cx="381.30" cy="202.47" r="1.1" fill="#e3a13c"/>
<circle cx="382.85" cy="202.47" r="1.1" fill="#2ea7cf"/>
<circle cx="384.40" cy="202.47" r="1.1" fill="#6f8a3a"/>
<circle cx="385.95" cy="202.47" r="1.1" fill="#e3a13c"/>
<circle cx="387.50" cy="202.47" r="1.1" fill="#e3a13c"/>
<circle cx="389.05" cy="202.47" r="1.1" fill="#6f8a3a"/>
<circle cx="390.60" cy="202.47" r="1.1" fill="#c8453a"/>
<circle cx="392.15" cy="202.47" r="1.1" fill="#e3a13c"/>
<circle cx="393.70" cy="202.47" r="1.1" fill="#2ea7cf"/>
<circle cx="395.25" cy="202.47" r="1.1" fill="#e3a13c"/>
<circle cx="399.40" cy="202.47" r="1.1" fill="#c8453a"/>
<circle cx="409.50" cy="202.47" r="1.1" fill="#e3a13c"/>
<circle cx="411.50" cy="202.47" r="1.1" fill="#e3a13c"/>
<circle cx="413.50" cy="202.47" r="1.1" fill="#e3a13c"/>
<circle cx="426.40" cy="202.47" r="1.1" fill="#e3a13c"/>
<text x="445.60" y="204.47" font-size="6.0" fill="#333" stroke="#333" stroke-width="0.15" textLength="7.51" lengthAdjust="spacingAndGlyphs" font-family="Liberation Serif">8.5</text>
<text x="362.49" y="211.94" font-size="6.0" fill="#333" stroke="#333" stroke-width="0.15" textLength="7.51" lengthAdjust="spacingAndGlyphs" font-family="Liberation Serif">2.1</text>
<rect x="409.50" y="206.94" width="1.0" height="4.8" fill="#c8453a"/>
<rect x="412.80" y="206.94" width="1.0" height="4.8" fill="#e3a13c"/>
<circle cx="372.00" cy="209.94" r="1.1" fill="#e3a13c"/>
<circle cx="373.55" cy="209.94" r="1.1" fill="#e3a13c"/>
<circle cx="375.10" cy="209.94" r="1.1" fill="#2ea7cf"/>
<circle cx="376.65" cy="209.94" r="1.1" fill="#6f8a3a"/>
<circle cx="378.20" cy="209.94" r="1.1" fill="#c8453a"/>
<circle cx="379.75" cy="209.94" r="1.1" fill="#6f8a3a"/>
<circle cx="381.30" cy="209.94" r="1.1" fill="#e3a13c"/>
<circle cx="382.85" cy="209.94" r="1.1" fill="#e3a13c"/>
<circle cx="384.40" cy="209.94" r="1.1" fill="#c8453a"/>
<circle cx="385.95" cy="209.94" r="1.1" fill="#6f8a3a"/>
<circle cx="387.50" cy="209.94" r="1.1" fill="#6f8a3a"/>
<circle cx="389.05" cy="209.94" r="1.1" fill="#e3a13c"/>
<circle cx="390.60" cy="209.94" r="1.1" fill="#e3a13c"/>
<circle cx="392.15" cy="209.94" r="1.1" fill="#c8453a"/>
<circle cx="393.70" cy="209.94" r="1.1" fill="#c8453a"/>
<circle cx="395.25" cy="209.94" r="1.1" fill="#6f8a3a"/>
<circle cx="396.80" cy="209.94" r="1.1" fill="#e3a13c"/>
<circle cx="398.35" cy="209.94" r="1.1" fill="#6f8a3a"/>
<circle cx="399.90" cy="209.94" r="1.1" fill="#2ea7cf"/>
<circle cx="401.45" cy="209.94" r="1.1" fill="#6f8a3a"/>
<circle cx="403.00" cy="209.94" r="1.1" fill="#2ea7cf"/>
<circle cx="404.55" cy="209.94" r="1.1" fill="#c8453a"/>
<circle cx="406.10" cy="209.94" r="1.1" fill="#e3a13c"/>
<circle cx="407.65" cy="209.94" r="1.1" fill="#e3a13c"/>
<circle cx="424.00" cy="209.94" r="1.1" fill="#c8453a"/>
<circle cx="426.20" cy="209.94" r="1.1" fill="#c8453a"/>
<text x="428.80" y="211.94" font-size="6.0" fill="#333" stroke="#333" stroke-width="0.15" textLength="10.51" lengthAdjust="spacingAndGlyphs" font-family="Liberation Serif">14.1</text>
<text x="362.49" y="219.41" font-size="6.0" fill="#333" stroke="#333" stroke-width="0.15" textLength="7.51" lengthAdjust="spacingAndGlyphs" font-family="Liberation Serif">1.8</text>
<rect x="400.50" y="214.41" width="1.0" height="4.8" fill="#e3a13c"/>
<rect x="409.50" y="214.41" width="1.0" height="4.8" fill="#e3a13c"/>
<circle cx="391.00" cy="217.41" r="1.1" fill="#e3a13c"/>
<circle cx="392.55" cy="217.41" r="1.1" fill="#2ea7cf"/>
<circle cx="394.10" cy="217.41" r="1.1" fill="#e3a13c"/>
<circle cx="395.65" cy="217.41" r="1.1" fill="#e3a13c"/>
<circle cx="397.20" cy="217.41" r="1.1" fill="#2ea7cf"/>
<circle cx="398.75" cy="217.41" r="1.1" fill="#e3a13c"/>
<circle cx="400.30" cy="217.41" r="1.1" fill="#e3a13c"/>
<circle cx="401.85" cy="217.41" r="1.1" fill="#e3a13c"/>
<circle cx="403.40" cy="217.41" r="1.1" fill="#c8453a"/>
<circle cx="404.95" cy="217.41" r="1.1" fill="#e3a13c"/>
<circle cx="406.50" cy="217.41" r="1.1" fill="#6f8a3a"/>
<circle cx="408.05" cy="217.41" r="1.1" fill="#6f8a3a"/>
<circle cx="409.60" cy="217.41" r="1.1" fill="#6f8a3a"/>
<circle cx="411.15" cy="217.41" r="1.1" fill="#e3a13c"/>
<circle cx="412.70" cy="217.41" r="1.1" fill="#e3a13c"/>
<circle cx="414.25" cy="217.41" r="1.1" fill="#e3a13c"/>
<circle cx="415.80" cy="217.41" r="1.1" fill="#2ea7cf"/>
<circle cx="417.35" cy="217.41" r="1.1" fill="#2ea7cf"/>
<circle cx="418.90" cy="217.41" r="1.1" fill="#2ea7cf"/>
<circle cx="420.45" cy="217.41" r="1.1" fill="#c8453a"/>
<circle cx="372.00" cy="217.41" r="1.1" fill="#c8453a"/>
<circle cx="381.40" cy="217.41" r="1.1" fill="#c8453a"/>
<circle cx="384.00" cy="217.41" r="1.1" fill="#c8453a"/>
<circle cx="387.00" cy="217.41" r="1.1" fill="#e3a13c"/>
<circle cx="426.40" cy="217.41" r="1.1" fill="#2ea7cf"/>
<text x="428.80" y="219.41" font-size="6.0" fill="#333" stroke="#333" stroke-width="0.15" textLength="10.51" lengthAdjust="spacingAndGlyphs" font-family="Liberation Serif">12.8</text>
<text x="359.49" y="226.88" font-size="6.0" fill="#333" stroke="#333" stroke-width="0.15" textLength="10.51" lengthAdjust="spacingAndGlyphs" font-family="Liberation Serif">10.5</text>
<rect x="385.00" y="221.88" width="1.0" height="4.8" fill="#c8453a"/>
<rect x="388.30" y="221.88" width="1.0" height="4.8" fill="#c8453a"/>
<rect x="399.70" y="221.88" width="1.0" height="4.8" fill="#e3a13c"/>
<rect x="417.50" y="221.88" width="1.0" height="4.8" fill="#e3a13c"/>
<rect x="420.50" y="221.88" width="1.0" height="4.8" fill="#c8453a"/>
<rect x="423.50" y="221.88" width="1.0" height="4.8" fill="#c8453a"/>
<circle cx="400.00" cy="224.88" r="1.1" fill="#2ea7cf"/>
<circle cx="401.55" cy="224.88" r="1.1" fill="#6f8a3a"/>
<circle cx="403.10" cy="224.88" r="1.1" fill="#2ea7cf"/>
<circle cx="404.65" cy="224.88" r="1.1" fill="#e3a13c"/>
<circle cx="406.20" cy="224.88" r="1.1" fill="#6f8a3a"/>
<circle cx="407.75" cy="224.88" r="1.1" fill="#e3a13c"/>
<circle cx="409.30" cy="224.88" r="1.1" fill="#c8453a"/>
<circle cx="410.85" cy="224.88" r="1.1" fill="#e3a13c"/>
<circle cx="412.40" cy="224.88" r="1.1" fill="#2ea7cf"/>
<circle cx="413.95" cy="224.88" r="1.1" fill="#e3a13c"/>
<circle cx="415.50" cy="224.88" r="1.1" fill="#c8453a"/>
<circle cx="417.05" cy="224.88" r="1.1" fill="#c8453a"/>
<circle cx="418.60" cy="224.88" r="1.1" fill="#e3a13c"/>
<circle cx="420.15" cy="224.88" r="1.1" fill="#2ea7cf"/>
<circle cx="421.70" cy="224.88" r="1.1" fill="#2ea7cf"/>
<circle cx="423.25" cy="224.88" r="1.1" fill="#2ea7cf"/>
<circle cx="424.80" cy="224.88" r="1.1" fill="#2ea7cf"/>
<circle cx="426.35" cy="224.88" r="1.1" fill="#6f8a3a"/>
<circle cx="427.90" cy="224.88" r="1.1" fill="#c8453a"/>
<circle cx="429.45" cy="224.88" r="1.1" fill="#e3a13c"/>
<circle cx="431.00" cy="224.88" r="1.1" fill="#6f8a3a"/>
<circle cx="432.55" cy="224.88" r="1.1" fill="#c8453a"/>
<circle cx="434.10" cy="224.88" r="1.1" fill="#6f8a3a"/>
<circle cx="435.65" cy="224.88" r="1.1" fill="#e3a13c"/>
<circle cx="437.20" cy="224.88" r="1.1" fill="#c8453a"/>
<circle cx="438.75" cy="224.88" r="1.1" fill="#6f8a3a"/>
<circle cx="440.30" cy="224.88" r="1.1" fill="#6f8a3a"/>
<circle cx="441.85" cy="224.88" r="1.1" fill="#6f8a3a"/>
<circle cx="443.40" cy="224.88" r="1.1" fill="#e3a13c"/>
<circle cx="372.00" cy="224.88" r="1.1" fill="#2ea7cf"/>
<circle cx="375.00" cy="224.88" r="1.1" fill="#c8453a"/>
<circle cx="377.00" cy="224.88" r="1.1" fill="#c8453a"/>
<circle cx="379.50" cy="224.88" r="1.1" fill="#c8453a"/>
<circle cx="382.20" cy="224.88" r="1.1" fill="#e3a13c"/>
<circle cx="392.90" cy="224.88" r="1.1" fill="#2ea7cf"/>
<circle cx="448.70" cy="224.88" r="1.1" fill="#e3a13c"/>
<text x="451.60" y="226.88" font-size="6.0" fill="#333" stroke="#333" stroke-width="0.15" textLength="12.71" lengthAdjust="spacingAndGlyphs" font-family="Liberation Serif">111.5</text>
<text x="362.49" y="234.34" font-size="6.0" fill="#333" stroke="#333" stroke-width="0.15" textLength="7.51" lengthAdjust="spacingAndGlyphs" font-family="Liberation Serif">7.1</text>
<rect x="423.50" y="229.34" width="1.0" height="4.8" fill="#e3a13c"/>
<rect x="426.50" y="229.34" width="1.0" height="4.8" fill="#e3a13c"/>
<rect x="429.50" y="229.34" width="1.0" height="4.8" fill="#e3a13c"/>
<circle cx="396.00" cy="232.34" r="1.1" fill="#6f8a3a"/>
<circle cx="397.55" cy="232.34" r="1.1" fill="#c8453a"/>
<circle cx="399.10" cy="232.34" r="1.1" fill="#6f8a3a"/>
<circle cx="400.65" cy="232.34" r="1.1" fill="#e3a13c"/>
<circle cx="402.20" cy="232.34" r="1.1" fill="#6f8a3a"/>
<circle cx="403.75" cy="232.34" r="1.1" fill="#c8453a"/>
<circle cx="405.30" cy="232.34" r="1.1" fill="#e3a13c"/>
<circle cx="406.85" cy="232.34" r="1.1" fill="#2ea7cf"/>
<circle cx="408.40" cy="232.34" r="1.1" fill="#6f8a3a"/>
<circle cx="409.95" cy="232.34" r="1.1" fill="#e3a13c"/>
<circle cx="411.50" cy="232.34" r="1.1" fill="#c8453a"/>
<circle cx="413.05" cy="232.34" r="1.1" fill="#c8453a"/>
<circle cx="414.60" cy="232.34" r="1.1" fill="#e3a13c"/>
<circle cx="416.15" cy="232.34" r="1.1" fill="#e3a13c"/>
<circle cx="417.70" cy="232.34" r="1.1" fill="#e3a13c"/>
<circle cx="419.25" cy="232.34" r="1.1" fill="#e3a13c"/>
<circle cx="420.80" cy="232.34" r="1.1" fill="#e3a13c"/>
<circle cx="422.35" cy="232.34" r="1.1" fill="#c8453a"/>
<circle cx="423.90" cy="232.34" r="1.1" fill="#c8453a"/>
<circle cx="425.45" cy="232.34" r="1.1" fill="#c8453a"/>
<circle cx="427.00" cy="232.34" r="1.1" fill="#e3a13c"/>
<circle cx="428.55" cy="232.34" r="1.1" fill="#2ea7cf"/>
<circle cx="430.10" cy="232.34" r="1.1" fill="#2ea7cf"/>
<circle cx="431.65" cy="232.34" r="1.1" fill="#e3a13c"/>
<circle cx="433.20" cy="232.34" r="1.1" fill="#c8453a"/>
<circle cx="434.75" cy="232.34" r="1.1" fill="#c8453a"/>
<circle cx="436.30" cy="232.34" r="1.1" fill="#2ea7cf"/>
<circle cx="437.85" cy="232.34" r="1.1" fill="#c8453a"/>
<circle cx="439.40" cy="232.34" r="1.1" fill="#e3a13c"/>
<circle cx="440.95" cy="232.34" r="1.1" fill="#e3a13c"/>
<circle cx="372.00" cy="232.34" r="1.1" fill="#c8453a"/>
<circle cx="386.30" cy="232.34" r="1.1" fill="#c8453a"/>
<circle cx="388.30" cy="232.34" r="1.1" fill="#c8453a"/>
<circle cx="450.00" cy="232.34" r="1.1" fill="#e3a13c"/>
<text x="453.40" y="234.34" font-size="6.0" fill="#333" stroke="#333" stroke-width="0.15" textLength="10.51" lengthAdjust="spacingAndGlyphs" font-family="Liberation Serif">80.5</text>
<text x="362.49" y="241.81" font-size="6.0" fill="#333" stroke="#333" stroke-width="0.15" textLength="7.51" lengthAdjust="spacingAndGlyphs" font-family="Liberation Serif">0.3</text>
<rect x="386.50" y="236.81" width="1.0" height="4.8" fill="#e3a13c"/>
<rect x="389.00" y="236.81" width="1.0" height="4.8" fill="#6f8a3a"/>
<circle cx="372.00" cy="239.81" r="1.1" fill="#2ea7cf"/>
<circle cx="373.55" cy="239.81" r="1.1" fill="#2ea7cf"/>
<circle cx="375.10" cy="239.81" r="1.1" fill="#2ea7cf"/>
<circle cx="376.65" cy="239.81" r="1.1" fill="#e3a13c"/>
<circle cx="378.20" cy="239.81" r="1.1" fill="#e3a13c"/>
<circle cx="379.75" cy="239.81" r="1.1" fill="#2ea7cf"/>
<circle cx="381.30" cy="239.81" r="1.1" fill="#2ea7cf"/>
<circle cx="382.85" cy="239.81" r="1.1" fill="#c8453a"/>
<circle cx="384.40" cy="239.81" r="1.1" fill="#c8453a"/>
<circle cx="385.95" cy="239.81" r="1.1" fill="#6f8a3a"/>
<circle cx="387.50" cy="239.81" r="1.1" fill="#e3a13c"/>
<circle cx="389.05" cy="239.81" r="1.1" fill="#c8453a"/>
<circle cx="390.60" cy="239.81" r="1.1" fill="#e3a13c"/>
<circle cx="392.15" cy="239.81" r="1.1" fill="#e3a13c"/>
<circle cx="393.70" cy="239.81" r="1.1" fill="#6f8a3a"/>
<circle cx="395.25" cy="239.81" r="1.1" fill="#6f8a3a"/>
<circle cx="396.80" cy="239.81" r="1.1" fill="#e3a13c"/>
<circle cx="398.35" cy="239.81" r="1.1" fill="#e3a13c"/>
<circle cx="399.90" cy="239.81" r="1.1" fill="#2ea7cf"/>
<circle cx="401.45" cy="239.81" r="1.1" fill="#e3a13c"/>
<circle cx="403.00" cy="239.81" r="1.1" fill="#e3a13c"/>
<circle cx="404.55" cy="239.81" r="1.1" fill="#6f8a3a"/>
<circle cx="406.10" cy="239.81" r="1.1" fill="#c8453a"/>
<circle cx="407.65" cy="239.81" r="1.1" fill="#6f8a3a"/>
<circle cx="409.20" cy="239.81" r="1.1" fill="#e3a13c"/>
<circle cx="410.75" cy="239.81" r="1.1" fill="#6f8a3a"/>
<circle cx="412.30" cy="239.81" r="1.1" fill="#c8453a"/>
<circle cx="421.50" cy="239.81" r="1.1" fill="#2ea7cf"/>
<circle cx="426.40" cy="239.81" r="1.1" fill="#c8453a"/>
<circle cx="432.60" cy="239.81" r="1.1" fill="#e3a13c"/>
<circle cx="434.80" cy="239.81" r="1.1" fill="#6f8a3a"/>
<text x="440.70" y="241.81" font-size="6.0" fill="#333" stroke="#333" stroke-width="0.15" textLength="7.51" lengthAdjust="spacingAndGlyphs" font-family="Liberation Serif">7.7</text>
<text x="362.49" y="249.28" font-size="6.0" fill="#333" stroke="#333" stroke-width="0.15" textLength="7.51" lengthAdjust="spacingAndGlyphs" font-family="Liberation Serif">1.5</text>
<rect x="389.50" y="244.28" width="1.0" height="4.8" fill="#2ea7cf"/>
<rect x="393.50" y="244.28" width="1.0" height="4.8" fill="#e3a13c"/>
<rect x="397.50" y="244.28" width="1.0" height="4.8" fill="#e3a13c"/>
<rect x="403.50" y="244.28" width="1.0" height="4.8" fill="#e3a13c"/>
<circle cx="376.50" cy="247.28" r="1.1" fill="#e3a13c"/>
<circle cx="378.05" cy="247.28" r="1.1" fill="#e3a13c"/>
<circle cx="379.60" cy="247.28" r="1.1" fill="#c8453a"/>
<circle cx="381.15" cy="247.28" r="1.1" fill="#c8453a"/>
<circle cx="382.70" cy="247.28" r="1.1" fill="#6f8a3a"/>
<circle cx="384.25" cy="247.28" r="1.1" fill="#e3a13c"/>
<circle cx="385.80" cy="247.28" r="1.1" fill="#c8453a"/>
<circle cx="387.35" cy="247.28" r="1.1" fill="#e3a13c"/>
<circle cx="388.90" cy="247.28" r="1.1" fill="#c8453a"/>
<circle cx="390.45" cy="247.28" r="1.1" fill="#e3a13c"/>
<circle cx="392.00" cy="247.28" r="1.1" fill="#e3a13c"/>
<circle cx="393.55" cy="247.28" r="1.1" fill="#c8453a"/>
<circle cx="395.10" cy="247.28" r="1.1" fill="#6f8a3a"/>
<circle cx="396.65" cy="247.28" r="1.1" fill="#e3a13c"/>
<circle cx="398.20" cy="247.28" r="1.1" fill="#c8453a"/>
<circle cx="399.75" cy="247.28" r="1.1" fill="#6f8a3a"/>
<circle cx="401.30" cy="247.28" r="1.1" fill="#6f8a3a"/>
<circle cx="402.85" cy="247.28" r="1.1" fill="#e3a13c"/>
<circle cx="404.40" cy="247.28" r="1.1" fill="#e3a13c"/>
<circle cx="405.95" cy="247.28" r="1.1" fill="#6f8a3a"/>
<circle cx="407.50" cy="247.28" r="1.1" fill="#6f8a3a"/>
<circle cx="409.05" cy="247.28" r="1.1" fill="#2ea7cf"/>
<circle cx="410.60" cy="247.28" r="1.1" fill="#e3a13c"/>
<circle cx="412.15" cy="247.28" r="1.1" fill="#6f8a3a"/>
<circle cx="413.70" cy="247.28" r="1.1" fill="#2ea7cf"/>
<circle cx="372.00" cy="247.28" r="1.1" fill="#e3a13c"/>
<circle cx="420.60" cy="247.28" r="1.1" fill="#2ea7cf"/>
<circle cx="424.00" cy="247.28" r="1.1" fill="#2ea7cf"/>
<circle cx="427.20" cy="247.28" r="1.1" fill="#2ea7cf"/>
<text x="433.10" y="249.28" font-size="6.0" fill="#333" stroke="#333" stroke-width="0.15" textLength="10.51" lengthAdjust="spacingAndGlyphs" font-family="Liberation Serif">12.4</text>
<text x="362.49" y="256.74" font-size="6.0" fill="#333" stroke="#333" stroke-width="0.15" textLength="7.51" lengthAdjust="spacingAndGlyphs" font-family="Liberation Serif">0.4</text>
<rect x="389.50" y="251.74" width="1.0" height="4.8" fill="#6f8a3a"/>
<rect x="393.50" y="251.74" width="1.0" height="4.8" fill="#e3a13c"/>
<rect x="411.70" y="251.74" width="1.0" height="4.8" fill="#c8453a"/>
<circle cx="372.00" cy="254.74" r="1.1" fill="#6f8a3a"/>
<circle cx="373.55" cy="254.74" r="1.1" fill="#2ea7cf"/>
<circle cx="375.10" cy="254.74" r="1.1" fill="#2ea7cf"/>
<circle cx="376.65" cy="254.74" r="1.1" fill="#e3a13c"/>
<circle cx="378.20" cy="254.74" r="1.1" fill="#2ea7cf"/>
<circle cx="379.75" cy="254.74" r="1.1" fill="#c8453a"/>
<circle cx="381.30" cy="254.74" r="1.1" fill="#2ea7cf"/>
<circle cx="382.85" cy="254.74" r="1.1" fill="#2ea7cf"/>
<circle cx="384.40" cy="254.74" r="1.1" fill="#2ea7cf"/>
<circle cx="385.95" cy="254.74" r="1.1" fill="#e3a13c"/>
<circle cx="387.50" cy="254.74" r="1.1" fill="#e3a13c"/>
<circle cx="389.05" cy="254.74" r="1.1" fill="#e3a13c"/>
<circle cx="390.60" cy="254.74" r="1.1" fill="#c8453a"/>
<circle cx="392.15" cy="254.74" r="1.1" fill="#e3a13c"/>
<circle cx="393.70" cy="254.74" r="1.1" fill="#e3a13c"/>
<circle cx="395.25" cy="254.74" r="1.1" fill="#e3a13c"/>
<circle cx="396.80" cy="254.74" r="1.1" fill="#2ea7cf"/>
<circle cx="401.00" cy="254.74" r="1.1" fill="#6f8a3a"/>
<circle cx="404.00" cy="254.74" r="1.1" fill="#e3a13c"/>
<circle cx="406.00" cy="254.74" r="1.1" fill="#e3a13c"/>
<circle cx="407.60" cy="254.74" r="1.1" fill="#6f8a3a"/>
<circle cx="414.00" cy="254.74" r="1.1" fill="#e3a13c"/>
<circle cx="416.00" cy="254.74" r="1.1" fill="#e3a13c"/>
<circle cx="417.40" cy="254.74" r="1.1" fill="#e3a13c"/>
<text x="424.00" y="256.74" font-size="6.0" fill="#333" stroke="#333" stroke-width="0.15" textLength="7.51" lengthAdjust="spacingAndGlyphs" font-family="Liberation Serif">4.3</text>
<text x="362.49" y="264.21" font-size="6.0" fill="#333" stroke="#333" stroke-width="0.15" textLength="7.51" lengthAdjust="spacingAndGlyphs" font-family="Liberation Serif">0.4</text>
<rect x="391.50" y="259.21" width="1.0" height="4.8" fill="#6f8a3a"/>
<rect x="407.50" y="259.21" width="1.0" height="4.8" fill="#e3a13c"/>
<rect x="412.50" y="259.21" width="1.0" height="4.8" fill="#e3a13c"/>
<rect x="415.50" y="259.21" width="1.0" height="4.8" fill="#e3a13c"/>
<circle cx="376.50" cy="262.21" r="1.1" fill="#6f8a3a"/>
<circle cx="378.05" cy="262.21" r="1.1" fill="#e3a13c"/>
<circle cx="379.60" cy="262.21" r="1.1" fill="#2ea7cf"/>
<circle cx="381.15" cy="262.21" r="1.1" fill="#2ea7cf"/>
<circle cx="382.70" cy="262.21" r="1.1" fill="#e3a13c"/>
<circle cx="384.25" cy="262.21" r="1.1" fill="#2ea7cf"/>
<circle cx="385.80" cy="262.21" r="1.1" fill="#e3a13c"/>
<circle cx="387.35" cy="262.21" r="1.1" fill="#2ea7cf"/>
<circle cx="388.90" cy="262.21" r="1.1" fill="#2ea7cf"/>
<circle cx="390.45" cy="262.21" r="1.1" fill="#2ea7cf"/>
<circle cx="392.00" cy="262.21" r="1.1" fill="#c8453a"/>
<circle cx="393.55" cy="262.21" r="1.1" fill="#2ea7cf"/>
<circle cx="395.10" cy="262.21" r="1.1" fill="#2ea7cf"/>
<circle cx="396.65" cy="262.21" r="1.1" fill="#2ea7cf"/>
<circle cx="398.20" cy="262.21" r="1.1" fill="#c8453a"/>
<circle cx="399.75" cy="262.21" r="1.1" fill="#c8453a"/>
<circle cx="401.30" cy="262.21" r="1.1" fill="#c8453a"/>
<circle cx="402.85" cy="262.21" r="1.1" fill="#e3a13c"/>
<circle cx="404.40" cy="262.21" r="1.1" fill="#c8453a"/>
<circle cx="405.95" cy="262.21" r="1.1" fill="#c8453a"/>
<circle cx="407.50" cy="262.21" r="1.1" fill="#e3a13c"/>
<circle cx="409.05" cy="262.21" r="1.1" fill="#2ea7cf"/>
<circle cx="410.60" cy="262.21" r="1.1" fill="#2ea7cf"/>
<circle cx="412.15" cy="262.21" r="1.1" fill="#c8453a"/>
<circle cx="413.70" cy="262.21" r="1.1" fill="#e3a13c"/>
<circle cx="415.25" cy="262.21" r="1.1" fill="#c8453a"/>
<circle cx="416.80" cy="262.21" r="1.1" fill="#e3a13c"/>
<circle cx="418.35" cy="262.21" r="1.1" fill="#e3a13c"/>
<circle cx="419.90" cy="262.21" r="1.1" fill="#c8453a"/>
<circle cx="421.45" cy="262.21" r="1.1" fill="#e3a13c"/>
<circle cx="423.00" cy="262.21" r="1.1" fill="#c8453a"/>
<circle cx="372.00" cy="262.21" r="1.1" fill="#c8453a"/>
<circle cx="427.20" cy="262.21" r="1.1" fill="#e3a13c"/>
<text x="433.00" y="264.21" font-size="6.0" fill="#333" stroke="#333" stroke-width="0.15" textLength="7.51" lengthAdjust="spacingAndGlyphs" font-family="Liberation Serif">6.3</text>
<text x="362.49" y="271.68" font-size="6.0" fill="#333" stroke="#333" stroke-width="0.15" textLength="7.51" lengthAdjust="spacingAndGlyphs" font-family="Liberation Serif">0.6</text>
<rect x="411.50" y="266.68" width="1.0" height="4.8" fill="#e3a13c"/>
<rect x="414.50" y="266.68" width="1.0" height="4.8" fill="#2ea7cf"/>
<rect x="417.50" y="266.68" width="1.0" height="4.8" fill="#e3a13c"/>
<circle cx="385.50" cy="269.68" r="1.1" fill="#c8453a"/>
<circle cx="387.05" cy="269.68" r="1.1" fill="#e3a13c"/>
<circle cx="388.60" cy="269.68" r="1.1" fill="#c8453a"/>
<circle cx="390.15" cy="269.68" r="1.1" fill="#e3a13c"/>
<circle cx="391.70" cy="269.68" r="1.1" fill="#2ea7cf"/>
<circle cx="393.25" cy="269.68" r="1.1" fill="#2ea7cf"/>
<circle cx="394.80" cy="269.68" r="1.1" fill="#c8453a"/>
<circle cx="396.35" cy="269.68" r="1.1" fill="#e3a13c"/>
<circle cx="397.90" cy="269.68" r="1.1" fill="#c8453a"/>
<circle cx="399.45" cy="269.68" r="1.1" fill="#e3a13c"/>
<circle cx="401.00" cy="269.68" r="1.1" fill="#6f8a3a"/>
<circle cx="402.55" cy="269.68" r="1.1" fill="#e3a13c"/>
<circle cx="404.10" cy="269.68" r="1.1" fill="#6f8a3a"/>
<circle cx="405.65" cy="269.68" r="1.1" fill="#6f8a3a"/>
<circle cx="407.20" cy="269.68" r="1.1" fill="#2ea7cf"/>
<circle cx="408.75" cy="269.68" r="1.1" fill="#6f8a3a"/>
<circle cx="410.30" cy="269.68" r="1.1" fill="#e3a13c"/>
<circle cx="411.85" cy="269.68" r="1.1" fill="#6f8a3a"/>
<circle cx="413.40" cy="269.68" r="1.1" fill="#c8453a"/>
<circle cx="414.95" cy="269.68" r="1.1" fill="#6f8a3a"/>
<circle cx="416.50" cy="269.68" r="1.1" fill="#6f8a3a"/>
<circle cx="418.05" cy="269.68" r="1.1" fill="#e3a13c"/>
<circle cx="419.60" cy="269.68" r="1.1" fill="#2ea7cf"/>
<circle cx="421.15" cy="269.68" r="1.1" fill="#6f8a3a"/>
<circle cx="422.70" cy="269.68" r="1.1" fill="#e3a13c"/>
<circle cx="424.25" cy="269.68" r="1.1" fill="#e3a13c"/>
<circle cx="425.80" cy="269.68" r="1.1" fill="#2ea7cf"/>
<circle cx="427.35" cy="269.68" r="1.1" fill="#e3a13c"/>
<circle cx="372.00" cy="269.68" r="1.1" fill="#2ea7cf"/>
<circle cx="382.20" cy="269.68" r="1.1" fill="#e3a13c"/>
<circle cx="433.80" cy="269.68" r="1.1" fill="#2ea7cf"/>
<text x="439.50" y="271.68" font-size="6.0" fill="#333" stroke="#333" stroke-width="0.15" textLength="7.51" lengthAdjust="spacingAndGlyphs" font-family="Liberation Serif">8.8</text>
<text x="359.49" y="279.14" font-size="6.0" fill="#333" stroke="#333" stroke-width="0.15" textLength="10.51" lengthAdjust="spacingAndGlyphs" font-family="Liberation Serif">20.1</text>
<rect x="434.50" y="274.14" width="1.0" height="4.8" fill="#e3a13c"/>
<circle cx="401.00" cy="277.14" r="1.1" fill="#6f8a3a"/>
<circle cx="402.55" cy="277.14" r="1.1" fill="#e3a13c"/>
<circle cx="404.10" cy="277.14" r="1.1" fill="#6f8a3a"/>
<circle cx="405.65" cy="277.14" r="1.1" fill="#e3a13c"/>
<circle cx="407.20" cy="277.14" r="1.1" fill="#c8453a"/>
<circle cx="408.75" cy="277.14" r="1.1" fill="#6f8a3a"/>
<circle cx="410.30" cy="277.14" r="1.1" fill="#e3a13c"/>
<circle cx="411.85" cy="277.14" r="1.1" fill="#e3a13c"/>
<circle cx="413.40" cy="277.14" r="1.1" fill="#c8453a"/>
<circle cx="414.95" cy="277.14" r="1.1" fill="#e3a13c"/>
<circle cx="416.50" cy="277.14" r="1.1" fill="#e3a13c"/>
<circle cx="418.05" cy="277.14" r="1.1" fill="#e3a13c"/>
<circle cx="419.60" cy="277.14" r="1.1" fill="#e3a13c"/>
<circle cx="421.15" cy="277.14" r="1.1" fill="#6f8a3a"/>
<circle cx="422.70" cy="277.14" r="1.1" fill="#2ea7cf"/>
<circle cx="424.25" cy="277.14" r="1.1" fill="#6f8a3a"/>
<circle cx="425.80" cy="277.14" r="1.1" fill="#e3a13c"/>
<circle cx="427.35" cy="277.14" r="1.1" fill="#2ea7cf"/>
<circle cx="428.90" cy="277.14" r="1.1" fill="#e3a13c"/>
<circle cx="430.45" cy="277.14" r="1.1" fill="#c8453a"/>
<circle cx="432.00" cy="277.14" r="1.1" fill="#c8453a"/>
<circle cx="433.55" cy="277.14" r="1.1" fill="#e3a13c"/>
<circle cx="435.10" cy="277.14" r="1.1" fill="#6f8a3a"/>
<circle cx="436.65" cy="277.14" r="1.1" fill="#2ea7cf"/>
<circle cx="438.20" cy="277.14" r="1.1" fill="#2ea7cf"/>
<circle cx="439.75" cy="277.14" r="1.1" fill="#2ea7cf"/>
<circle cx="441.30" cy="277.14" r="1.1" fill="#e3a13c"/>
<circle cx="442.85" cy="277.14" r="1.1" fill="#6f8a3a"/>
<circle cx="444.40" cy="277.14" r="1.1" fill="#2ea7cf"/>
<circle cx="445.95" cy="277.14" r="1.1" fill="#2ea7cf"/>
<circle cx="447.50" cy="277.14" r="1.1" fill="#2ea7cf"/>
<circle cx="449.05" cy="277.14" r="1.1" fill="#c8453a"/>
<circle cx="450.60" cy="277.14" r="1.1" fill="#6f8a3a"/>
<circle cx="452.15" cy="277.14" r="1.1" fill="#2ea7cf"/>
<circle cx="453.70" cy="277.14" r="1.1" fill="#2ea7cf"/>
<circle cx="455.25" cy="277.14" r="1.1" fill="#2ea7cf"/>
<circle cx="456.80" cy="277.14" r="1.1" fill="#2ea7cf"/>
<circle cx="458.35" cy="277.14" r="1.1" fill="#e3a13c"/>
<circle cx="372.00" cy="277.14" r="1.1" fill="#e3a13c"/>
<circle cx="374.80" cy="277.14" r="1.1" fill="#c8453a"/>
<circle cx="376.80" cy="277.14" r="1.1" fill="#c8453a"/>
<circle cx="382.20" cy="277.14" r="1.1" fill="#c8453a"/>
<circle cx="385.50" cy="277.14" r="1.1" fill="#c8453a"/>
<circle cx="396.10" cy="277.14" r="1.1" fill="#c8453a"/>
<circle cx="462.00" cy="277.14" r="1.1" fill="#e3a13c"/>
<circle cx="464.30" cy="277.14" r="1.1" fill="#e3a13c"/>
<text x="470.20" y="279.14" font-size="6.0" fill="#333" stroke="#333" stroke-width="0.15" textLength="9.01" lengthAdjust="spacingAndGlyphs" font-family="Liberation Serif">329</text>
<text x="367.00" y="286.61" font-size="6.0" fill="#333" stroke="#333" stroke-width="0.15" textLength="3.00" lengthAdjust="spacingAndGlyphs" font-family="Liberation Serif">0</text>
<rect x="380.50" y="281.61" width="1.0" height="4.8" fill="#e3a13c"/>
<rect x="389.50" y="281.61" width="1.0" height="4.8" fill="#e3a13c"/>
<circle cx="372.00" cy="284.61" r="1.1" fill="#2ea7cf"/>
<circle cx="373.55" cy="284.61" r="1.1" fill="#e3a13c"/>
<circle cx="375.10" cy="284.61" r="1.1" fill="#6f8a3a"/>
<circle cx="376.65" cy="284.61" r="1.1" fill="#e3a13c"/>
<circle cx="378.20" cy="284.61" r="1.1" fill="#c8453a"/>
<circle cx="379.75" cy="284.61" r="1.1" fill="#6f8a3a"/>
<circle cx="381.30" cy="284.61" r="1.1" fill="#c8453a"/>
<circle cx="382.85" cy="284.61" r="1.1" fill="#2ea7cf"/>
<circle cx="384.40" cy="284.61" r="1.1" fill="#e3a13c"/>
<circle cx="385.95" cy="284.61" r="1.1" fill="#e3a13c"/>
<circle cx="387.50" cy="284.61" r="1.1" fill="#e3a13c"/>
<circle cx="389.05" cy="284.61" r="1.1" fill="#e3a13c"/>
<circle cx="390.60" cy="284.61" r="1.1" fill="#c8453a"/>
<circle cx="392.15" cy="284.61" r="1.1" fill="#c8453a"/>
<circle cx="393.70" cy="284.61" r="1.1" fill="#c8453a"/>
<circle cx="395.25" cy="284.61" r="1.1" fill="#6f8a3a"/>
<circle cx="396.80" cy="284.61" r="1.1" fill="#e3a13c"/>
<circle cx="398.35" cy="284.61" r="1.1" fill="#c8453a"/>
<circle cx="399.90" cy="284.61" r="1.1" fill="#2ea7cf"/>
<circle cx="401.45" cy="284.61" r="1.1" fill="#e3a13c"/>
<circle cx="405.10" cy="284.61" r="1.1" fill="#e3a13c"/>
<text x="406.80" y="286.61" font-size="6.0" fill="#333" stroke="#333" stroke-width="0.15" textLength="7.51" lengthAdjust="spacingAndGlyphs" font-family="Liberation Serif">1.7</text>
<text x="48.10" y="334.80" font-size="7.9" fill="#2b2b2b" stroke="#2b2b2b" stroke-width="0.2" textLength="30.90" lengthAdjust="spacingAndGlyphs" >Diagnosis</text>
<rect x="48.45" y="340.05" width="7.60" height="7.10" fill="#7f8b45" stroke="#6b763a" stroke-width="0.7"/>
<rect x="77.25" y="340.05" width="7.60" height="7.10" fill="#22a2c8" stroke="#1c89aa" stroke-width="0.7"/>
<rect x="48.45" y="349.85" width="7.60" height="7.10" fill="#d9a142" stroke="#b88838" stroke-width="0.7"/>
<rect x="77.25" y="349.85" width="7.60" height="7.10" fill="#bd4a3c" stroke="#a03e33" stroke-width="0.7"/>
<text x="58.60" y="346.10" font-size="8.0" fill="#2b2b2b" stroke="#2b2b2b" stroke-width="0.2" textLength="7.40" lengthAdjust="spacingAndGlyphs" >ET</text>
<text x="87.00" y="346.10" font-size="8.0" fill="#2b2b2b" stroke="#2b2b2b" stroke-width="0.2" textLength="8.20" lengthAdjust="spacingAndGlyphs" >PV</text>
<text x="58.60" y="355.90" font-size="8.0" fill="#2b2b2b" stroke="#2b2b2b" stroke-width="0.2" textLength="14.00" lengthAdjust="spacingAndGlyphs" >PMF</text>
<text x="87.00" y="355.90" font-size="8.0" fill="#2b2b2b" stroke="#2b2b2b" stroke-width="0.2" textLength="17.40" lengthAdjust="spacingAndGlyphs" >sAML</text>
<text x="153.40" y="335.00" font-size="7.6" fill="#2b2b2b" stroke="#2b2b2b" stroke-width="0.2" textLength="93.20" lengthAdjust="spacingAndGlyphs" >Variant allele frequency (VAF)</text>
<text x="153.40" y="347.00" font-size="7.6" fill="#2b2b2b" stroke="#2b2b2b" stroke-width="0.2" textLength="45.40" lengthAdjust="spacingAndGlyphs" >Mutation type</text>
<rect x="153.65" y="352.25" width="7.80" height="7.20" fill="#27a3c9" stroke="#218aaa" stroke-width="0.7"/>
<rect x="153.65" y="362.55" width="7.80" height="7.20" fill="#c64a50" stroke="#a83e44" stroke-width="0.7"/>
<rect x="236.25" y="352.25" width="7.40" height="7.20" fill="#b6bb48" stroke="#9a9e3d" stroke-width="0.7"/>
<rect x="236.25" y="362.55" width="7.40" height="7.20" fill="#dc9b3c" stroke="#bb8333" stroke-width="0.7"/>
<text x="164.90" y="358.30" font-size="7.2" fill="#2b2b2b" stroke="#2b2b2b" stroke-width="0.2" textLength="61.60" lengthAdjust="spacingAndGlyphs" >Frameshift deletion</text>
<text x="164.90" y="368.60" font-size="7.2" fill="#2b2b2b" stroke="#2b2b2b" stroke-width="0.2" textLength="63.30" lengthAdjust="spacingAndGlyphs" >Frameshift insertion</text>
<text x="246.90" y="358.30" font-size="7.2" fill="#2b2b2b" stroke="#2b2b2b" stroke-width="0.2" textLength="70.90" lengthAdjust="spacingAndGlyphs" >Non synonymous SNV</text>
<text x="246.90" y="368.60" font-size="7.2" fill="#2b2b2b" stroke="#2b2b2b" stroke-width="0.2" textLength="28.40" lengthAdjust="spacingAndGlyphs" >Stopgain</text>
<text x="352.70" y="335.00" font-size="7.6" fill="#2b2b2b" stroke="#2b2b2b" stroke-width="0.2" textLength="81.90" lengthAdjust="spacingAndGlyphs" >Wildtype gene expression</text>
<text x="353.80" y="346.40" font-size="7.6" fill="#2b2b2b" stroke="#2b2b2b" stroke-width="0.2" textLength="50.00" lengthAdjust="spacingAndGlyphs" ><tspan font-style="italic">Mu</tspan>tation status</text>
<line x1="354.70" y1="352.10" x2="354.70" y2="362.90" stroke="#333" stroke-width="0.9"/>
<text x="360.80" y="358.70" font-size="7.2" fill="#2b2b2b" stroke="#2b2b2b" stroke-width="0.2" textLength="51.40" lengthAdjust="spacingAndGlyphs" ><tspan font-style="italic">Mu</tspan>tated patient</text>
<text x="354.70" y="374.60" font-size="9.0" fill="#777" stroke="#777" stroke-width="0" text-anchor="middle" >*</text>
<text x="360.80" y="373.60" font-size="7.4" fill="#2b2b2b" stroke="#2b2b2b" stroke-width="0.2" textLength="52.50" lengthAdjust="spacingAndGlyphs" >Wildtype patient</text>
</svg>
</body></html>
